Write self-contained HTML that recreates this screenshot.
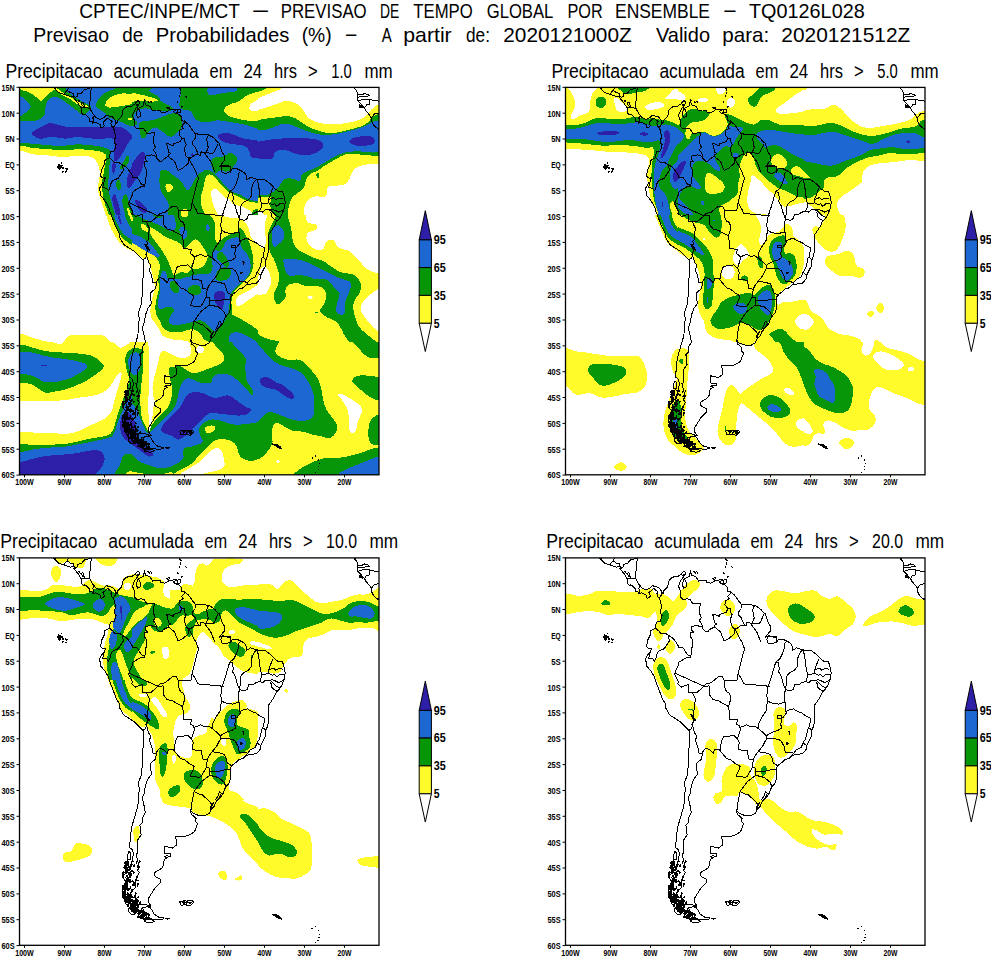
<!DOCTYPE html><html><head><meta charset="utf-8"><title>CPTEC ensemble</title>
<style>html,body{margin:0;padding:0;background:#fff}svg{display:block}text{font-family:"Liberation Sans",sans-serif;fill:#000}</style></head><body>
<svg width="991" height="957" viewBox="0 0 991 957">
<rect width="991" height="957" fill="#fff"/>
<g id="title"><text x="79.3" y="18.2" font-size="20.6" textLength="160.7" lengthAdjust="spacingAndGlyphs">CPTEC/INPE/MCT</text><text x="251.7" y="18.2" font-size="20.6" textLength="17.6" lengthAdjust="spacingAndGlyphs">−</text><text x="280.7" y="18.2" font-size="20.6" textLength="86.0" lengthAdjust="spacingAndGlyphs">PREVISAO</text><text x="380.0" y="18.2" font-size="20.6" textLength="19.3" lengthAdjust="spacingAndGlyphs">DE</text><text x="413.3" y="18.2" font-size="20.6" textLength="59.4" lengthAdjust="spacingAndGlyphs">TEMPO</text><text x="486.7" y="18.2" font-size="20.6" textLength="66.6" lengthAdjust="spacingAndGlyphs">GLOBAL</text><text x="567.5" y="18.2" font-size="20.6" textLength="35.2" lengthAdjust="spacingAndGlyphs">POR</text><text x="615.0" y="18.2" font-size="20.6" textLength="95.0" lengthAdjust="spacingAndGlyphs">ENSEMBLE</text><text x="723.3" y="18.2" font-size="20.6" textLength="13.4" lengthAdjust="spacingAndGlyphs">−</text><text x="749.0" y="18.2" font-size="20.6" textLength="115.7" lengthAdjust="spacingAndGlyphs">TQ0126L028</text><text x="33.3" y="41.7" font-size="20.6" textLength="75.7" lengthAdjust="spacingAndGlyphs">Previsao</text><text x="122.3" y="41.7" font-size="20.6" textLength="21.0" lengthAdjust="spacingAndGlyphs">de</text><text x="155.7" y="41.7" font-size="20.6" textLength="133.6" lengthAdjust="spacingAndGlyphs">Probabilidades</text><text x="301.7" y="41.7" font-size="20.6" textLength="30.0" lengthAdjust="spacingAndGlyphs">(%)</text><text x="345.0" y="41.7" font-size="20.6" textLength="12.3" lengthAdjust="spacingAndGlyphs">−</text><text x="381.7" y="41.7" font-size="20.6" textLength="10.0" lengthAdjust="spacingAndGlyphs">A</text><text x="403.3" y="41.7" font-size="20.6" textLength="48.4" lengthAdjust="spacingAndGlyphs">partir</text><text x="466.0" y="41.7" font-size="20.6" textLength="24.0" lengthAdjust="spacingAndGlyphs">de:</text><text x="503.3" y="41.7" font-size="20.6" textLength="128.4" lengthAdjust="spacingAndGlyphs">2020121000Z</text><text x="656.0" y="41.7" font-size="20.6" textLength="54.0" lengthAdjust="spacingAndGlyphs">Valido</text><text x="722.3" y="41.7" font-size="20.6" textLength="47.0" lengthAdjust="spacingAndGlyphs">para:</text><text x="781.3" y="41.7" font-size="20.6" textLength="129.0" lengthAdjust="spacingAndGlyphs">2020121512Z</text></g>
<defs><clipPath id="clip"><rect x="0.5" y="0.4" width="359.5" height="387.4"/></clipPath><g id="coast" fill="none" shape-rendering="crispEdges" stroke="#000" stroke-width="1" stroke-linejoin="round" stroke-linecap="round"><path d="M96.1 33.0 L97.9 36.7 L98.5 33.4 L100.3 31.6 L102.9 29.0 L103.3 24.1 L106.1 20.7 L108.7 19.4 L112.3 19.4 L116.3 16.6 L118.7 13.5 L120.9 15.0 L120.1 16.8 L117.7 17.9 L119.1 21.0 L118.5 23.0 L117.1 26.7 L118.7 30.8 L121.3 29.5 L121.1 25.1 L119.5 21.2 L121.9 19.9 L124.7 18.9 L124.5 15.8 L125.7 14.8 L126.5 17.9 L128.3 18.4 L130.7 19.2 L132.5 21.8 L133.5 23.6 L137.5 23.0 L141.1 23.0 L141.9 24.9 L145.5 25.6 L148.3 24.3 L150.3 22.8 L154.3 22.5 L157.9 22.4 L155.1 23.8 L154.3 24.3 L156.3 26.2 L159.1 26.9 L162.1 29.5 L162.3 33.4 L165.9 34.9 L169.1 37.0 L171.5 40.1 L173.1 42.7 L176.3 46.8 L179.5 47.1 L181.9 47.3 L185.1 47.1 L189.5 47.9 L193.9 50.2 L196.3 52.5 L198.5 55.1 L200.3 56.4 L201.5 60.3 L203.5 66.0 L205.9 69.1 L205.5 73.2 L203.1 76.3 L200.3 79.9 L203.1 78.4 L207.5 78.6 L211.9 79.4 L211.5 85.1 L213.5 81.5 L217.5 81.5 L221.5 83.5 L225.5 85.6 L227.5 89.2 L227.9 92.8 L231.5 90.3 L237.5 92.3 L241.5 92.8 L245.5 92.6 L251.5 97.0 L256.3 102.1 L259.5 104.2 L263.5 104.5 L264.7 107.8 L266.1 114.6 L265.9 119.7 L262.7 128.0 L259.9 132.1 L257.3 134.7 L255.5 138.9 L251.5 145.1 L249.5 147.6 L249.5 154.4 L249.9 160.6 L248.7 168.3 L246.7 173.5 L246.3 179.2 L244.3 182.8 L241.9 188.0 L241.5 191.6 L237.5 196.2 L232.7 196.8 L227.5 197.8 L223.9 200.9 L220.3 201.9 L217.5 204.5 L213.9 207.1 L211.5 210.2 L211.1 214.9 L211.5 220.5 L210.5 225.2 L207.5 228.8 L205.5 231.9 L204.3 235.5 L201.5 239.7 L197.1 244.3 L195.1 249.0 L191.9 252.3 L190.3 255.7 L185.7 258.5 L180.7 258.3 L174.3 256.0 L171.9 253.6 L172.1 256.7 L173.9 258.0 L177.1 260.9 L176.1 264.0 L178.7 265.8 L175.5 274.3 L170.7 277.4 L165.5 279.0 L156.7 278.7 L157.1 282.1 L157.1 287.8 L153.5 290.6 L145.5 288.8 L145.1 292.4 L145.9 296.0 L151.1 296.0 L151.1 299.1 L147.9 298.1 L145.5 299.1 L148.3 300.2 L145.3 301.7 L144.3 307.9 L142.7 310.8 L135.5 315.2 L135.5 318.3 L139.1 320.8 L141.9 321.9 L141.9 324.7 L135.5 331.2 L134.7 332.7 L131.9 336.9 L129.5 341.0 L129.5 344.6 L132.1 348.5 L127.5 349.3 L122.3 350.8 L121.9 352.6 L120.3 356.5 L115.5 354.4 L112.3 351.9 L108.3 348.2 L105.5 344.1 L104.3 336.4 L103.5 328.6 L107.5 325.0 L103.1 319.3 L107.9 314.6 L111.5 310.0 L113.5 302.7 L114.3 296.5 L113.7 292.4 L110.3 289.8 L110.7 284.7 L111.9 283.6 L111.5 276.9 L113.1 268.1 L115.1 261.4 L118.9 248.5 L119.5 238.1 L120.3 232.4 L119.5 225.2 L122.3 217.4 L123.1 209.2 L123.9 200.1 L123.3 197.3 L124.9 182.3 L124.3 173.5 L120.1 169.1 L114.7 163.9 L108.3 159.8 L104.7 157.5 L100.3 149.7 L100.7 147.1 L96.9 140.1 L94.7 134.2 L91.1 124.9 L89.5 119.7 L85.9 113.5 L81.1 107.8 L81.1 104.2 L80.2 102.0 L83.7 95.9 L85.5 94.9 L86.3 90.8 L84.3 91.3 L81.5 89.2 L82.5 83.0 L85.1 77.8 L85.3 73.7 L86.9 72.8 L90.3 70.6 L90.3 68.5 L91.9 64.4 L95.5 63.9 L97.1 57.7 L95.5 56.1 L96.3 48.9 L95.5 43.2 L93.9 40.6 L92.7 39.1 L91.9 36.2 L93.1 34.4 L91.5 33.4 L89.5 31.3 L87.5 31.6 L86.5 33.4 L83.9 34.9 L85.3 38.6 L83.9 40.4 L81.9 40.6 L81.3 37.5 L78.7 36.5 L76.7 35.2 L73.9 36.2 L72.9 34.4 L70.7 34.2 L70.9 31.6 L67.1 28.2 L65.9 27.2 L65.1 28.2 L62.7 26.4 L62.3 21.5 L59.5 16.8 L55.9 12.2 L54.7 10.6 L55.9 9.1 L51.5 9.6 L46.3 7.8 L39.9 5.7 L36.5 2.6 L33.5 -0.2 M72.9 -0.2 L71.9 3.9 L71.5 10.6 L70.7 15.8 L70.7 21.0 L73.5 26.2 L76.7 30.3 L78.7 31.3 L81.1 32.4 L85.5 30.3 L85.9 29.5 L87.5 28.2 L89.9 29.0 L93.5 30.0 L96.1 33.0 M131.1 350.1 L132.5 351.9 L135.1 356.5 L139.5 359.6 L144.7 360.4 L143.9 361.9 L138.3 362.2 L132.3 361.4 L125.5 361.7 L119.5 359.6 L121.9 357.5 L124.7 354.4 L123.9 350.6 L127.9 349.3Z M109.9 294.0 L111.9 296.0 L111.1 302.2 L108.3 301.7 L108.7 297.1Z M203.1 79.4 L207.5 79.4 L211.5 79.9 L211.1 84.6 L207.1 86.6 L203.1 85.6 L201.9 82.0Z M157.9 25.9 L161.5 25.4 L161.7 22.0 L158.9 22.5Z M160.7 344.1 L165.5 343.1 L168.3 343.8 L167.1 347.2 L161.9 347.7Z M168.7 343.3 L173.5 343.1 L174.5 345.1 L171.5 348.2 L167.5 347.7Z M39.5 77.3 L41.1 77.8 L41.9 81.0 L40.3 83.0 L39.5 81.0Z M38.7 79.4 L39.7 79.7 L39.1 80.4Z M43.3 80.7 L44.7 81.0 L44.1 81.9Z M47.1 81.6 L48.3 82.0 L47.5 82.8Z M42.1 78.9 L43.1 79.1 L42.5 79.8Z M340.3 17.9 L341.5 18.4 L341.9 19.9 L340.7 20.5Z M342.3 18.9 L343.5 19.4 L343.1 21.0Z M125.3 12.7 L126.1 13.5 L125.5 13.6Z M128.9 14.0 L130.5 15.6 L129.7 15.3Z M131.9 14.3 L132.7 15.6 L132.3 15.0Z M147.9 20.7 L150.3 20.2 L150.1 21.5 L148.3 21.5Z M159.7 -2.8 L160.5 -1.0 L159.9 -0.7Z M160.7 1.1 L162.1 2.9 L161.3 3.1Z M161.3 5.2 L161.9 6.8 L161.3 6.8Z M160.5 8.8 L160.9 9.9 L160.5 9.9Z M158.5 14.8 L159.1 15.8 L158.5 15.8Z M166.9 9.1 L167.7 10.1 L167.1 10.4Z M162.1 19.4 L163.3 19.4 L162.7 20.2Z M125.9 157.2 L127.5 158.0 L129.5 161.1 L130.7 163.2 L129.1 162.9 L127.1 160.1Z M200.7 234.0 L202.3 236.1 L200.7 239.7 L197.5 243.3 L196.7 242.3 L199.1 238.1 L199.9 235.5Z M194.7 244.8 L192.7 248.5 L191.5 250.5 L192.3 247.4Z M253.5 357.0 L257.5 357.5 L261.5 359.6 L262.3 361.7 L259.9 360.9 L256.3 358.8Z M104.7 330.1 L107.1 331.2 L106.7 336.4 L104.3 337.4 L103.5 333.8Z M105.9 337.9 L108.3 338.9 L107.1 343.1 L105.1 341.5Z M107.1 304.3 L109.9 305.3 L109.5 309.5 L107.1 311.5 L105.9 307.9Z M109.9 351.3 L113.5 352.4 L116.3 356.5 L112.7 357.0 L109.5 353.9Z M123.1 356.5 L125.5 358.1 L123.9 360.1 L120.7 358.6Z M125.9 362.2 L132.3 362.2 L135.5 363.8 L131.5 365.3 L125.9 364.3Z M146.7 360.9 L150.3 360.6 L148.7 361.7Z M61.9 16.1 L63.9 15.3 L65.5 19.4 L66.3 20.7 L63.5 18.4Z M59.1 13.7 L60.9 13.5 L60.7 14.8Z M337.1 -0.2 L335.5 1.6 L336.7 2.4 L337.9 4.4 L338.3 6.5 L339.1 8.1 L338.3 9.1 L338.5 13.2 L339.9 14.8 L341.5 16.3 L343.5 18.9 L345.5 21.2 L347.1 24.1 L350.3 27.7 L352.3 30.8 L352.7 34.4 L353.9 37.0 L355.9 39.6 L359.5 42.2 L361.5 43.7 M338.7 7.5 L343.5 7.5 L345.5 6.5 L349.5 7.8 L350.3 8.8 L345.5 9.6 L338.7 10.1 M338.7 14.0 L343.5 12.4 L350.7 12.4 L355.5 13.7 L361.5 14.3 M345.5 21.2 L347.5 17.9 L350.7 17.4 L350.7 12.4 M352.3 31.1 L355.5 26.7 L361.5 26.2 M359.5 42.0 L360.7 39.6 L362.3 37.5 M120.1 16.8 L117.5 20.5 L115.5 23.6 L113.5 28.7 L114.3 30.8 L115.9 34.4 L115.7 39.6 L117.5 41.7 L122.7 41.4 L125.1 41.9 L127.7 46.3 L135.5 45.8 L134.1 54.6 L136.3 60.3 L134.1 63.1 L136.7 66.0 L138.0 71.6 M138.0 71.6 L137.1 69.1 L133.9 68.8 L132.7 67.8 L126.1 69.1 L126.1 72.3 L128.9 74.5 L125.3 75.0 L125.3 78.6 L127.9 83.5 L125.7 99.6 M125.7 99.6 L124.3 97.5 L122.7 97.5 L117.9 90.0 L113.9 90.5 L112.7 87.2 L108.3 81.0 L104.5 78.4 M104.5 78.4 L100.3 75.8 L95.9 75.8 L93.5 73.2 L90.3 70.6 M104.5 78.4 L103.1 78.6 L104.7 83.0 L99.1 91.3 L94.3 93.4 L92.3 95.4 L90.7 101.6 L89.5 103.7 L87.5 101.1 L83.9 100.9 L84.3 95.4 M96.1 33.0 L96.7 36.7 L95.5 38.8 L93.9 40.6 M75.3 28.5 L73.9 30.8 L74.3 33.4 L73.9 36.2 M70.9 21.3 L66.7 20.7 L62.7 20.6 M72.9 0.3 L67.5 2.1 L65.5 2.4 L62.3 6.2 L58.7 6.8 L58.5 9.1 L56.3 10.6 M54.3 8.6 L54.7 6.2 L51.5 5.7 L48.1 3.4 M48.1 3.4 L47.3 4.2 L45.1 6.8 M48.1 3.4 L48.9 1.9 L49.9 -0.2 M36.5 2.6 L36.9 -0.2 M165.5 33.7 L166.3 34.9 L162.7 39.1 L164.3 41.1 L160.9 43.2 L159.9 47.1 L162.6 51.0 M162.6 51.0 L161.5 54.6 L154.7 56.9 L154.5 59.0 L149.5 56.7 L147.1 56.7 L148.7 59.2 L149.3 64.9 L151.9 66.5 L149.5 67.8 L149.1 69.6 L144.3 72.2 L143.3 74.0 L140.3 74.0 L138.0 71.6 M162.6 51.0 L165.1 51.0 L165.6 54.6 L167.3 57.4 L166.1 59.2 L165.6 63.6 L166.7 68.3 L168.5 70.6 L171.5 71.1 L173.5 69.8 L176.3 67.6 L179.5 67.8 M176.9 47.1 L176.5 51.0 L173.9 54.1 L173.3 57.2 L176.3 60.5 L179.5 67.8 M179.5 67.8 L181.7 68.3 L181.9 64.9 L187.1 65.8 M189.5 47.9 L187.7 52.0 L188.7 59.2 L189.5 59.8 L187.1 65.8 M187.1 65.8 L190.3 66.0 L193.9 66.5 L195.3 64.7 L198.9 56.9 M125.7 99.6 L122.3 99.6 L114.1 104.5 L112.9 108.9 L110.7 113.5 L109.5 116.6 L113.5 124.4 L112.7 126.4 L116.7 129.6 L123.1 127.0 L123.1 134.7 L127.2 134.5 M127.2 134.5 L130.9 142.5 L129.5 145.1 L129.9 151.3 L127.9 154.4 L128.9 157.0 L127.9 158.5 L129.7 161.6 L126.9 167.3 L127.6 168.3 M127.6 168.3 L126.3 171.4 L124.1 172.7 M127.6 168.3 L129.7 175.6 L131.7 178.1 L130.5 183.3 L132.7 189.0 L134.1 196.0 L136.8 195.7 M127.2 134.5 L130.5 134.7 L132.3 134.7 L138.9 129.0 L144.1 128.3 L144.3 137.3 L148.3 142.2 L153.5 143.3 L157.5 145.8 L161.5 147.6 L163.5 149.2 L164.5 155.9 L164.7 161.9 L172.1 162.1 L171.9 166.8 L174.5 168.6 L175.5 171.9 L172.9 180.0 L172.9 182.0 M172.9 182.0 L169.1 177.9 L158.5 179.4 L156.4 184.1 L154.9 192.9 M154.9 192.9 L154.3 191.6 L149.7 191.6 L148.3 195.7 L144.7 192.1 L140.5 190.6 L136.8 195.7 M136.8 195.7 L137.5 196.8 L136.1 201.9 L131.3 206.1 L132.3 216.9 L129.1 221.1 L126.3 228.3 L125.5 235.0 L123.3 240.7 L125.5 250.0 L126.3 255.2 L123.3 260.4 L123.9 264.5 L120.9 267.6 L122.1 277.4 L118.7 282.6 L118.1 292.9 L118.5 295.5 L116.9 296.5 L118.5 302.7 L120.3 309.5 L118.3 312.6 L120.3 315.2 L117.9 319.8 L116.1 323.4 L116.3 330.1 L111.3 335.8 L113.3 340.5 L116.3 340.0 L115.9 344.6 L117.9 346.7 L125.7 346.7 L131.7 348.5 M154.9 192.9 L161.5 200.9 L165.5 202.2 L170.3 206.1 L175.1 208.9 L174.3 211.5 L171.1 218.7 L175.1 219.2 L180.3 219.8 L182.1 219.2 L187.1 210.2 M172.9 182.0 L174.1 185.1 L173.7 192.1 L178.3 192.9 L182.1 193.1 L183.9 201.7 L188.3 202.2 L187.1 210.2 M187.1 210.2 L190.1 210.5 L190.3 218.2 L182.5 223.9 L175.1 234.0 M175.1 234.0 L172.7 245.9 L171.9 253.1 M175.1 234.0 L181.5 237.1 L183.1 237.3 L189.9 243.3 L192.9 246.9 L191.9 252.3 M113.6 348.0 L114.9 348.2 L115.2 346.3 L114.1 345.8 L113.6 346.6 L113.6 348.0 M106.4 314.8 L107.0 314.9 L106.7 314.0 L106.4 314.8 M125.5 358.8 L126.6 358.3 L125.8 356.4 L125.5 358.8 M111.1 301.0 L110.9 302.1 L111.7 301.9 L111.1 301.0 M110.7 317.9 L110.3 319.4 L111.1 320.0 L111.5 318.8 L110.7 317.9 M108.7 328.9 L107.9 328.4 L107.3 329.7 L108.3 329.9 L108.7 328.9 M105.6 339.6 L105.3 341.1 L106.2 341.8 L106.9 340.9 L106.8 339.1 L105.6 339.6 M110.2 340.1 L111.3 337.2 L109.5 337.6 L110.2 340.1 M107.7 331.6 L107.9 331.3 L107.8 330.8 L107.3 330.8 L107.4 331.4 L107.7 331.6 M108.0 343.5 L108.3 343.9 L108.7 343.5 L108.5 343.0 L108.2 343.0 L108.0 343.5 M117.9 350.8 L118.1 351.0 L118.5 350.9 L118.4 350.3 L118.0 350.4 L117.9 350.8 M104.4 335.1 L104.2 335.7 L104.7 335.7 L104.7 335.2 L104.4 335.1 M123.6 360.2 L123.5 359.0 L122.6 359.8 L123.6 360.2 M123.9 353.9 L123.5 354.6 L124.0 355.7 L124.5 354.8 L124.7 353.8 L123.9 353.9 M108.1 341.5 L106.5 341.3 L107.5 343.7 L108.1 341.5 M110.3 331.6 L109.8 330.7 L108.9 331.3 L109.1 332.8 L110.1 332.5 L110.3 331.6 M128.9 357.5 L129.6 357.7 L129.2 356.7 L128.9 357.5 M113.4 348.3 L113.2 349.9 L114.4 350.3 L114.4 348.7 L113.4 348.3 M122.2 354.2 L123.3 355.0 L124.4 353.9 L123.0 352.2 L122.2 354.2 M109.5 340.5 L111.1 339.8 L110.1 337.9 L109.5 340.5 M107.9 326.0 L107.2 326.8 L107.9 327.0 L107.9 326.0 M116.2 352.6 L114.9 354.2 L116.2 355.9 L116.2 352.6 M108.9 341.2 L109.4 341.2 L109.9 340.6 L109.3 340.3 L108.9 340.3 L108.9 341.2 M107.3 327.3 L106.6 326.0 L105.8 326.7 L106.3 328.2 L107.3 327.3 M125.9 361.9 L126.1 361.3 L125.7 361.1 L125.4 361.6 L125.9 361.9 M114.8 344.6 L115.1 343.2 L114.2 342.8 L113.6 344.2 L114.8 344.6 M108.4 342.3 L108.6 343.3 L109.7 343.2 L109.1 341.9 L108.4 342.3 M128.6 356.6 L129.0 357.1 L129.7 356.6 L129.0 355.9 L128.6 356.6 M107.1 327.0 L106.5 327.6 L107.0 328.5 L107.7 327.7 L107.1 327.0 M108.7 344.8 L108.4 345.1 L108.8 345.4 L109.1 345.0 L108.7 344.8 M110.5 339.6 L109.6 338.9 L109.5 340.8 L110.5 339.6 M113.8 349.6 L114.1 349.0 L114.1 348.3 L113.6 348.2 L113.2 349.1 L113.8 349.6 M122.7 359.9 L124.2 360.5 L124.3 358.4 L122.9 357.9 L122.7 359.9 M120.1 355.7 L120.9 356.9 L121.4 356.2 L121.2 354.7 L120.1 355.7 M112.0 345.9 L112.7 346.7 L112.7 345.6 L112.0 345.9 M108.4 314.2 L108.3 314.6 L108.8 314.7 L108.4 314.2 M107.5 331.3 L106.7 331.1 L106.2 331.9 L107.0 332.7 L107.5 331.3 M113.6 352.6 L112.1 353.7 L113.6 354.1 L113.6 352.6 M108.6 319.4 L107.5 318.6 L106.8 320.4 L108.0 320.6 L108.6 319.4 M106.5 336.6 L106.1 337.4 L106.8 337.6 L107.4 337.1 L107.0 336.2 L106.5 336.6 M124.8 357.0 L124.4 357.6 L124.3 358.5 L125.1 358.5 L125.3 357.6 L124.8 357.0 M107.9 339.6 L107.5 339.6 L107.5 339.9 L107.8 340.1 L107.9 339.6 M110.8 322.4 L110.2 322.1 L109.9 322.3 L109.7 323.3 L110.5 323.3 L110.8 322.4 M104.7 318.8 L103.6 319.6 L104.4 320.5 L104.7 318.8 M108.2 331.4 L108.7 330.6 L107.8 330.2 L108.2 331.4 M126.6 363.5 L127.2 361.8 L126.1 361.7 L126.6 363.5 M104.3 318.3 L103.7 317.1 L103.1 318.3 L103.7 319.1 L104.3 318.3 M105.8 341.0 L105.7 340.1 L105.2 340.0 L105.3 340.7 L105.8 341.0 M121.3 353.6 L121.4 354.3 L121.7 354.0 L121.3 353.6 M108.4 303.0 L108.3 303.5 L108.5 304.2 L108.7 303.6 L108.9 303.0 L108.4 303.0 M111.9 344.4 L111.5 345.7 L112.4 346.3 L113.4 345.6 L112.9 343.9 L111.9 344.4 M104.7 316.8 L105.9 316.7 L106.5 315.7 L105.8 314.5 L104.7 314.9 L104.7 316.8 M103.5 315.1 L103.4 316.0 L103.9 317.4 L104.7 316.1 L104.6 314.4 L103.5 315.1 M107.2 308.3 L106.1 308.1 L106.4 309.5 L107.2 308.3 M124.3 355.4 L124.5 356.5 L125.1 356.9 L125.4 356.0 L125.1 355.0 L124.3 355.4 M125.2 356.9 L125.6 357.6 L125.9 356.6 L125.2 356.9 M105.8 343.8 L106.5 345.0 L107.1 344.9 L107.4 344.1 L106.8 343.6 L105.8 343.8 M119.6 353.4 L120.1 354.1 L120.3 353.0 L119.6 353.4 M112.5 349.9 L112.1 350.1 L112.2 350.6 L112.5 350.9 L112.7 350.4 L112.5 349.9 M116.9 352.5 L118.3 352.8 L117.6 350.9 L116.9 352.5 M127.5 357.6 L128.0 357.9 L128.2 357.2 L127.7 356.8 L127.5 357.6 M104.1 329.2 L103.3 328.8 L103.4 330.2 L104.1 329.2 M124.5 354.0 L124.0 354.0 L124.1 354.7 L124.6 354.8 L124.5 354.0 M111.3 317.9 L112.3 317.7 L112.2 316.2 L111.3 316.3 L110.9 317.0 L111.3 317.9 M125.1 359.4 L125.1 358.2 L124.2 358.3 L124.2 359.2 L124.5 360.1 L125.1 359.4 M104.5 334.5 L104.3 334.9 L104.3 335.3 L104.6 335.3 L104.9 334.9 L104.5 334.5 M107.0 326.3 L106.5 328.0 L108.0 328.2 L108.3 326.1 L107.0 326.3 M111.1 348.6 L111.0 349.9 L112.3 350.1 L112.0 348.3 L111.1 348.6 M126.9 356.8 L127.0 355.4 L126.1 355.5 L126.2 356.4 L126.9 356.8 M109.9 343.9 L110.6 343.5 L110.4 342.5 L109.6 342.8 L109.9 343.9 M114.1 350.4 L114.5 350.8 L115.1 350.4 L115.1 349.0 L114.3 349.7 L114.1 350.4 M115.9 356.2 L116.5 356.3 L116.4 355.6 L115.9 355.4 L115.9 356.2 M112.2 305.3 L112.8 304.8 L112.2 304.3 L112.2 305.3 M122.5 354.7 L122.2 354.3 L121.8 354.8 L122.1 355.4 L122.7 355.4 L122.5 354.7 M113.9 350.1 L113.3 348.8 L112.9 349.8 L113.9 350.1 M115.3 349.4 L114.7 350.2 L115.6 350.6 L115.3 349.4 M121.7 360.8 L123.1 359.8 L121.8 358.6 L121.7 360.8 M110.1 345.4 L110.1 344.6 L109.5 344.1 L108.8 345.0 L109.5 345.6 L110.1 345.4 M105.2 304.7 L105.8 305.7 L106.4 304.3 L105.2 304.7 M104.3 328.8 L104.2 328.1 L103.7 328.2 L103.5 328.9 L104.0 329.1 L104.3 328.8 M117.3 350.7 L117.7 350.4 L117.2 350.1 L117.3 350.7 M117.9 354.6 L118.7 353.4 L117.6 353.2 L117.9 354.6 M125.6 363.7 L125.5 364.5 L126.1 364.0 L125.6 363.7 M116.7 352.9 L115.7 353.3 L116.4 354.4 L116.7 352.9 M112.7 340.1 L113.1 340.2 L113.1 339.5 L112.6 339.3 L112.5 339.9 L112.7 340.1 M104.0 330.3 L105.1 330.4 L104.6 328.5 L104.0 330.3 M106.0 343.3 L106.6 343.3 L106.4 342.5 L105.9 342.3 L105.7 342.9 L106.0 343.3 M123.3 356.0 L123.6 354.8 L122.6 355.4 L123.3 356.0 M107.6 303.7 L106.9 303.7 L106.3 304.1 L106.8 304.6 L107.3 304.8 L107.6 303.7 M127.9 357.7 L126.8 357.2 L127.3 358.7 L127.9 357.7 M114.8 344.9 L113.9 346.2 L115.3 346.7 L114.8 344.9 M120.1 355.1 L120.0 354.5 L119.7 355.1 L120.1 355.1 M130.2 356.8 L129.7 357.1 L129.5 358.1 L130.4 358.0 L130.2 356.8 M115.0 354.8 L114.9 354.4 L114.6 354.3 L114.6 355.1 L115.0 354.8 M109.7 347.8 L109.1 346.8 L108.3 347.6 L108.2 349.2 L109.4 349.0 L109.7 347.8 M115.4 355.9 L116.1 356.5 L116.9 355.9 L116.5 354.6 L115.3 354.1 L115.4 355.9 M109.9 341.7 L109.1 344.1 L110.6 343.5 L109.9 341.7 M110.6 340.5 L109.9 341.8 L110.4 342.8 L111.5 342.0 L110.6 340.5 M108.5 320.2 L107.8 321.3 L108.3 322.8 L109.3 321.9 L109.4 320.6 L108.5 320.2 M119.2 350.5 L119.5 348.3 L118.0 348.0 L118.1 349.7 L119.2 350.5 M107.9 320.9 L107.7 321.9 L108.3 322.1 L108.7 321.6 L108.6 320.7 L107.9 320.9 M107.1 344.4 L107.3 345.2 L107.7 344.5 L107.1 344.4 M104.5 315.2 L104.6 315.7 L104.9 315.6 L105.0 315.0 L104.5 315.2 M111.7 339.0 L111.5 338.4 L111.2 338.9 L111.7 339.0 M115.3 350.6 L116.5 350.8 L115.7 349.1 L115.3 350.6 M109.9 346.9 L110.2 346.3 L109.7 346.1 L109.9 346.9 M107.2 328.6 L108.0 328.5 L108.1 327.3 L107.3 326.6 L106.8 327.6 L107.2 328.6 M122.2 357.7 L121.5 357.9 L121.4 359.3 L122.3 358.6 L122.2 357.7 M106.6 311.4 L107.0 311.9 L107.7 311.9 L107.4 311.0 L106.9 310.6 L106.6 311.4 M124.5 361.6 L124.9 362.7 L125.6 362.2 L125.7 361.2 L125.0 361.0 L124.5 361.6 M120.2 353.6 L120.5 354.3 L120.9 354.1 L120.8 353.4 L120.2 353.6 M111.1 308.9 L110.4 309.1 L110.8 309.8 L111.1 308.9 M112.5 307.9 L113.3 307.5 L112.9 306.1 L112.0 306.6 L111.9 307.6 L112.5 307.9 M111.5 330.4 L111.0 331.0 L111.6 331.4 L111.5 330.4 M106.5 342.4 L106.1 341.5 L105.7 342.6 L106.5 342.4 M106.3 331.3 L106.7 330.4 L105.9 330.6 L106.3 331.3 M128.2 360.1 L128.6 360.6 L129.1 361.0 L129.4 360.0 L128.8 359.9 L128.2 360.1 M110.7 351.2 L111.3 351.8 L112.4 351.8 L111.9 350.2 L110.9 349.9 L110.7 351.2 M124.9 358.7 L125.4 358.7 L125.8 358.1 L125.3 357.8 L124.8 357.9 L124.9 358.7 M112.4 337.6 L111.8 337.9 L112.3 338.8 L112.4 337.6 M114.6 347.1 L114.3 349.4 L115.8 348.8 L114.6 347.1 M110.5 345.1 L110.8 345.3 L111.1 344.9 L110.9 344.4 L110.6 344.7 L110.5 345.1 M109.9 330.8 L110.1 332.0 L110.7 331.9 L110.9 330.7 L109.9 330.8 M108.2 307.6 L109.7 307.4 L109.3 305.2 L108.0 305.9 L108.2 307.6 M116.8 351.1 L116.1 352.0 L116.9 353.1 L116.8 351.1 M120.9 354.4 L120.2 353.6 L119.6 354.1 L120.0 355.2 L120.9 354.4 M112.8 352.2 L113.7 351.4 L113.1 350.8 L112.8 352.2 M111.9 309.5 L112.6 308.2 L111.2 308.0 L111.9 309.5 M110.1 339.1 L109.6 339.4 L110.1 340.2 L110.1 339.1 M107.6 311.0 L106.7 312.1 L108.0 313.1 L108.6 311.4 L107.6 311.0 M109.9 337.6 L108.9 338.4 L108.9 339.8 L110.0 340.8 L110.7 339.0 L109.9 337.6 M108.1 318.2 L107.7 317.7 L107.2 318.2 L107.7 318.7 L108.1 318.2 M111.9 314.2 L110.8 315.1 L111.6 316.7 L111.9 314.2 M107.3 325.6 L106.8 326.2 L107.0 327.2 L108.0 327.4 L108.3 325.8 L107.3 325.6 M124.5 356.0 L123.7 356.3 L123.5 357.5 L124.5 358.2 L124.8 356.9 L124.5 356.0 M112.4 343.6 L112.5 344.3 L112.9 344.2 L113.1 343.8 L112.8 343.3 L112.4 343.6 M127.5 358.3 L128.2 357.3 L127.7 356.4 L126.8 357.0 L127.5 358.3 M114.7 351.2 L114.9 352.1 L115.5 352.0 L115.5 351.3 L115.2 350.9 L114.7 351.2 M111.3 338.4 L110.9 338.2 L110.4 338.5 L110.7 339.3 L111.1 339.0 L111.3 338.4 M115.4 352.1 L115.4 354.1 L116.6 353.6 L115.4 352.1 M108.5 308.2 L109.7 308.9 L109.8 307.6 L108.5 308.2 M109.1 335.5 L108.5 336.3 L108.6 337.5 L109.8 338.2 L109.8 336.3 L109.1 335.5 M107.1 309.6 L107.1 309.1 L106.7 309.0 L106.7 309.7 L107.1 309.6 M104.5 340.7 L105.9 340.3 L105.3 338.8 L104.5 340.7 M123.2 358.0 L123.5 358.3 L123.9 357.9 L123.7 357.4 L123.3 357.4 L123.2 358.0 M106.8 312.0 L107.2 312.9 L107.6 312.7 L107.5 312.1 L106.8 312.0 M108.3 327.5 L107.1 327.0 L107.7 328.6 L108.3 327.5 M109.8 350.6 L110.4 351.0 L110.6 350.4 L110.2 349.9 L109.8 350.6 M105.7 338.9 L104.7 338.5 L103.6 339.5 L104.6 340.7 L105.7 340.6 L105.7 338.9 M107.2 313.2 L107.6 312.2 L106.9 312.2 L107.2 313.2 M107.0 315.3 L106.2 315.4 L106.7 316.5 L107.2 315.9 L107.0 315.3 M104.5 334.9 L104.9 335.7 L105.7 335.5 L105.7 334.3 L104.9 334.3 L104.5 334.9 M108.5 331.1 L107.4 332.1 L108.7 332.6 L108.5 331.1 M127.1 356.0 L127.3 356.6 L127.7 356.3 L127.6 355.2 L127.1 356.0 M104.9 330.2 L105.3 330.3 L105.6 329.9 L105.4 329.5 L105.0 329.5 L104.9 330.2 M106.5 330.2 L107.0 328.3 L105.9 328.5 L106.5 330.2 M118.3 351.2 L118.6 351.4 L118.9 351.1 L118.8 350.5 L118.4 350.7 L118.3 351.2 M107.4 309.8 L106.3 309.1 L105.0 309.9 L106.3 311.2 L107.4 309.8 M105.4 332.1 L105.1 332.8 L105.3 334.1 L106.1 333.4 L106.0 332.5 L105.4 332.1 M105.3 327.3 L104.7 328.3 L104.4 329.5 L105.3 329.3 L105.9 328.5 L105.3 327.3 M114.3 347.5 L114.9 347.3 L114.9 346.7 L114.4 346.6 L114.3 347.5 M107.9 343.7 L107.3 343.0 L106.9 343.2 L107.1 343.8 L107.9 343.7 M109.4 317.0 L110.2 317.2 L110.9 316.3 L110.2 315.0 L109.1 315.5 L109.4 317.0 M114.9 345.7 L114.6 345.4 L114.3 345.6 L114.2 346.4 L114.7 346.1 L114.9 345.7 M109.3 331.6 L108.9 331.1 L108.7 331.7 L109.3 331.6 M108.4 306.9 L107.7 306.4 L107.0 306.1 L107.2 307.2 L107.7 307.7 L108.4 306.9 M109.1 319.4 L109.4 321.1 L110.3 319.9 L109.1 319.4 M125.4 357.4 L127.0 357.7 L126.3 356.0 L125.4 357.4 M128.0 362.1 L128.9 360.0 L127.2 360.5 L128.0 362.1 M115.6 344.9 L114.1 345.0 L114.8 346.8 L115.6 344.9 M120.8 354.9 L121.3 354.8 L121.3 354.1 L120.8 353.3 L120.2 354.2 L120.8 354.9 M105.5 339.1 L105.9 339.5 L106.2 338.9 L105.7 338.6 L105.5 339.1 M127.3 358.9 L126.9 360.2 L127.6 360.7 L128.6 360.8 L128.1 359.6 L127.3 358.9 M108.5 342.1 L108.1 342.6 L108.1 343.5 L108.7 343.4 L108.9 342.7 L108.5 342.1 M106.1 325.3 L105.8 325.9 L106.4 326.1 L106.1 325.3 M121.3 352.7 L120.4 352.7 L120.4 353.8 L121.3 354.2 L121.3 352.7 M107.2 309.5 L107.4 311.1 L108.5 310.8 L107.2 309.5 M103.7 337.0 L103.6 338.1 L104.3 338.7 L105.2 337.6 L104.4 336.7 L103.7 337.0 M116.7 350.9 L115.5 352.5 L116.9 352.9 L117.7 352.0 L116.7 350.9 M119.8 351.8 L119.4 352.8 L120.2 352.9 L119.8 351.8 M128.9 359.5 L129.4 360.4 L130.3 360.6 L130.0 359.4 L129.5 358.5 L128.9 359.5 M112.1 336.7 L111.9 335.6 L111.1 335.7 L111.4 336.9 L112.1 336.7 M107.4 322.9 L107.7 324.0 L108.3 323.8 L108.5 323.2 L108.1 322.6 L107.4 322.9 M113.1 343.3 L112.5 343.1 L112.1 343.4 L112.2 344.5 L113.0 344.4 L113.1 343.3 M110.0 341.9 L111.2 343.2 L112.6 342.3 L111.3 341.0 L110.0 341.9 M125.9 355.5 L127.2 356.2 L127.1 354.5 L125.9 355.5 M111.1 342.3 L111.4 344.3 L112.3 342.7 L111.1 342.3 M119.1 358.1 L118.9 359.9 L120.4 358.6 L119.1 358.1 M107.9 335.5 L108.4 336.6 L108.8 335.4 L107.9 335.5 M112.0 303.6 L112.0 304.7 L112.6 304.9 L112.7 304.1 L112.0 303.6 M125.3 355.4 L126.0 355.1 L125.5 354.4 L125.3 355.4 M112.2 346.4 L111.0 346.8 L111.8 348.1 L112.8 347.7 L112.2 346.4 M121.3 359.9 L121.7 360.8 L122.4 359.7 L121.3 359.9 M105.0 331.6 L105.4 331.9 L105.7 331.5 L105.5 331.2 L105.2 331.1 L105.0 331.6 M115.4 347.0 L114.7 349.1 L116.0 350.4 L116.3 348.6 L115.4 347.0 M119.4 357.8 L120.0 357.0 L119.7 355.9 L118.9 356.6 L119.4 357.8 M114.5 347.5 L113.4 347.4 L114.1 349.2 L114.5 347.5 M106.2 312.5 L107.3 314.2 L107.6 311.7 L106.2 312.5 M111.9 311.3 L110.8 311.9 L110.9 313.4 L111.9 314.3 L112.1 312.8 L111.9 311.3 M108.0 325.4 L108.1 326.5 L108.5 325.5 L108.0 325.4 M115.2 350.3 L115.3 350.7 L115.7 350.5 L115.6 350.0 L115.3 349.8 L115.2 350.3 M108.8 343.4 L109.4 343.4 L109.5 342.7 L108.9 342.5 L108.8 343.4 M111.9 350.2 L112.9 349.1 L111.8 348.0 L111.1 349.2 L111.9 350.2 M108.2 342.5 L109.0 341.1 L108.2 339.5 L107.7 341.1 L108.2 342.5 M112.5 342.6 L113.0 342.9 L113.4 342.7 L113.3 342.0 L112.7 341.7 L112.5 342.6 M106.1 332.9 L107.0 332.0 L106.0 330.7 L106.1 332.9 M124.2 357.3 L124.4 358.4 L124.8 359.1 L125.5 358.3 L125.1 357.3 L124.2 357.3 M109.4 324.0 L109.1 322.9 L108.3 323.7 L109.4 324.0 M108.1 304.0 L107.7 305.2 L108.6 305.4 L109.4 304.9 L109.0 303.4 L108.1 304.0 M108.4 328.6 L107.9 327.9 L106.8 328.5 L107.4 330.2 L108.5 329.8 L108.4 328.6 M121.7 345.1 L121.7 344.4 L121.4 344.5 L121.2 345.0 L121.7 345.1 M115.8 338.4 L115.8 339.1 L116.4 339.1 L116.3 338.4 L116.1 338.2 L115.8 338.4 M116.0 338.9 L115.7 338.3 L115.3 338.5 L115.3 339.5 L116.0 338.9 M116.4 346.0 L116.4 347.1 L117.5 346.4 L116.4 346.0 M118.0 320.7 L118.4 319.4 L117.4 319.4 L118.0 320.7 M120.7 305.0 L121.1 303.9 L120.3 303.3 L120.3 304.3 L120.7 305.0 M118.5 309.8 L118.3 309.4 L118.0 309.5 L118.2 309.9 L118.5 309.8 M117.9 343.7 L117.9 344.4 L118.3 344.6 L118.4 344.3 L118.3 343.9 L117.9 343.7 M114.1 324.2 L114.3 323.9 L114.1 323.6 L113.8 323.8 L114.1 324.2 M115.6 308.5 L115.3 307.4 L114.7 308.0 L114.9 309.0 L115.6 308.5 M119.3 326.7 L118.9 325.4 L118.3 326.6 L119.3 326.7 M118.5 346.2 L117.8 346.6 L117.9 347.4 L118.5 347.5 L118.5 346.2 M118.3 309.5 L119.1 309.9 L119.4 309.1 L119.2 308.3 L118.4 308.1 L118.3 309.5 M113.3 323.1 L112.4 324.3 L113.5 324.5 L113.3 323.1 M114.5 316.0 L114.9 316.0 L115.0 315.3 L114.5 315.4 L114.5 316.0 M111.4 322.7 L111.9 323.4 L112.1 322.3 L111.7 321.9 L111.1 321.8 L111.4 322.7 M111.4 328.7 L111.2 329.1 L111.5 329.2 L111.6 328.8 L111.4 328.7 M114.8 326.9 L115.0 325.6 L114.1 326.1 L114.1 327.3 L114.8 326.9 M119.0 311.4 L119.3 311.7 L119.5 311.5 L119.3 310.9 L119.0 311.4 M114.3 304.0 L113.7 303.4 L113.8 304.6 L114.3 304.0 M121.5 345.7 L121.0 345.3 L120.4 345.3 L120.5 346.4 L121.2 346.5 L121.5 345.7 M114.0 327.9 L114.2 326.7 L113.4 326.9 L114.0 327.9 M119.1 347.7 L119.4 347.2 L119.3 346.9 L118.9 347.1 L119.1 347.7 M114.8 326.3 L115.3 325.9 L115.2 325.0 L114.6 324.9 L114.4 325.6 L114.8 326.3 M119.1 326.1 L119.3 325.7 L118.9 325.4 L118.7 325.8 L118.8 326.1 L119.1 326.1 M112.8 332.9 L113.3 332.7 L113.7 332.2 L113.2 331.7 L112.9 332.1 L112.8 332.9 M117.3 342.3 L117.9 343.4 L118.3 342.1 L117.6 341.5 L117.3 342.3 M114.8 342.6 L114.3 343.5 L114.9 344.1 L115.4 343.4 L114.8 342.6 M117.7 322.7 L117.8 321.9 L117.2 322.0 L116.9 323.2 L117.7 322.7 M117.6 320.0 L117.3 320.7 L117.8 320.7 L117.6 320.0 M114.8 314.7 L115.0 315.2 L115.2 314.8 L115.2 314.6 L114.9 314.3 L114.8 314.7 M112.6 332.4 L112.9 331.9 L112.5 331.7 L112.6 332.4 M119.1 323.3 L119.0 322.9 L118.7 322.8 L118.8 323.3 L119.1 323.3 M117.3 305.1 L117.7 305.7 L117.9 305.1 L117.6 304.2 L117.3 305.1 M113.1 339.2 L112.9 339.8 L113.3 340.4 L113.6 339.8 L113.5 339.1 L113.1 339.2 M119.3 340.2 L119.4 339.2 L118.7 339.5 L118.5 340.2 L118.9 340.6 L119.3 340.2 M117.7 343.3 L116.9 343.6 L116.7 344.6 L117.4 344.9 L117.8 344.4 L117.7 343.3 M116.9 348.2 L117.5 347.7 L116.9 346.7 L116.1 347.2 L116.4 348.2 L116.9 348.2 M118.9 328.3 L118.1 327.8 L118.3 329.0 L118.9 328.3 M114.7 326.8 L114.7 327.7 L115.0 327.9 L115.2 327.5 L114.7 326.8 M113.7 313.8 L113.1 312.5 L112.7 314.3 L113.7 313.8 M110.9 325.1 L111.5 325.1 L111.7 324.4 L111.3 323.9 L110.8 324.1 L110.9 325.1 M118.9 343.5 L119.1 344.1 L119.7 343.4 L118.9 343.5 M117.1 336.4 L116.9 335.5 L116.2 335.4 L116.1 336.5 L116.7 336.8 L117.1 336.4 M116.0 327.9 L116.4 327.6 L116.1 327.2 L115.8 326.9 L115.6 327.6 L116.0 327.9 M169.9 71.4 L172.3 76.3 L177.5 85.6 L178.3 89.2 L179.9 90.8 L177.9 96.5 L173.1 115.8 M149.5 69.6 L155.5 74.2 L159.1 83.5 L163.9 81.0 L169.5 76.3 L169.9 71.4 M110.3 115.8 L138.3 128.5 M138.3 128.5 L141.5 126.4 L145.9 125.4 L153.5 119.2 L157.5 119.2 L159.5 123.3 M159.5 123.3 L171.9 123.1 L173.1 115.8 M159.5 123.3 L159.5 129.6 L161.5 134.2 L163.9 135.2 L165.9 139.4 L165.5 142.5 L163.9 147.6 L163.7 149.2 M173.1 115.8 L177.5 123.3 L178.7 126.4 L204.7 128.8 M185.9 66.5 L192.3 75.3 L195.5 84.1 M202.3 142.9 L201.5 152.8 L196.3 160.6 L193.1 167.3 L193.1 170.9 M221.9 154.9 L217.9 160.1 L216.3 160.6 L215.9 166.8 L216.3 170.9 L212.7 173.0 L208.7 174.0 L203.5 176.6 L201.5 178.7 M193.1 170.9 L189.5 168.8 L185.5 169.4 L181.5 167.3 L175.5 169.9 L174.5 168.6 M193.1 170.9 L197.5 174.5 L201.5 178.7 L201.5 181.2 L197.5 189.0 L193.1 194.2 L189.5 199.3 L188.3 202.2 M201.5 181.2 L207.5 181.2 L213.5 181.8 L216.3 183.8 L219.1 189.0 L220.3 194.7 L225.5 194.7 L228.7 195.7 M228.7 195.7 L226.7 198.6 M193.1 194.2 L199.5 195.2 L205.5 196.8 L207.1 200.9 L208.3 205.5 L213.1 208.4 M211.1 212.3 L205.5 212.3 L200.3 213.8 L193.5 213.8 L190.7 213.8 M206.7 229.3 L205.5 225.2 L199.5 220.0 L193.5 218.5 L190.3 218.2 M228.7 195.7 L231.5 192.1 L236.3 190.0 L237.9 185.4 L241.5 188.0 M237.9 185.4 L240.7 181.2 L241.9 176.1 L243.1 170.9 L243.9 170.4 L247.1 172.5 M212.7 158.0 L216.3 158.0 L216.3 160.8 L212.7 160.8 L212.7 158.0 M220.1 85.0 L219.5 89.7 L217.5 95.9 L214.9 101.2 L210.7 104.8 L208.6 111.6 L206.5 119.0 L204.4 125.2 L202.8 130.4 L201.8 137.7 L202.3 142.9 M210.7 104.8 L213.3 105.4 L214.3 110.6 L213.8 114.8 L216.4 119.0 L217.5 124.2 L219.5 129.4 L220.6 132.0 M202.3 142.9 L205.5 145.1 L209.6 146.1 L213.8 146.6 L218.0 145.1 L220.1 145.1 M220.6 132.0 L219.5 135.7 L219.0 140.9 L220.1 145.1 L220.1 150.3 L220.6 154.5 M237.9 92.3 L235.2 94.9 L233.1 99.0 L232.6 104.3 L232.1 109.5 L229.5 112.6 L225.3 114.8 L222.2 117.9 L221.1 122.1 L221.1 127.3 L220.6 132.0 M238.4 92.8 L239.4 98.0 L240.5 104.3 L241.0 109.5 L242.0 114.8 L242.5 116.8 M242.5 116.8 L242.0 121.0 L240.5 124.2 L236.8 125.2 L233.7 127.3 L229.5 127.3 L228.4 131.5 L225.3 133.5 L222.2 132.5 L220.6 132.0 M253.5 101.7 L251.9 106.4 L249.9 111.6 L249.9 115.8 L246.2 116.8 L242.5 116.8 M264.0 111.6 L259.8 111.1 L256.7 112.6 L254.6 110.6 L251.9 111.6 L250.1 112.6 M265.0 116.8 L260.8 116.8 L257.7 119.5 L255.6 116.8 L253.5 117.9 L249.9 115.8 M264.0 123.1 L259.8 125.2 L255.6 123.1 L252.5 122.1 L250.4 123.1 M250.4 123.1 L246.2 122.6 L244.1 125.2 L241.0 124.2 M260.8 130.4 L256.7 128.3 L253.5 125.2 L251.9 123.6 M258.2 134.1 L254.6 131.5 L252.5 129.4 L251.9 125.2 M220.6 154.5 L224.3 152.3 L228.4 151.3 L231.6 153.4 L236.8 155.5 L241.0 158.7 L245.1 160.7 L245.5 163.2 L243.9 170.4"/><path d="M125.9 157.2 L127.5 158.0 L129.5 161.1 L130.7 163.2 L129.1 162.9 L127.1 160.1Z M253.5 357.0 L257.5 357.5 L261.5 359.6 L262.3 361.7 L259.9 360.9 L256.3 358.8Z M163.1 344.1 L166.3 344.6 L164.7 346.2Z M169.5 344.6 L172.7 344.6 L171.1 346.7Z M223.9 174.0 L225.1 175.6 L224.3 177.1Z M221.1 184.9 L223.5 185.9 L221.9 186.9Z M39.5 77.3 L41.1 77.8 L41.9 81.0 L40.3 83.0 L39.5 81.0Z M38.5 79.1 L39.7 79.4 L39.1 80.7Z M43.1 80.4 L44.9 80.7 L44.1 82.2Z M46.7 81.4 L48.5 82.0 L47.5 83.0Z M41.9 78.6 L43.3 78.9 L42.5 80.0Z M43.3 84.1 L44.3 84.3 L43.7 85.1Z M46.3 84.6 L47.1 84.8 L46.7 85.3Z M42.1 75.5 L42.7 76.3 L42.3 76.4Z" fill="#000"/><circle cx="300.3" cy="376.7" r="0.7" fill="#000" stroke="none"/><circle cx="299.5" cy="373.1" r="0.7" fill="#000" stroke="none"/><circle cx="296.7" cy="368.9" r="0.7" fill="#000" stroke="none"/><circle cx="299.9" cy="379.8" r="0.7" fill="#000" stroke="none"/><circle cx="299.1" cy="382.9" r="0.7" fill="#000" stroke="none"/><circle cx="296.3" cy="385.2" r="0.7" fill="#000" stroke="none"/><circle cx="293.1" cy="371.0" r="0.7" fill="#000" stroke="none"/></g><g id="cbar" stroke="#000" stroke-width="1" stroke-linejoin="miter"><path d="M400.2 152.9 L406.3 123.7 L412.4 152.9 Z" fill="#2e1fa8"/><rect x="400.2" y="152.9" width="12.2" height="27.7" fill="#1c67d2"/><rect x="400.2" y="180.6" width="12.2" height="27.8" fill="#079607"/><rect x="400.2" y="208.4" width="12.2" height="27.9" fill="#fffa2a"/><path d="M400.2 236.3 L406.3 264.5 L412.4 236.3 Z" fill="#fff"/></g><g id="cbl" font-weight="bold" font-size="12"><text x="414.7" y="157.2" textLength="12.0" lengthAdjust="spacingAndGlyphs">95</text><text x="414.7" y="184.9" textLength="12.0" lengthAdjust="spacingAndGlyphs">65</text><text x="414.7" y="212.7" textLength="12.0" lengthAdjust="spacingAndGlyphs">35</text><text x="414.7" y="240.6" textLength="5.8" lengthAdjust="spacingAndGlyphs">5</text></g><g id="axes"><g font-weight="bold" font-size="9.4"><text x="-17.5" y="3.7" textLength="13.2" lengthAdjust="spacingAndGlyphs">15N</text><path d="M-2.5 0.3 H0.5" stroke="#000" stroke-width="1" fill="none"/><text x="-17.5" y="29.6" textLength="13.2" lengthAdjust="spacingAndGlyphs">10N</text><path d="M-2.5 26.2 H0.5" stroke="#000" stroke-width="1" fill="none"/><text x="-13.8" y="55.4" textLength="9.5" lengthAdjust="spacingAndGlyphs">5N</text><path d="M-2.5 52.0 H0.5" stroke="#000" stroke-width="1" fill="none"/><text x="-13.8" y="81.3" textLength="9.5" lengthAdjust="spacingAndGlyphs">EQ</text><path d="M-2.5 77.9 H0.5" stroke="#000" stroke-width="1" fill="none"/><text x="-13.8" y="107.1" textLength="9.5" lengthAdjust="spacingAndGlyphs">5S</text><path d="M-2.5 103.7 H0.5" stroke="#000" stroke-width="1" fill="none"/><text x="-17.5" y="133.0" textLength="13.2" lengthAdjust="spacingAndGlyphs">10S</text><path d="M-2.5 129.6 H0.5" stroke="#000" stroke-width="1" fill="none"/><text x="-17.5" y="158.8" textLength="13.2" lengthAdjust="spacingAndGlyphs">15S</text><path d="M-2.5 155.4 H0.5" stroke="#000" stroke-width="1" fill="none"/><text x="-17.5" y="184.7" textLength="13.2" lengthAdjust="spacingAndGlyphs">20S</text><path d="M-2.5 181.3 H0.5" stroke="#000" stroke-width="1" fill="none"/><text x="-17.5" y="210.5" textLength="13.2" lengthAdjust="spacingAndGlyphs">25S</text><path d="M-2.5 207.1 H0.5" stroke="#000" stroke-width="1" fill="none"/><text x="-17.5" y="236.4" textLength="13.2" lengthAdjust="spacingAndGlyphs">30S</text><path d="M-2.5 233.0 H0.5" stroke="#000" stroke-width="1" fill="none"/><text x="-17.5" y="262.2" textLength="13.2" lengthAdjust="spacingAndGlyphs">35S</text><path d="M-2.5 258.8 H0.5" stroke="#000" stroke-width="1" fill="none"/><text x="-17.5" y="288.1" textLength="13.2" lengthAdjust="spacingAndGlyphs">40S</text><path d="M-2.5 284.7 H0.5" stroke="#000" stroke-width="1" fill="none"/><text x="-17.5" y="313.9" textLength="13.2" lengthAdjust="spacingAndGlyphs">45S</text><path d="M-2.5 310.5 H0.5" stroke="#000" stroke-width="1" fill="none"/><text x="-17.5" y="339.8" textLength="13.2" lengthAdjust="spacingAndGlyphs">50S</text><path d="M-2.5 336.4 H0.5" stroke="#000" stroke-width="1" fill="none"/><text x="-17.5" y="365.6" textLength="13.2" lengthAdjust="spacingAndGlyphs">55S</text><path d="M-2.5 362.2 H0.5" stroke="#000" stroke-width="1" fill="none"/><text x="-17.5" y="391.4" textLength="13.2" lengthAdjust="spacingAndGlyphs">60S</text><path d="M-2.5 388.1 H0.5" stroke="#000" stroke-width="1" fill="none"/><text x="-3.8" y="398.3" textLength="18.6" lengthAdjust="spacingAndGlyphs">100W</text><path d="M5.5 387.8 V390.3" stroke="#000" stroke-width="1" fill="none"/><text x="38.5" y="398.3" textLength="14.0" lengthAdjust="spacingAndGlyphs">90W</text><path d="M45.5 387.8 V390.3" stroke="#000" stroke-width="1" fill="none"/><text x="78.5" y="398.3" textLength="14.0" lengthAdjust="spacingAndGlyphs">80W</text><path d="M85.5 387.8 V390.3" stroke="#000" stroke-width="1" fill="none"/><text x="118.5" y="398.3" textLength="14.0" lengthAdjust="spacingAndGlyphs">70W</text><path d="M125.5 387.8 V390.3" stroke="#000" stroke-width="1" fill="none"/><text x="158.5" y="398.3" textLength="14.0" lengthAdjust="spacingAndGlyphs">60W</text><path d="M165.5 387.8 V390.3" stroke="#000" stroke-width="1" fill="none"/><text x="198.5" y="398.3" textLength="14.0" lengthAdjust="spacingAndGlyphs">50W</text><path d="M205.5 387.8 V390.3" stroke="#000" stroke-width="1" fill="none"/><text x="238.5" y="398.3" textLength="14.0" lengthAdjust="spacingAndGlyphs">40W</text><path d="M245.5 387.8 V390.3" stroke="#000" stroke-width="1" fill="none"/><text x="278.5" y="398.3" textLength="14.0" lengthAdjust="spacingAndGlyphs">30W</text><path d="M285.5 387.8 V390.3" stroke="#000" stroke-width="1" fill="none"/><text x="318.5" y="398.3" textLength="14.0" lengthAdjust="spacingAndGlyphs">20W</text><path d="M325.5 387.8 V390.3" stroke="#000" stroke-width="1" fill="none"/></g></g></defs>
<g transform="translate(19,87)">
<text x="-13.6" y="-9.1" font-size="19.4" textLength="97.1" lengthAdjust="spacingAndGlyphs">Precipitacao</text><text x="94.4" y="-9.1" font-size="19.4" textLength="85.4" lengthAdjust="spacingAndGlyphs">acumulada</text><text x="190.5" y="-9.1" font-size="19.4" textLength="22.8" lengthAdjust="spacingAndGlyphs">em</text><text x="224.4" y="-9.1" font-size="19.4" textLength="18.8" lengthAdjust="spacingAndGlyphs">24</text><text x="255.0" y="-9.1" font-size="19.4" textLength="22.9" lengthAdjust="spacingAndGlyphs">hrs</text><text x="289.0" y="-9.1" font-size="19.4" textLength="9.7" lengthAdjust="spacingAndGlyphs">&gt;</text><text x="312.2" y="-9.1" font-size="19.4" textLength="20.6" lengthAdjust="spacingAndGlyphs">1.0</text><text x="345.5" y="-9.1" font-size="19.4" textLength="28.2" lengthAdjust="spacingAndGlyphs">mm</text>
<g clip-path="url(#clip)" shape-rendering="crispEdges">
<clipPath id="c1_0"><rect x="-4.0" y="0.0" width="117.0" height="128.0"/></clipPath><g clip-path="url(#c1_0)"><path d="M-5.4 -3.4 L137.2 -3.4 L137.2 139.2 L-5.4 139.2Z" fill="#1c67d2"/><path d="M-5.4 0.1 C-5.4 0.1 33.9 -0.5 42.6 0.1 C51.3 0.7 45.2 2.4 46.8 3.6 C48.5 4.9 50.6 6.6 52.5 7.9 C54.4 9.2 56.3 10.2 58.1 11.4 C60.0 12.6 61.9 13.9 63.8 14.9 C65.7 16.0 68.0 16.8 69.4 17.8 C70.9 18.7 72.3 19.5 72.3 20.6 C72.3 21.7 70.6 22.8 69.4 24.1 C68.3 25.4 66.6 28.0 65.2 28.4 C63.8 28.7 62.4 27.2 61.0 26.2 C59.6 25.3 58.4 24.0 56.7 22.7 C55.1 21.4 53.0 19.9 51.1 18.5 C49.2 17.1 47.3 15.5 45.4 14.2 C43.6 12.9 41.7 11.4 39.8 10.7 C37.9 10.0 36.0 9.4 34.1 10.0 C32.3 10.6 29.8 12.5 28.5 14.2 C27.2 16.0 26.8 18.4 26.4 20.6 C25.9 22.8 26.5 25.8 25.7 27.7 C24.8 29.5 23.3 30.8 21.4 31.9 C19.5 33.0 17.2 33.7 14.4 34.0 C11.5 34.4 7.8 34.0 4.5 34.0 C1.2 34.0 -5.4 34.0 -5.4 34.0 L-5.4 0.1Z" fill="#079607"/><path d="M-5.4 55.9 C-5.4 55.9 1.2 55.4 4.5 55.6 C7.8 55.8 11.1 56.7 14.4 57.0 C17.7 57.4 20.7 57.3 24.2 57.6 C27.8 57.9 31.8 58.6 35.5 58.7 C39.3 58.9 43.1 58.7 46.8 58.5 C50.6 58.2 54.4 57.4 58.1 57.3 C61.9 57.3 65.7 57.7 69.4 58.0 C73.2 58.4 77.7 58.9 80.7 59.4 C83.8 60.0 86.0 60.7 87.8 61.6 C89.6 62.4 90.8 62.7 91.3 64.4 C91.9 66.0 91.1 68.9 90.9 71.4 C90.8 74.0 90.5 77.1 90.4 79.9 C90.2 82.7 90.1 85.6 89.9 88.4 C89.7 91.2 89.2 94.0 89.2 96.9 C89.2 99.7 89.5 102.5 89.9 105.3 C90.4 108.2 91.3 111.0 92.0 113.8 C92.8 116.6 93.3 119.5 94.2 122.3 C95.0 125.1 96.3 127.9 97.0 130.8 C97.7 133.6 98.4 139.2 98.4 139.2 L-5.4 139.2 L-5.4 55.9Z" fill="#079607"/><path d="M77.2 19.2 C76.7 17.3 77.8 14.4 79.3 12.1 C80.9 9.9 83.8 7.5 86.4 5.8 C89.0 4.1 92.0 2.9 94.9 2.0 C97.7 1.0 96.3 0.4 103.3 0.1 C110.4 -0.2 137.2 0.1 137.2 0.1 L137.2 22.7 C137.2 22.7 132.5 21.7 130.2 21.3 C127.8 21.0 125.0 20.2 123.1 20.6 C121.2 21.0 120.1 22.2 118.9 23.4 C117.7 24.6 116.4 26.0 116.1 27.7 C115.7 29.3 116.1 31.9 116.8 33.3 C117.5 34.7 118.8 35.9 120.3 36.1 C121.8 36.4 124.1 35.2 125.9 34.7 C127.8 34.3 129.7 33.7 131.6 33.3 C133.5 33.0 137.2 32.6 137.2 32.6 L137.2 39.0 C137.2 39.0 133.2 39.7 131.6 40.4 C129.9 41.1 128.8 42.0 127.4 43.2 C125.9 44.4 124.1 46.0 123.1 47.4 C122.2 48.8 122.4 51.7 121.7 51.7 C121.0 51.7 119.6 48.8 118.9 47.4 C118.2 46.0 118.2 44.4 117.5 43.2 C116.8 42.0 116.1 41.2 114.6 40.4 C113.2 39.5 110.9 39.1 109.0 38.3 C107.1 37.4 105.2 36.3 103.3 35.4 C101.5 34.6 99.3 33.9 97.7 33.3 C96.0 32.7 94.9 32.5 93.5 31.9 C92.0 31.3 90.4 30.7 89.2 29.8 C88.0 28.8 87.6 27.3 86.4 26.2 C85.2 25.2 83.7 24.6 82.2 23.4 C80.6 22.2 77.7 21.1 77.2 19.2Z" fill="#079607"/><path d="M104.8 74.3 C105.6 73.0 106.1 71.0 106.9 70.0 C107.7 69.1 109.2 68.2 109.7 68.6 C110.2 69.1 110.5 71.2 110.1 72.9 C109.8 74.5 108.6 77.1 107.6 78.5 C106.6 79.9 105.1 80.7 104.1 81.3 C103.0 81.9 101.6 82.6 101.2 82.0 C100.9 81.5 101.3 79.1 101.9 77.8 C102.5 76.5 103.9 75.6 104.8 74.3Z" fill="#079607"/><path d="M97.0 96.9 C97.0 95.5 97.7 93.8 98.4 93.3 C99.1 92.9 100.6 93.0 101.2 94.0 C101.8 95.1 101.9 98.2 101.9 99.7 C101.9 101.2 101.8 102.9 101.2 103.2 C100.6 103.6 99.1 102.9 98.4 101.8 C97.7 100.8 97.0 98.3 97.0 96.9Z" fill="#079607"/><path d="M104.1 109.6 C104.6 108.3 106.1 107.2 106.9 107.5 C107.7 107.7 108.4 109.2 109.0 111.0 C109.6 112.8 109.7 115.7 110.4 118.1 C111.1 120.4 112.3 123.0 113.2 125.1 C114.2 127.2 114.9 129.4 116.1 130.8 C117.2 132.1 119.6 131.8 120.3 133.2 C121.0 134.6 120.3 139.2 120.3 139.2 L109.0 139.2 C109.0 139.2 107.6 133.6 106.9 130.8 C106.2 127.9 105.3 124.9 104.8 122.3 C104.2 119.7 103.5 117.4 103.3 115.2 C103.2 113.1 103.5 110.9 104.1 109.6Z" fill="#079607"/><path d="M-5.4 59.4 C-5.4 59.4 1.4 58.8 4.5 59.0 C7.5 59.3 10.1 60.4 12.9 60.9 C15.8 61.3 18.4 61.3 21.4 61.6 C24.5 61.8 27.8 62.0 31.3 62.3 C34.8 62.5 39.1 63.2 42.6 63.3 C46.1 63.3 49.2 62.9 52.5 62.7 C55.8 62.5 59.1 62.2 62.4 62.3 C65.7 62.4 69.2 62.9 72.3 63.3 C75.3 63.6 78.4 63.7 80.7 64.4 C83.1 65.0 85.3 65.8 86.4 67.2 C87.5 68.6 87.2 70.7 87.1 72.9 C87.0 75.0 86.2 77.3 85.7 79.9 C85.2 82.5 84.7 85.6 84.3 88.4 C83.8 91.2 83.0 94.0 82.9 96.9 C82.7 99.7 83.2 102.5 83.6 105.3 C83.9 108.2 84.3 111.0 85.0 113.8 C85.7 116.6 86.9 119.5 87.8 122.3 C88.7 125.1 89.9 127.9 90.6 130.8 C91.3 133.6 92.0 139.2 92.0 139.2 L-5.4 139.2 L-5.4 59.4Z" fill="#fffa2a"/><path d="M0.2 1.5 C0.2 0.9 -1.6 0.4 4.5 0.1 C10.6 -0.1 32.0 -0.5 37.0 0.1 C41.9 0.7 35.3 2.6 34.1 3.6 C33.0 4.7 31.3 5.3 29.9 6.5 C28.5 7.7 27.0 9.4 25.7 10.7 C24.4 12.0 23.3 14.1 22.1 14.2 C21.0 14.4 19.9 12.5 18.6 11.4 C17.3 10.4 15.9 8.9 14.4 7.9 C12.8 6.8 11.1 5.8 9.4 5.1 C7.8 4.4 6.0 4.2 4.5 3.6 C2.9 3.1 0.2 2.1 0.2 1.5Z" fill="#fffa2a"/><path d="M37.0 0.8 C37.8 1.1 39.5 2.5 41.2 3.6 C42.8 4.8 45.0 6.7 46.8 7.9 C48.7 9.1 50.4 9.5 52.5 10.7 C54.6 11.9 57.4 13.8 59.6 14.9 C61.7 16.1 63.6 17.1 65.2 17.8 C66.9 18.5 69.2 18.6 69.4 19.2 C69.7 19.8 67.8 21.3 66.6 21.3 C65.4 21.3 64.0 20.0 62.4 19.2 C60.7 18.4 58.6 17.5 56.7 16.4 C54.9 15.2 53.0 13.3 51.1 12.1 C49.2 10.9 47.3 10.4 45.4 9.3 C43.6 8.2 41.3 6.9 39.8 5.8 C38.3 4.6 36.7 3.1 36.3 2.2 C35.8 1.4 36.1 0.6 37.0 0.8Z" fill="#fffa2a"/><path d="M86.4 17.1 C86.7 15.9 87.8 13.5 89.2 12.1 C90.6 10.7 92.5 9.5 94.9 8.6 C97.2 7.7 100.3 6.7 103.3 6.5 C106.4 6.2 110.2 6.7 113.2 7.2 C116.3 7.7 118.9 8.5 121.7 9.3 C124.5 10.1 127.6 11.4 130.2 12.1 C132.8 12.8 137.2 13.5 137.2 13.5 L137.2 17.1 C137.2 17.1 131.6 15.9 128.8 15.7 C125.9 15.4 122.9 15.4 120.3 15.7 C117.7 15.9 115.6 16.6 113.2 17.1 C110.9 17.5 108.8 18.0 106.2 18.5 C103.6 19.0 100.3 19.5 97.7 19.9 C95.1 20.2 92.4 20.7 90.6 20.6 C88.9 20.5 87.8 19.8 87.1 19.2 C86.4 18.6 86.0 18.2 86.4 17.1Z" fill="#fffa2a"/><path d="M109.0 31.2 L113.2 30.8 L113.5 33.0 L109.3 33.3Z" fill="#fffa2a"/><path d="M108.3 122.3 C108.3 120.8 109.1 120.9 109.7 121.6 C110.3 122.3 111.0 124.8 111.8 126.5 C112.6 128.3 113.9 130.1 114.6 132.2 C115.4 134.3 116.1 139.2 116.1 139.2 L111.1 139.2 C111.1 139.2 110.2 133.6 109.7 130.8 C109.2 127.9 108.3 123.8 108.3 122.3Z" fill="#fffa2a"/><path d="M-5.4 64.4 C-5.4 64.4 1.4 63.9 4.5 64.4 C7.5 64.9 10.1 66.6 12.9 67.2 C15.8 67.8 18.4 67.7 21.4 67.9 C24.5 68.2 27.8 68.3 31.3 68.6 C34.8 69.0 39.1 69.9 42.6 70.0 C46.1 70.2 49.2 69.6 52.5 69.3 C55.8 69.1 59.1 68.5 62.4 68.6 C65.7 68.7 69.8 69.1 72.3 70.0 C74.7 71.0 75.9 72.6 77.2 74.3 C78.5 75.9 79.5 77.6 80.0 79.9 C80.6 82.3 80.9 85.6 80.7 88.4 C80.6 91.2 79.6 94.0 79.3 96.9 C79.1 99.7 78.9 102.5 79.3 105.3 C79.8 108.2 81.2 111.0 82.2 113.8 C83.1 116.6 84.0 119.5 85.0 122.3 C85.9 125.1 87.2 127.9 87.8 130.8 C88.4 133.6 88.5 139.2 88.5 139.2 L-5.4 139.2 L-5.4 64.4Z" fill="#ffffff"/><path d="M-5.4 9.3 C-5.4 9.3 -0.5 8.6 1.6 9.3 C3.8 10.0 5.7 11.9 7.3 13.5 C8.9 15.2 11.2 17.5 11.5 19.2 C11.9 20.8 10.6 22.1 9.4 23.4 C8.2 24.7 5.9 25.9 4.5 27.0 C3.1 28.0 2.6 29.2 0.9 29.8 C-0.7 30.4 -5.4 30.5 -5.4 30.5 L-5.4 9.3Z" fill="#1c67d2"/><path d="M12.9 46.0 C13.4 44.7 16.2 43.2 18.6 41.8 C21.0 40.4 25.0 38.5 27.1 37.5 C29.2 36.6 29.4 36.1 31.3 36.1 C33.2 36.1 35.8 37.0 38.4 37.5 C41.0 38.1 43.8 39.3 46.8 39.7 C49.9 40.0 53.4 39.6 56.7 39.7 C60.0 39.7 63.3 40.0 66.6 40.1 C69.9 40.2 73.2 40.3 76.5 40.4 C79.8 40.4 83.3 40.5 86.4 40.4 C89.5 40.3 92.0 39.7 94.9 39.7 C97.7 39.7 101.0 39.5 103.3 40.4 C105.7 41.2 107.3 43.1 109.0 44.6 C110.6 46.1 113.0 47.9 113.2 49.6 C113.5 51.2 111.3 53.0 110.4 54.5 C109.5 56.0 108.5 57.1 107.6 58.7 C106.6 60.4 105.8 62.5 104.8 64.4 C103.7 66.3 102.4 68.4 101.2 70.0 C100.0 71.7 98.8 73.8 97.7 74.3 C96.6 74.7 95.3 74.3 94.9 72.9 C94.4 71.4 94.8 68.2 94.9 65.8 C95.0 63.4 95.6 61.0 95.6 58.7 C95.6 56.5 95.9 53.7 94.9 52.4 C93.8 51.1 91.6 51.0 89.2 51.0 C86.9 51.0 83.6 52.3 80.7 52.4 C77.9 52.4 75.1 51.7 72.3 51.4 C69.4 51.1 66.6 50.7 63.8 50.5 C61.0 50.4 58.1 50.1 55.3 50.3 C52.5 50.4 49.7 51.6 46.8 51.7 C44.0 51.7 41.2 50.8 38.4 50.5 C35.5 50.3 32.7 49.7 29.9 50.0 C27.1 50.2 23.8 52.0 21.4 52.0 C19.1 51.9 17.2 50.5 15.8 49.6 C14.4 48.6 12.5 47.3 12.9 46.0Z" fill="#2e1fa8"/><path d="M109.0 88.4 C109.7 86.0 110.6 83.7 111.8 81.3 C113.0 79.0 114.6 76.4 116.1 74.3 C117.5 72.2 118.9 70.2 120.3 68.6 C121.7 67.1 123.6 65.1 124.5 65.1 C125.5 65.1 125.8 66.9 125.9 68.6 C126.1 70.4 125.7 73.3 125.2 75.7 C124.8 78.0 123.9 80.4 123.1 82.7 C122.3 85.1 121.5 87.7 120.3 89.8 C119.1 91.9 117.5 93.8 116.1 95.5 C114.6 97.1 113.0 98.8 111.8 99.7 C110.6 100.6 109.7 101.8 109.0 101.1 C108.3 100.4 107.6 97.6 107.6 95.5 C107.6 93.3 108.3 90.7 109.0 88.4Z" fill="#2e1fa8"/><path d="M93.5 77.1 C93.7 75.8 94.4 75.0 94.9 75.0 C95.4 75.0 96.4 75.6 96.6 77.1 C96.8 78.6 96.4 82.5 96.0 84.2 C95.6 85.8 94.6 87.2 94.2 87.0 C93.7 86.7 93.3 84.4 93.2 82.7 C93.1 81.1 93.2 78.4 93.5 77.1Z" fill="#2e1fa8"/><path d="M93.5 109.6 C93.8 108.3 94.9 107.2 95.6 107.5 C96.3 107.7 97.0 109.2 97.7 111.0 C98.4 112.8 99.2 115.7 99.8 118.1 C100.4 120.4 100.8 122.8 101.2 125.1 C101.7 127.5 102.3 129.8 102.6 132.2 C103.0 134.5 103.3 139.2 103.3 139.2 L99.8 139.2 C99.8 139.2 98.4 133.6 97.7 130.8 C97.0 127.9 96.2 124.9 95.6 122.3 C94.9 119.7 94.1 117.4 93.7 115.2 C93.4 113.1 93.2 110.9 93.5 109.6Z" fill="#2e1fa8"/><path d="M116.8 113.8 C117.1 112.9 119.0 112.6 120.3 113.1 C121.6 113.6 123.2 115.3 124.5 116.6 C125.8 117.9 127.6 119.6 128.1 120.9 C128.5 122.2 128.2 123.7 127.4 124.4 C126.5 125.1 124.3 125.4 123.1 125.1 C121.9 124.9 121.1 124.1 120.3 123.0 C119.5 121.9 118.8 120.3 118.2 118.8 C117.6 117.2 116.4 114.8 116.8 113.8Z" fill="#2e1fa8"/></g><clipPath id="c1_1"><rect x="113.0" y="0.0" width="126.0" height="128.0"/></clipPath><g clip-path="url(#c1_1)"><path d="M104.6 -3.4 L247.2 -3.4 L247.2 139.2 L104.6 139.2Z" fill="#1c67d2"/><path d="M104.6 0.1 C104.6 0.1 127.9 -0.5 132.1 0.1 C136.4 0.7 129.7 2.6 130.0 3.6 C130.4 4.7 132.6 5.4 134.2 6.5 C135.9 7.5 138.7 8.8 139.9 10.0 C141.1 11.2 140.4 12.5 141.3 13.5 C142.3 14.6 143.9 15.4 145.5 16.4 C147.2 17.3 149.8 18.1 151.2 19.2 C152.6 20.2 154.5 21.9 154.0 22.7 C153.6 23.5 150.5 24.0 148.4 24.1 C146.3 24.2 143.7 23.7 141.3 23.4 C139.0 23.2 136.6 23.1 134.2 22.7 C131.9 22.4 129.5 21.3 127.2 21.3 C124.8 21.3 122.0 21.9 120.1 22.7 C118.2 23.5 116.7 24.7 115.9 26.2 C115.1 27.8 114.7 30.3 115.2 31.9 C115.7 33.5 118.8 35.0 118.7 36.1 C118.6 37.3 116.1 38.7 114.5 39.0 C112.8 39.2 110.5 38.0 108.8 37.5 C107.2 37.1 104.6 36.1 104.6 36.1 L104.6 0.1Z" fill="#079607"/><path d="M160.4 -3.4 L189.3 -3.4 C189.3 -3.4 187.9 3.9 188.6 5.8 C189.3 7.7 191.3 7.8 193.6 7.9 C195.8 8.0 199.2 6.9 202.0 6.5 C204.9 6.0 207.9 5.5 210.5 5.1 C213.1 4.6 216.2 5.1 217.6 3.6 C219.0 2.2 219.0 -3.4 219.0 -3.4 L247.2 -3.4 L247.2 43.2 C247.2 43.2 241.6 42.5 238.8 41.8 C235.9 41.1 233.1 39.8 230.3 39.0 C227.5 38.1 224.6 37.4 221.8 36.8 C219.0 36.3 216.2 35.9 213.3 35.4 C210.5 35.0 207.5 34.4 204.9 34.0 C202.3 33.7 200.2 33.2 197.8 33.3 C195.5 33.4 192.9 34.4 190.7 34.7 C188.6 35.1 187.0 35.5 185.1 35.4 C183.2 35.3 181.1 34.8 179.4 34.0 C177.8 33.2 176.3 31.9 175.2 30.5 C174.1 29.1 174.0 26.7 173.1 25.5 C172.1 24.4 171.1 23.9 169.6 23.4 C168.0 23.0 165.4 23.4 163.9 22.7 C162.4 22.0 160.8 21.0 160.4 19.2 C159.9 17.4 160.8 14.5 161.1 12.1 C161.3 9.8 161.9 7.7 161.8 5.1 C161.7 2.5 160.4 -3.4 160.4 -3.4Z" fill="#079607"/><path d="M120.1 36.1 C120.9 34.4 123.7 34.5 125.8 34.0 C127.9 33.5 130.5 33.8 132.8 33.3 C135.2 32.8 137.5 32.0 139.9 31.2 C142.3 30.4 144.6 29.2 147.0 28.4 C149.3 27.5 151.8 26.2 154.0 26.2 C156.3 26.2 159.0 27.2 160.4 28.4 C161.8 29.5 162.0 31.5 162.5 33.3 C163.0 35.1 163.6 37.3 163.2 39.0 C162.9 40.6 161.4 41.9 160.4 43.2 C159.3 44.5 158.1 45.7 156.8 46.7 C155.6 47.8 154.0 49.2 152.6 49.6 C151.2 49.9 149.5 49.4 148.4 48.8 C147.2 48.3 146.7 47.0 145.5 46.0 C144.4 45.1 142.7 44.1 141.3 43.2 C139.9 42.3 138.5 40.6 137.1 40.4 C135.7 40.1 134.2 40.8 132.8 41.8 C131.4 42.7 129.8 44.5 128.6 46.0 C127.4 47.6 126.8 50.3 125.8 51.0 C124.7 51.7 123.1 51.3 122.2 50.3 C121.4 49.2 121.2 47.0 120.8 44.6 C120.5 42.3 119.3 37.9 120.1 36.1Z" fill="#079607"/><path d="M104.6 70.0 C104.6 70.0 107.2 69.1 108.1 69.3 C109.0 69.6 110.0 70.4 110.0 71.4 C110.0 72.5 109.0 74.4 108.1 75.7 C107.2 77.0 104.6 79.2 104.6 79.2 L104.6 70.0Z" fill="#079607"/><path d="M192.2 74.3 C192.6 72.2 194.7 70.7 196.4 70.0 C198.0 69.3 200.4 70.3 202.0 70.0 C203.7 69.8 205.1 69.2 206.3 68.6 C207.5 68.0 207.9 66.9 209.1 66.5 C210.3 66.1 211.9 65.9 213.3 66.5 C214.8 67.1 216.9 68.6 217.6 70.0 C218.3 71.4 218.2 73.3 217.6 75.0 C217.0 76.6 215.2 78.5 214.1 79.9 C212.9 81.3 211.8 82.6 210.5 83.5 C209.2 84.3 207.5 85.0 206.3 84.9 C205.1 84.7 204.6 82.9 203.5 82.7 C202.3 82.6 200.4 83.5 199.2 84.2 C198.0 84.9 197.3 87.2 196.4 87.0 C195.5 86.7 194.3 84.9 193.6 82.7 C192.9 80.6 191.7 76.4 192.2 74.3Z" fill="#079607"/><path d="M141.3 84.2 C142.4 83.0 145.1 82.3 147.0 82.7 C148.8 83.2 150.7 85.6 152.6 87.0 C154.5 88.4 156.4 89.6 158.3 91.2 C160.1 92.9 162.3 94.9 163.9 96.9 C165.6 98.9 166.7 102.9 168.1 103.2 C169.6 103.6 171.1 100.8 172.4 99.0 C173.7 97.2 174.9 94.5 175.9 92.6 C177.0 90.7 177.6 89.0 178.7 87.7 C179.9 86.4 181.4 85.7 183.0 84.9 C184.5 84.0 186.3 82.7 187.9 82.7 C189.6 82.7 191.2 83.8 192.9 84.9 C194.5 85.9 196.2 87.5 197.8 89.1 C199.5 90.7 201.1 92.9 202.8 94.8 C204.4 96.6 205.9 98.8 207.7 100.4 C209.5 102.0 211.5 103.6 213.3 104.6 C215.2 105.7 217.1 105.9 219.0 106.8 C220.9 107.6 222.8 108.6 224.6 109.6 C226.5 110.5 228.4 111.7 230.3 112.4 C232.2 113.1 234.1 113.7 235.9 113.8 C237.8 113.9 239.7 113.3 241.6 113.1 C243.5 112.9 247.2 112.4 247.2 112.4 L247.2 139.2 L154.0 139.2 C154.0 139.2 152.1 133.1 151.2 130.8 C150.3 128.4 148.6 127.0 148.4 125.1 C148.1 123.2 149.8 121.4 149.8 119.5 C149.8 117.6 149.5 116.2 148.4 113.8 C147.2 111.5 144.0 108.2 142.7 105.3 C141.4 102.5 141.0 99.5 140.6 96.9 C140.3 94.3 140.5 91.9 140.6 89.8 C140.7 87.7 140.3 85.3 141.3 84.2Z" fill="#079607"/><path d="M104.6 6.5 C104.6 6.5 109.1 5.7 111.6 5.8 C114.2 5.9 117.3 6.6 120.1 7.2 C122.9 7.8 126.0 8.6 128.6 9.3 C131.2 10.0 134.0 10.7 135.7 11.4 C137.3 12.1 138.7 13.0 138.5 13.5 C138.3 14.1 136.1 14.5 134.2 14.7 C132.4 14.8 129.5 14.4 127.2 14.2 C124.8 14.1 122.2 13.7 120.1 13.8 C118.0 13.9 116.4 14.4 114.5 14.7 C112.6 15.0 110.5 15.4 108.8 15.7 C107.2 15.9 104.6 16.1 104.6 16.1 L104.6 6.5Z" fill="#fffa2a"/><path d="M109.1 30.8 L113.1 30.8 L113.1 33.0 L109.1 33.0Z" fill="#fffa2a"/><path d="M204.9 23.4 C205.0 22.1 206.3 20.4 207.7 19.2 C209.1 18.0 211.2 17.2 213.3 16.4 C215.5 15.5 218.3 15.4 220.4 14.2 C222.5 13.1 223.9 10.6 226.1 9.3 C228.2 8.0 230.8 7.3 233.1 6.5 C235.5 5.7 237.8 4.8 240.2 4.4 C242.5 3.9 247.2 3.6 247.2 3.6 L247.2 34.0 C247.2 34.0 242.5 34.4 240.2 34.4 C237.8 34.4 235.5 34.2 233.1 34.0 C230.8 33.8 228.4 33.7 226.1 33.3 C223.7 33.0 221.3 32.5 219.0 31.9 C216.6 31.3 213.9 30.6 211.9 29.8 C209.9 29.0 208.2 28.0 207.0 27.0 C205.8 25.9 204.8 24.7 204.9 23.4Z" fill="#fffa2a"/><path d="M230.3 21.3 C230.3 20.2 230.5 18.4 231.7 17.1 C232.9 15.8 235.5 14.5 237.4 13.5 C239.2 12.6 241.4 11.9 243.0 11.4 C244.7 10.9 247.2 10.7 247.2 10.7 L247.2 23.4 C247.2 23.4 243.5 24.0 241.6 24.1 C239.7 24.2 237.6 24.2 235.9 24.1 C234.3 24.0 232.6 23.9 231.7 23.4 C230.8 23.0 230.3 22.4 230.3 21.3Z" fill="#ffffff"/><path d="M146.3 99.0 C146.3 97.7 147.4 97.1 148.4 96.9 C149.3 96.6 151.0 97.0 151.9 97.6 C152.8 98.2 154.0 99.3 154.0 100.4 C154.0 101.5 152.8 103.2 151.9 103.9 C151.0 104.6 149.3 105.5 148.4 104.6 C147.4 103.8 146.3 100.3 146.3 99.0Z" fill="#fffa2a"/><path d="M181.6 111.0 C181.7 108.2 183.1 106.3 183.7 103.9 C184.3 101.6 184.6 99.0 185.1 96.9 C185.6 94.8 185.8 92.8 186.5 91.2 C187.2 89.7 188.2 88.2 189.3 87.7 C190.5 87.2 192.2 87.6 193.6 88.4 C195.0 89.2 196.4 91.1 197.8 92.6 C199.2 94.2 200.6 96.0 202.0 97.6 C203.5 99.1 204.9 100.5 206.3 101.8 C207.7 103.1 208.9 104.3 210.5 105.3 C212.2 106.4 214.3 107.2 216.2 108.2 C218.1 109.1 219.9 110.1 221.8 111.0 C223.7 111.9 225.6 113.1 227.5 113.8 C229.4 114.5 231.2 114.9 233.1 115.2 C235.0 115.6 237.4 115.5 238.8 115.9 C240.2 116.4 241.4 117.1 241.6 118.1 C241.8 119.0 241.1 120.9 240.2 121.6 C239.2 122.3 237.1 121.7 235.9 122.3 C234.8 122.9 234.1 123.9 233.1 125.1 C232.2 126.3 231.2 128.2 230.3 129.4 C229.4 130.5 228.4 130.5 227.5 132.2 C226.5 133.8 224.6 139.2 224.6 139.2 L185.1 139.2 C185.1 139.2 186.9 132.4 186.5 129.4 C186.2 126.3 183.8 123.9 183.0 120.9 C182.2 117.8 181.4 113.8 181.6 111.0Z" fill="#fffa2a"/><path d="M192.2 105.3 C192.4 103.6 193.3 102.3 194.3 101.8 C195.2 101.3 196.5 101.7 197.8 102.5 C199.1 103.3 200.6 105.3 202.0 106.8 C203.5 108.2 204.9 110.1 206.3 111.0 C207.7 111.9 209.3 111.5 210.5 112.4 C211.7 113.3 212.2 115.7 213.3 116.6 C214.5 117.6 215.9 117.6 217.6 118.1 C219.2 118.5 221.3 118.8 223.2 119.5 C225.1 120.2 227.2 121.4 228.9 122.3 C230.5 123.2 232.9 123.9 233.1 125.1 C233.4 126.3 231.2 127.9 230.3 129.4 C229.4 130.8 227.5 133.6 227.5 133.6 L226.1 139.2 L203.5 139.2 C203.5 139.2 200.6 131.2 199.2 127.9 C197.8 124.6 196.0 122.1 195.0 119.5 C193.9 116.9 193.3 114.8 192.9 112.4 C192.4 110.1 191.9 107.1 192.2 105.3Z" fill="#ffffff"/><path d="M161.8 125.8 C161.8 124.5 163.0 122.9 163.9 122.3 C164.9 121.7 166.6 121.7 167.4 122.3 C168.3 122.9 169.1 124.5 169.1 125.8 C169.1 127.1 168.4 129.4 167.4 130.1 C166.5 130.8 164.6 130.8 163.6 130.1 C162.7 129.4 161.7 127.1 161.8 125.8Z" fill="#fffa2a"/><path d="M104.6 44.6 C104.6 44.6 107.5 45.1 108.8 46.0 C110.1 47.0 112.1 48.6 112.4 50.3 C112.6 51.9 111.3 54.4 110.2 55.9 C109.2 57.4 106.9 58.7 106.0 59.4 C105.1 60.1 104.6 60.1 104.6 60.1 L104.6 44.6Z" fill="#2e1fa8"/><path d="M110.9 82.7 C111.9 80.6 112.1 79.0 113.1 77.1 C114.0 75.2 115.2 73.3 116.6 71.4 C118.0 69.6 120.1 66.9 121.5 65.8 C122.9 64.7 124.4 64.4 125.1 65.1 C125.8 65.8 125.9 68.0 125.8 70.0 C125.7 72.0 124.8 75.0 124.4 77.1 C123.9 79.2 123.7 80.9 122.9 82.7 C122.2 84.6 121.2 86.7 120.1 88.4 C119.1 90.0 117.7 91.2 116.6 92.6 C115.5 94.0 114.8 95.7 113.8 96.9 C112.7 98.0 111.2 99.7 110.2 99.7 C109.3 99.7 108.6 98.5 108.1 96.9 C107.6 95.2 106.9 92.2 107.4 89.8 C107.9 87.5 110.0 84.9 110.9 82.7Z" fill="#2e1fa8"/><path d="M115.9 113.8 C116.0 112.8 117.5 112.6 118.7 113.1 C119.9 113.6 121.5 115.3 122.9 116.6 C124.4 117.9 126.2 119.6 127.2 120.9 C128.1 122.2 129.0 123.6 128.6 124.4 C128.2 125.2 126.4 125.9 125.1 125.8 C123.8 125.7 122.0 124.8 120.8 123.7 C119.7 122.6 118.8 121.1 118.0 119.5 C117.2 117.8 115.8 114.9 115.9 113.8Z" fill="#2e1fa8"/><path d="M198.5 49.6 C198.5 48.4 200.3 47.3 202.0 46.7 C203.8 46.1 206.8 45.8 209.1 46.0 C211.5 46.3 213.8 47.3 216.2 48.1 C218.5 49.0 220.9 50.3 223.2 51.0 C225.6 51.7 227.9 52.0 230.3 52.4 C232.6 52.8 234.5 53.0 237.4 53.4 C240.2 53.7 247.2 54.5 247.2 54.5 L247.2 71.4 C247.2 71.4 243.5 70.7 241.6 70.7 C239.7 70.7 237.6 71.6 235.9 71.4 C234.3 71.3 232.6 71.2 231.7 70.0 C230.8 68.9 231.0 66.0 230.3 64.4 C229.6 62.7 228.9 61.2 227.5 60.1 C226.1 59.1 223.9 58.5 221.8 58.0 C219.7 57.6 217.1 57.7 214.8 57.3 C212.4 57.0 209.8 56.5 207.7 55.9 C205.6 55.3 203.6 54.9 202.0 53.8 C200.5 52.7 198.5 50.7 198.5 49.6Z" fill="#2e1fa8"/><path d="M171.7 67.2 C171.9 66.7 173.2 66.3 173.5 66.5 C173.9 66.7 174.0 68.2 173.8 68.6 C173.6 69.1 172.5 69.6 172.1 69.3 C171.7 69.1 171.4 67.7 171.7 67.2Z" fill="#2e1fa8"/></g><clipPath id="c1_2"><rect x="239.0" y="0.0" width="122.0" height="128.0"/></clipPath><g clip-path="url(#c1_2)"><path d="M224.6 -3.4 L268.4 -3.4 C268.4 -3.4 263.7 0.8 261.3 2.2 C259.0 3.6 256.6 4.1 254.2 5.1 C251.9 6.0 249.5 6.9 247.2 7.9 C244.8 8.8 242.5 9.7 240.1 10.7 C237.8 11.8 234.8 13.1 233.1 14.2 C231.3 15.4 230.0 16.5 229.5 17.8 C229.1 19.1 229.2 21.1 230.2 22.0 C231.3 23.0 233.5 23.5 235.9 23.4 C238.2 23.3 241.5 22.1 244.4 21.3 C247.2 20.5 250.0 19.4 252.8 18.5 C255.7 17.5 259.0 16.4 261.3 15.7 C263.7 14.9 264.8 13.9 267.0 13.8 C269.1 13.7 271.7 14.1 274.0 14.9 C276.4 15.8 279.2 17.5 281.1 19.2 C283.0 20.8 283.9 22.8 285.3 24.8 C286.7 26.8 287.7 29.5 289.6 31.2 C291.4 32.8 294.0 33.8 296.6 34.7 C299.2 35.7 302.3 36.4 305.1 36.8 C307.9 37.3 310.7 37.3 313.6 37.3 C316.4 37.3 319.2 37.1 322.0 36.8 C324.9 36.5 327.7 36.0 330.5 35.4 C333.3 34.8 336.4 34.3 339.0 33.3 C341.6 32.4 344.2 31.2 346.1 29.8 C347.9 28.4 348.9 26.4 350.3 24.8 C351.7 23.3 353.1 21.8 354.5 20.6 C355.9 19.4 356.6 18.4 358.8 17.8 C360.9 17.2 367.2 17.1 367.2 17.1 L367.2 77.1 C367.2 77.1 356.6 77.0 353.1 77.1 C349.6 77.2 348.4 77.3 346.1 77.8 C343.7 78.3 340.9 79.1 339.0 79.9 C337.1 80.7 335.9 81.3 334.8 82.7 C333.6 84.2 332.9 86.5 331.9 88.4 C331.0 90.3 330.3 92.5 329.1 94.0 C327.9 95.6 326.8 96.8 324.9 97.6 C323.0 98.3 320.2 98.3 317.8 98.6 C315.5 98.8 312.4 98.3 310.7 99.0 C309.1 99.6 308.5 100.9 307.9 102.5 C307.3 104.2 308.2 107.7 307.2 108.9 C306.3 110.1 304.3 109.5 302.3 109.6 C300.3 109.7 297.3 109.1 295.2 109.6 C293.1 110.1 291.1 111.0 289.6 112.4 C288.0 113.8 286.9 115.9 286.0 118.1 C285.2 120.2 284.5 122.6 284.6 125.1 C284.7 127.6 286.4 130.8 286.7 133.2 C287.1 135.5 286.7 139.2 286.7 139.2 L224.6 139.2 L224.6 -3.4Z" fill="#fffa2a"/><path d="M224.6 125.8 C224.6 125.8 228.4 124.4 230.2 124.4 C232.1 124.4 234.0 125.9 235.9 125.8 C237.8 125.7 239.9 123.8 241.5 123.7 C243.2 123.6 244.5 124.1 245.8 125.1 C247.1 126.2 248.5 127.7 249.3 130.1 C250.1 132.4 250.7 139.2 250.7 139.2 L224.6 139.2 L224.6 125.8Z" fill="#ffffff"/><path d="M224.6 -3.4 L250.7 -3.4 C250.7 -3.4 249.0 0.2 247.2 1.5 C245.4 2.8 242.5 3.5 240.1 4.4 C237.8 5.2 235.7 5.9 233.1 6.5 C230.5 7.1 224.6 7.9 224.6 7.9 L224.6 -3.4Z" fill="#079607"/><path d="M224.6 33.3 C224.6 33.3 231.2 34.3 234.5 34.0 C237.8 33.8 241.1 32.4 244.4 31.9 C247.7 31.4 251.0 31.2 254.2 30.8 C257.5 30.3 261.1 29.5 264.1 29.4 C267.2 29.2 270.0 29.1 272.6 29.8 C275.2 30.4 277.3 31.9 279.7 33.3 C282.0 34.7 284.4 36.8 286.7 38.3 C289.1 39.7 291.2 40.7 293.8 41.8 C296.4 42.8 299.4 43.9 302.3 44.6 C305.1 45.3 307.9 45.9 310.7 46.0 C313.6 46.1 316.4 45.8 319.2 45.3 C322.0 44.8 324.9 43.9 327.7 43.2 C330.5 42.5 333.6 41.8 336.2 41.1 C338.8 40.4 341.1 39.9 343.2 39.0 C345.4 38.0 347.2 36.8 348.9 35.4 C350.5 34.0 351.7 31.8 353.1 30.5 C354.5 29.2 355.0 28.4 357.4 27.7 C359.7 27.0 367.2 26.2 367.2 26.2 L367.2 68.6 C367.2 68.6 356.6 68.7 353.1 68.6 C349.6 68.5 348.6 68.2 346.1 67.9 C343.5 67.7 340.2 67.4 337.6 67.2 C335.0 67.0 332.6 66.4 330.5 66.5 C328.4 66.6 327.0 67.1 324.9 67.9 C322.8 68.7 320.2 70.2 317.8 71.4 C315.5 72.7 313.1 74.3 310.7 75.7 C308.4 77.1 305.8 78.5 303.7 79.9 C301.6 81.3 299.7 83.2 298.0 84.2 C296.4 85.1 295.2 84.9 293.8 85.6 C292.4 86.3 290.7 87.0 289.6 88.4 C288.4 89.8 287.4 92.2 286.7 94.0 C286.0 95.9 286.5 97.8 285.3 99.7 C284.1 101.6 281.6 103.7 279.7 105.3 C277.8 107.0 275.4 107.9 274.0 109.6 C272.6 111.2 272.0 113.1 271.2 115.2 C270.4 117.4 269.5 119.7 269.1 122.3 C268.6 124.9 268.6 127.9 268.4 130.8 C268.1 133.6 267.7 139.2 267.7 139.2 L248.6 139.2 C248.6 139.2 250.6 133.4 250.7 130.8 C250.8 128.2 249.3 126.1 249.3 123.7 C249.3 121.4 250.1 118.8 250.7 116.6 C251.3 114.5 253.4 112.2 252.8 111.0 C252.2 109.8 249.3 109.6 247.2 109.6 C245.1 109.6 242.5 110.8 240.1 111.0 C237.8 111.2 235.4 111.2 233.1 111.0 C230.7 110.8 227.4 109.9 226.0 109.6 C224.6 109.2 224.6 108.9 224.6 108.9 L224.6 33.3Z" fill="#079607"/><path d="M297.3 87.7 C297.5 86.9 298.2 85.6 298.7 85.6 C299.3 85.6 300.4 86.9 300.6 87.7 C300.7 88.5 300.2 90.1 299.7 90.5 C299.3 90.9 298.2 90.6 297.8 90.1 C297.4 89.6 297.2 88.4 297.3 87.7Z" fill="#079607"/><path d="M242.9 118.1 C244.4 117.4 247.1 116.2 248.6 116.6 C250.1 117.1 251.2 119.5 252.1 120.9 C253.1 122.3 253.5 123.5 254.2 125.1 C255.0 126.8 255.9 128.4 256.4 130.8 C256.8 133.1 257.1 139.2 257.1 139.2 L248.6 139.2 C248.6 139.2 248.1 133.1 247.2 130.8 C246.2 128.4 244.1 126.8 242.9 125.1 C241.8 123.5 240.1 122.1 240.1 120.9 C240.1 119.7 241.5 118.8 242.9 118.1Z" fill="#fffa2a"/><path d="M224.6 42.5 C224.6 42.5 231.2 43.1 234.5 43.2 C237.8 43.3 241.3 43.6 244.4 43.2 C247.4 42.8 250.0 42.0 252.8 41.1 C255.7 40.1 258.5 38.2 261.3 37.5 C264.1 36.9 267.2 36.9 269.8 37.3 C272.4 37.6 274.3 38.7 276.8 39.7 C279.4 40.7 282.5 42.1 285.3 43.2 C288.1 44.3 291.0 45.3 293.8 46.0 C296.6 46.8 299.4 47.4 302.3 47.7 C305.1 48.0 307.9 47.9 310.7 47.7 C313.6 47.6 316.4 47.2 319.2 46.7 C322.0 46.2 324.9 45.3 327.7 44.6 C330.5 43.9 333.3 43.3 336.2 42.5 C339.0 41.7 342.3 40.6 344.6 39.7 C347.0 38.7 348.4 37.8 350.3 36.8 C352.2 35.9 353.1 34.6 355.9 34.0 C358.8 33.4 367.2 33.3 367.2 33.3 L367.2 65.1 C367.2 65.1 356.9 65.6 353.1 65.5 C349.4 65.4 347.5 64.9 344.6 64.7 C341.8 64.5 339.0 64.3 336.2 64.4 C333.3 64.5 330.3 64.6 327.7 65.1 C325.1 65.6 323.0 66.3 320.6 67.2 C318.3 68.2 315.9 69.4 313.6 70.7 C311.2 72.0 308.9 73.6 306.5 75.0 C304.2 76.4 301.8 77.9 299.4 79.2 C297.1 80.5 294.5 81.8 292.4 82.7 C290.3 83.7 288.4 83.9 286.7 84.9 C285.1 85.8 283.4 86.9 282.5 88.4 C281.6 89.9 282.5 93.5 281.1 94.0 C279.7 94.6 276.1 92.4 274.0 91.9 C271.9 91.5 270.1 90.9 268.4 91.2 C266.6 91.6 264.7 92.8 263.4 94.0 C262.1 95.3 261.8 97.5 260.6 99.0 C259.4 100.5 257.9 101.9 256.4 103.2 C254.8 104.5 253.4 105.9 251.4 106.8 C249.4 107.6 246.7 108.1 244.4 108.2 C242.0 108.3 239.7 107.9 237.3 107.5 C234.9 107.0 232.4 106.1 230.2 105.3 C228.1 104.6 224.6 103.2 224.6 103.2 L224.6 42.5Z" fill="#1c67d2"/><path d="M224.6 51.7 C224.6 51.7 229.1 53.3 231.6 53.8 C234.2 54.3 237.3 54.6 240.1 54.5 C242.9 54.4 245.5 53.6 248.6 53.1 C251.7 52.6 255.2 52.0 258.5 51.7 C261.8 51.4 265.1 51.5 268.4 51.4 C271.7 51.3 275.0 51.0 278.3 51.0 C281.6 51.0 285.1 51.2 288.1 51.4 C291.2 51.6 294.1 51.7 296.6 52.4 C299.1 53.0 301.7 54.0 303.0 55.2 C304.3 56.4 304.7 58.0 304.4 59.4 C304.0 60.9 302.4 62.5 300.9 63.7 C299.3 64.9 297.3 65.7 295.2 66.5 C293.1 67.3 290.5 68.0 288.1 68.2 C285.8 68.4 283.4 68.3 281.1 67.9 C278.7 67.5 276.4 66.6 274.0 65.8 C271.7 65.0 269.3 63.7 267.0 63.3 C264.6 62.8 261.8 62.5 259.9 63.0 C258.0 63.4 256.6 64.5 255.7 65.8 C254.7 67.1 255.2 69.7 254.2 70.7 C253.3 71.8 251.9 72.0 250.0 72.2 C248.1 72.3 245.3 72.0 242.9 71.7 C240.6 71.5 237.8 71.5 235.9 70.7 C234.0 70.0 232.8 68.6 231.6 67.2 C230.5 65.8 230.0 63.4 228.8 62.3 C227.6 61.1 224.6 60.1 224.6 60.1 L224.6 51.7Z" fill="#2e1fa8"/><path d="M330.2 54.5 C330.0 53.4 331.6 52.2 333.3 51.4 C335.0 50.6 338.1 50.0 340.4 49.6 C342.8 49.1 345.4 48.8 347.5 48.8 C349.6 48.9 351.8 49.2 353.1 50.0 C354.5 50.8 355.5 52.6 355.7 53.8 C355.8 55.0 355.2 56.5 353.8 57.3 C352.5 58.1 349.7 58.2 347.5 58.5 C345.2 58.7 342.5 58.8 340.4 58.7 C338.3 58.7 336.5 58.7 334.8 58.0 C333.1 57.3 330.5 55.6 330.2 54.5Z" fill="#2e1fa8"/></g><clipPath id="c1_3"><rect x="-4.0" y="128.0" width="117.0" height="127.0"/></clipPath><g clip-path="url(#c1_3)"><path d="M85.0 121.6 C85.0 121.6 86.9 127.2 87.8 130.1 C88.7 132.9 89.5 135.7 90.6 138.5 C91.8 141.4 93.2 144.2 94.9 147.0 C96.5 149.8 98.4 153.1 100.5 155.5 C102.6 157.8 105.2 159.5 107.6 161.1 C109.9 162.8 112.5 163.8 114.6 165.4 C116.8 166.9 118.6 169.1 120.3 170.3 C121.9 171.5 123.2 172.4 124.5 172.4 C125.8 172.4 126.9 169.6 128.1 170.3 C129.2 171.0 130.1 174.7 131.6 176.7 C133.1 178.7 137.2 182.3 137.2 182.3 L137.2 121.6 L85.0 121.6Z" fill="#fffa2a"/><path d="M-5.4 247.3 C-5.4 247.3 0.5 246.7 3.1 247.0 C5.7 247.4 7.5 248.5 10.1 249.4 C12.7 250.3 15.8 251.4 18.6 252.2 C21.4 253.1 24.2 253.6 27.1 254.4 C29.9 255.1 33.4 255.8 35.5 256.5 C37.7 257.1 38.6 258.1 39.8 258.2 C41.0 258.3 41.6 258.1 42.6 257.2 C43.7 256.3 45.1 254.2 46.1 252.9 C47.2 251.6 47.7 250.2 49.0 249.4 C50.3 248.6 51.4 248.2 53.9 248.0 C56.4 247.8 60.3 247.9 63.8 248.0 C67.3 248.1 71.8 248.4 75.1 248.4 C78.4 248.4 81.5 247.5 83.6 248.0 C85.7 248.5 86.4 250.2 87.8 251.5 C89.2 252.8 90.9 254.7 92.0 255.8 C93.2 256.9 94.4 256.8 94.9 258.2 C95.3 259.6 94.9 264.2 94.9 264.2 L-5.4 264.2 L-5.4 247.3Z" fill="#fffa2a"/><path d="M107.6 258.2 C108.3 256.9 109.0 257.0 110.4 256.5 C111.8 256.0 113.9 255.3 116.1 255.1 C118.2 254.8 121.2 254.8 123.1 255.1 C125.0 255.3 126.4 254.9 127.4 256.5 C128.3 258.0 128.8 264.2 128.8 264.2 L106.2 264.2 C106.2 264.2 106.9 259.5 107.6 258.2Z" fill="#fffa2a"/><path d="M89.9 121.6 C89.9 121.6 91.7 127.2 92.8 130.1 C93.8 132.9 95.0 135.7 96.3 138.5 C97.6 141.4 98.9 144.5 100.5 147.0 C102.2 149.5 104.1 151.5 106.2 153.4 C108.3 155.3 110.9 156.7 113.2 158.3 C115.6 160.0 118.2 161.6 120.3 163.3 C122.4 164.9 124.1 166.9 125.9 168.2 C127.8 169.5 129.7 170.1 131.6 171.0 C133.5 172.0 137.2 173.8 137.2 173.8 L137.2 121.6 L89.9 121.6Z" fill="#079607"/><path d="M110.1 126.5 C110.2 125.6 111.2 124.6 111.8 125.1 C112.5 125.6 113.3 127.8 113.9 129.4 C114.5 130.9 115.5 133.4 115.4 134.3 C115.2 135.2 113.9 135.6 113.2 135.0 C112.5 134.4 111.6 132.2 111.1 130.8 C110.6 129.4 110.0 127.5 110.1 126.5Z" fill="#fffa2a"/><path d="M92.8 121.6 C92.8 121.6 94.5 127.2 95.6 130.1 C96.6 132.9 97.8 135.9 99.1 138.5 C100.4 141.1 101.7 143.6 103.3 145.6 C105.0 147.6 106.9 149.0 109.0 150.5 C111.1 152.1 113.7 153.2 116.1 154.8 C118.4 156.3 121.0 158.0 123.1 159.7 C125.2 161.5 126.4 163.7 128.8 165.4 C131.1 167.0 137.2 169.6 137.2 169.6 L137.2 153.4 C137.2 153.4 133.5 150.9 131.6 149.8 C129.7 148.8 127.8 148.1 125.9 147.0 C124.1 146.0 122.2 144.3 120.3 143.5 C118.4 142.7 116.3 142.9 114.6 142.1 C113.0 141.2 111.6 140.1 110.4 138.5 C109.2 137.0 108.4 134.8 107.6 132.9 C106.8 131.0 106.1 129.1 105.5 127.2 C104.9 125.4 104.1 121.6 104.1 121.6 L92.8 121.6Z" fill="#1c67d2"/><path d="M98.0 125.8 C98.0 124.8 98.8 124.2 99.4 125.1 C99.9 126.1 100.7 129.6 101.2 131.5 C101.8 133.4 102.6 135.5 102.6 136.4 C102.6 137.4 101.8 137.9 101.2 137.1 C100.7 136.3 99.9 133.4 99.4 131.5 C98.8 129.6 98.0 126.9 98.0 125.8Z" fill="#2e1fa8"/></g><clipPath id="c1_4"><rect x="113.0" y="128.0" width="126.0" height="127.0"/></clipPath><g clip-path="url(#c1_4)"><path d="M104.6 121.6 L247.2 121.6 L247.2 264.2 L104.6 264.2Z" fill="#fffa2a"/><path d="M104.6 158.3 C104.6 158.3 109.1 160.9 111.6 162.5 C114.2 164.2 118.0 166.7 120.1 168.2 C122.2 169.7 123.2 171.4 124.4 171.7 C125.5 172.1 126.2 169.5 127.2 170.3 C128.1 171.1 129.1 174.2 130.0 176.7 C131.0 179.1 132.0 182.3 132.8 185.1 C133.7 188.0 134.5 191.0 135.0 193.6 C135.4 196.2 135.8 198.3 135.7 200.7 C135.5 203.0 134.8 205.2 134.2 207.7 C133.7 210.3 132.6 213.4 132.1 216.2 C131.7 219.0 131.3 222.1 131.4 224.7 C131.5 227.3 131.9 229.6 132.8 231.8 C133.8 233.9 135.8 235.5 137.1 237.4 C138.4 239.3 139.5 241.2 140.6 243.1 C141.7 244.9 141.9 247.3 143.4 248.7 C145.0 250.1 147.5 250.8 149.8 251.5 C152.0 252.2 154.3 252.6 156.8 252.9 C159.4 253.3 163.0 253.2 165.3 253.6 C167.7 254.1 169.9 254.0 171.0 255.8 C172.0 257.5 171.7 264.2 171.7 264.2 L128.6 264.2 C128.6 264.2 128.6 258.1 127.2 256.5 C125.8 254.9 122.7 254.8 120.1 254.6 C117.5 254.5 114.2 255.1 111.6 255.5 C109.1 255.9 104.6 257.2 104.6 257.2 L104.6 158.3Z" fill="#ffffff"/><path d="M197.8 121.6 C197.8 121.6 198.3 124.6 199.2 125.8 C200.2 127.0 202.0 127.9 203.5 128.6 C204.9 129.4 206.0 129.7 207.7 130.1 C209.3 130.4 211.5 130.7 213.3 130.8 C215.2 130.9 217.3 130.4 219.0 130.8 C220.6 131.1 221.8 131.8 223.2 132.9 C224.6 133.9 226.3 135.5 227.5 137.1 C228.6 138.8 229.7 140.9 230.3 142.8 C230.9 144.7 230.3 146.8 231.0 148.4 C231.7 150.1 233.2 151.2 234.5 152.7 C235.8 154.1 237.2 155.7 238.8 156.9 C240.3 158.1 242.3 159.0 243.7 159.7 C245.1 160.4 247.2 161.1 247.2 161.1 L247.2 121.6 L197.8 121.6Z" fill="#ffffff"/><path d="M216.9 214.8 C217.0 213.4 217.2 211.2 218.3 209.9 C219.3 208.6 221.2 208.1 223.2 207.0 C225.2 206.0 227.7 205.0 230.3 203.5 C232.9 202.0 236.2 199.5 239.1 197.9 C241.9 196.2 247.2 193.6 247.2 193.6 L247.2 202.1 C247.2 202.1 242.5 204.9 240.2 206.3 C237.8 207.7 235.5 209.0 233.1 210.6 C230.8 212.1 228.2 214.1 226.1 215.5 C223.9 216.9 221.8 218.6 220.4 219.0 C219.0 219.5 218.2 219.0 217.6 218.3 C217.0 217.6 216.8 216.2 216.9 214.8Z" fill="#ffffff"/><path d="M104.6 121.6 L185.1 121.6 C185.1 121.6 186.7 124.5 187.9 125.8 C189.1 127.1 190.9 127.7 192.2 129.4 C193.5 131.0 195.0 133.5 195.7 135.7 C196.4 137.9 196.4 140.4 196.4 142.8 C196.4 145.1 195.5 147.7 195.7 149.8 C195.9 152.0 196.7 154.9 197.8 155.5 C198.9 156.1 200.6 154.3 202.0 153.4 C203.5 152.4 204.6 150.9 206.3 149.8 C207.9 148.8 210.0 147.7 211.9 147.0 C213.8 146.3 216.2 146.5 217.6 145.6 C219.0 144.7 219.5 141.8 220.4 141.4 C221.3 140.9 222.3 141.8 223.2 142.8 C224.2 143.7 225.1 145.4 226.1 147.0 C227.0 148.7 227.9 150.5 228.9 152.7 C229.8 154.8 230.9 157.1 231.7 159.7 C232.5 162.3 233.4 165.4 233.8 168.2 C234.3 171.0 234.6 174.1 234.5 176.7 C234.4 179.3 233.8 181.6 233.1 183.7 C232.4 185.9 231.5 187.7 230.3 189.4 C229.1 191.0 227.5 192.2 226.1 193.6 C224.6 195.0 223.2 196.4 221.8 197.9 C220.4 199.3 218.9 200.7 217.6 202.1 C216.3 203.5 214.9 204.7 214.1 206.3 C213.2 208.0 212.9 209.6 212.6 212.0 C212.4 214.3 212.5 217.9 212.6 220.5 C212.8 223.0 212.3 225.9 213.3 227.5 C214.4 229.2 216.9 229.2 219.0 230.3 C221.1 231.5 223.7 233.2 226.1 234.6 C228.4 236.0 230.8 237.2 233.1 238.8 C235.5 240.5 237.8 242.6 240.2 244.5 C242.5 246.4 247.2 250.1 247.2 250.1 L247.2 264.2 L196.4 264.2 C196.4 264.2 194.7 259.8 193.6 258.2 C192.4 256.5 190.7 255.2 189.3 254.4 C187.9 253.5 186.3 254.1 185.1 252.9 C183.9 251.8 183.7 248.9 182.3 247.3 C180.9 245.6 178.5 243.9 176.6 243.1 C174.7 242.2 173.1 242.1 171.0 242.4 C168.9 242.6 166.3 244.0 163.9 244.5 C161.6 244.9 159.2 245.2 156.8 245.2 C154.5 245.2 151.9 245.2 149.8 244.5 C147.7 243.8 145.5 242.6 144.1 240.9 C142.7 239.3 142.4 236.6 141.3 234.6 C140.3 232.6 138.6 231.1 137.8 228.9 C137.0 226.8 136.5 224.5 136.4 221.9 C136.2 219.3 136.6 216.0 137.1 213.4 C137.5 210.8 138.7 208.7 139.2 206.3 C139.7 204.0 139.9 201.6 139.9 199.3 C139.9 196.9 139.2 194.6 139.2 192.2 C139.2 189.9 139.5 187.3 139.9 185.1 C140.3 183.0 141.4 181.4 141.3 179.5 C141.2 177.6 140.0 175.5 139.2 173.8 C138.4 172.2 137.4 170.8 136.4 169.6 C135.3 168.4 134.4 167.7 132.8 166.8 C131.3 165.8 129.1 165.0 127.2 164.0 C125.3 162.9 123.7 161.7 121.5 160.4 C119.4 159.1 116.6 157.5 114.5 156.2 C112.4 154.9 110.5 153.6 108.8 152.7 C107.2 151.7 104.6 150.5 104.6 150.5 L104.6 121.6Z" fill="#079607"/><path d="M130.0 141.4 C130.2 140.3 131.4 140.2 132.8 140.7 C134.2 141.1 136.6 142.9 138.5 144.2 C140.4 145.5 142.0 147.1 144.1 148.4 C146.3 149.7 148.8 150.9 151.2 152.0 C153.6 153.0 156.4 153.7 158.3 154.8 C160.1 155.8 161.3 157.3 162.5 158.3 C163.7 159.4 163.9 161.4 165.3 161.1 C166.7 160.9 169.3 158.3 171.0 156.9 C172.6 155.5 173.8 153.2 175.2 152.7 C176.6 152.1 178.2 152.4 179.4 153.4 C180.7 154.3 181.8 156.5 183.0 158.3 C184.2 160.1 185.6 162.1 186.5 164.0 C187.5 165.8 188.5 167.7 188.6 169.6 C188.7 171.5 188.0 173.6 187.2 175.3 C186.4 176.9 185.2 178.3 183.7 179.5 C182.2 180.7 179.7 182.0 178.0 182.3 C176.4 182.7 174.7 182.4 173.8 181.6 C172.9 180.8 172.7 177.3 172.4 177.4 C172.0 177.5 172.4 180.9 171.7 182.3 C171.0 183.7 169.7 185.4 168.1 185.9 C166.6 186.3 164.1 185.0 162.5 185.1 C160.8 185.3 159.6 186.1 158.3 186.6 C157.0 187.0 155.9 189.1 154.7 188.0 C153.6 186.8 152.3 182.1 151.2 179.5 C150.1 176.9 149.5 174.8 148.4 172.4 C147.2 170.1 145.5 167.6 144.1 165.4 C142.7 163.1 141.4 161.1 139.9 159.0 C138.4 156.9 136.4 154.7 135.0 152.7 C133.5 150.7 132.2 148.9 131.4 147.0 C130.6 145.1 129.8 142.4 130.0 141.4Z" fill="#fffa2a"/><path d="M161.8 126.5 C162.1 125.7 163.6 124.4 164.6 124.1 C165.7 123.9 167.4 124.4 168.1 125.1 C168.9 125.9 169.2 127.8 168.9 128.6 C168.5 129.5 167.1 130.2 166.0 130.3 C165.0 130.5 163.2 130.0 162.5 129.4 C161.8 128.7 161.4 127.4 161.8 126.5Z" fill="#fffa2a"/><path d="M104.6 121.6 L110.2 121.6 C110.2 121.6 112.4 126.5 113.1 128.6 C113.8 130.8 114.7 133.6 114.5 134.3 C114.2 135.0 112.7 134.1 111.6 132.9 C110.6 131.7 109.3 128.6 108.1 127.2 C106.9 125.8 104.6 124.4 104.6 124.4 L104.6 121.6Z" fill="#fffa2a"/><path d="M121.5 138.5 C121.8 137.7 123.3 136.9 124.4 137.1 C125.4 137.4 127.1 138.8 127.9 139.9 C128.7 141.1 129.7 143.5 129.3 144.2 C129.0 144.9 126.8 144.5 125.8 144.2 C124.7 143.8 123.7 143.0 122.9 142.1 C122.2 141.1 121.3 139.4 121.5 138.5Z" fill="#fffa2a"/><path d="M113.1 121.6 C113.1 121.6 114.5 125.8 115.9 127.2 C117.3 128.6 119.7 129.1 121.5 130.1 C123.4 131.0 125.1 131.9 127.2 132.9 C129.3 133.8 131.9 134.8 134.2 135.7 C136.6 136.7 139.0 137.4 141.3 138.5 C143.7 139.7 146.3 141.8 148.4 142.8 C150.5 143.7 152.6 144.7 154.0 144.2 C155.4 143.7 156.5 141.8 156.8 139.9 C157.2 138.1 156.6 135.0 156.1 132.9 C155.7 130.8 155.1 128.6 154.0 127.2 C153.0 125.8 151.2 124.8 149.8 124.4 C148.4 124.1 146.7 124.2 145.5 125.1 C144.4 126.1 143.7 129.0 142.7 130.1 C141.8 131.1 141.3 131.7 139.9 131.5 C138.5 131.2 135.9 129.6 134.2 128.6 C132.6 127.7 131.2 127.0 130.0 125.8 C128.8 124.6 127.2 121.6 127.2 121.6 L113.1 121.6Z" fill="#1c67d2"/><path d="M160.4 142.1 C160.6 140.8 161.6 140.2 162.5 139.9 C163.4 139.7 165.1 139.7 166.0 140.7 C167.0 141.6 167.9 144.0 168.1 145.6 C168.4 147.2 168.1 149.5 167.4 150.5 C166.7 151.6 164.9 152.4 163.9 152.0 C162.9 151.5 162.0 149.4 161.4 147.7 C160.8 146.1 160.2 143.4 160.4 142.1Z" fill="#1c67d2"/><path d="M186.8 139.2 C187.0 138.3 188.0 136.9 188.6 137.1 C189.3 137.4 190.6 139.5 190.7 140.7 C190.9 141.8 189.9 143.8 189.3 144.2 C188.7 144.5 187.6 143.6 187.2 142.8 C186.8 142.0 186.6 140.2 186.8 139.2Z" fill="#1c67d2"/><path d="M104.6 137.1 C104.6 137.1 108.4 142.4 110.2 144.2 C112.1 146.0 114.0 146.8 115.9 147.7 C117.8 148.7 119.7 148.9 121.5 149.8 C123.4 150.8 125.3 152.0 127.2 153.4 C129.1 154.8 131.2 156.5 132.8 158.3 C134.5 160.1 135.8 162.3 137.1 164.0 C138.4 165.6 140.3 167.1 140.6 168.2 C141.0 169.3 140.3 170.3 139.2 170.3 C138.1 170.3 136.0 169.0 134.2 168.2 C132.5 167.4 130.5 166.4 128.6 165.4 C126.7 164.3 124.8 163.0 122.9 161.8 C121.1 160.7 119.2 159.5 117.3 158.3 C115.4 157.1 113.5 156.0 111.6 154.8 C109.8 153.6 107.2 152.1 106.0 151.2 C104.8 150.4 104.6 149.8 104.6 149.8 L104.6 137.1Z" fill="#1c67d2"/><path d="M142.0 186.6 C142.5 185.1 143.3 184.0 144.1 183.7 C145.0 183.5 146.3 184.0 147.0 185.1 C147.7 186.3 147.7 189.6 148.4 190.8 C149.1 192.0 150.0 192.1 151.2 192.2 C152.4 192.3 153.9 191.5 155.4 191.5 C157.0 191.5 158.7 192.3 160.4 192.2 C162.0 192.1 163.6 191.3 165.3 190.8 C167.1 190.3 169.1 189.9 171.0 189.4 C172.9 188.9 174.7 188.4 176.6 188.0 C178.5 187.5 180.4 186.7 182.3 186.6 C184.2 186.4 186.3 187.5 187.9 187.3 C189.6 187.0 191.2 186.4 192.2 185.1 C193.1 183.9 193.5 181.6 193.6 179.5 C193.7 177.4 192.9 174.6 192.9 172.4 C192.9 170.3 193.0 168.3 193.6 166.8 C194.2 165.3 195.2 163.7 196.4 163.3 C197.6 162.8 199.3 164.4 200.6 164.0 C201.9 163.5 203.3 161.8 204.2 160.4 C205.1 159.1 204.9 157.2 206.0 155.8 C207.1 154.4 208.8 152.8 210.5 152.0 C212.2 151.1 214.5 150.7 216.2 150.5 C217.8 150.4 219.5 150.2 220.4 151.2 C221.3 152.3 220.9 155.0 221.5 156.9 C222.1 158.8 222.9 160.9 223.9 162.5 C225.0 164.2 226.6 165.1 227.8 166.8 C228.9 168.4 229.9 170.3 230.6 172.4 C231.2 174.6 231.8 177.1 231.7 179.5 C231.7 181.9 231.2 184.4 230.3 186.6 C229.4 188.7 227.5 190.7 226.1 192.2 C224.6 193.7 223.1 194.6 221.8 195.7 C220.5 196.9 219.5 198.1 218.3 199.3 C217.1 200.4 215.9 201.5 214.8 202.8 C213.7 204.1 212.3 205.3 211.6 207.0 C211.0 208.8 211.1 210.9 210.8 213.4 C210.5 215.9 210.4 219.3 210.0 221.9 C209.5 224.5 208.8 226.8 208.0 228.9 C207.1 231.1 206.1 232.7 204.9 234.6 C203.6 236.5 202.0 238.6 200.6 240.2 C199.2 241.9 197.8 244.2 196.4 244.5 C195.0 244.7 193.8 243.1 192.2 241.6 C190.5 240.2 188.4 237.4 186.5 236.0 C184.6 234.6 182.7 233.4 180.9 233.2 C179.0 232.9 177.1 234.1 175.2 234.6 C173.3 235.1 171.7 235.5 169.6 236.0 C167.4 236.5 164.9 237.1 162.5 237.4 C160.1 237.8 157.6 238.5 155.4 238.1 C153.3 237.8 150.5 236.8 149.8 235.3 C149.1 233.8 150.4 230.7 151.2 228.9 C152.0 227.2 154.4 226.1 154.7 224.7 C155.1 223.3 154.4 221.3 153.3 220.5 C152.3 219.6 150.1 219.5 148.4 219.8 C146.6 220.0 144.3 221.8 142.7 221.9 C141.2 222.0 139.8 221.9 139.2 220.5 C138.6 219.0 139.0 215.7 139.2 213.4 C139.4 211.0 140.3 208.7 140.6 206.3 C141.0 204.0 141.2 201.6 141.3 199.3 C141.4 196.9 141.2 194.3 141.3 192.2 C141.4 190.1 141.5 188.0 142.0 186.6Z" fill="#1c67d2"/><path d="M151.2 195.0 C151.8 194.0 153.6 193.2 154.7 193.6 C155.9 194.1 157.3 196.2 158.3 197.9 C159.2 199.5 160.6 202.1 160.4 203.5 C160.1 204.9 158.0 206.2 156.8 206.3 C155.7 206.5 154.3 205.3 153.3 204.2 C152.4 203.2 151.6 201.5 151.2 200.0 C150.8 198.4 150.6 196.1 151.2 195.0Z" fill="#079607"/><path d="M168.9 202.1 C169.2 200.8 170.9 199.3 172.4 198.6 C173.9 197.9 176.5 197.5 178.0 197.9 C179.6 198.2 180.9 199.5 181.6 200.7 C182.3 201.9 182.7 203.7 182.3 204.9 C181.8 206.1 180.2 207.2 178.7 207.7 C177.3 208.3 175.2 208.7 173.8 208.5 C172.4 208.2 171.1 207.4 170.3 206.3 C169.4 205.3 168.5 203.4 168.9 202.1Z" fill="#079607"/><path d="M196.4 190.8 C196.3 189.4 197.0 186.7 197.8 185.1 C198.6 183.6 199.9 182.4 201.3 181.6 C202.8 180.8 204.8 180.2 206.3 180.2 C207.8 180.2 209.6 180.7 210.5 181.6 C211.5 182.6 211.9 184.4 211.9 185.9 C211.9 187.3 211.3 188.9 210.5 190.1 C209.7 191.3 208.4 192.3 207.0 192.9 C205.6 193.5 203.5 193.6 202.0 193.6 C200.6 193.7 199.5 193.8 198.5 193.3 C197.6 192.9 196.5 192.2 196.4 190.8Z" fill="#079607"/><path d="M197.8 169.6 C197.9 168.3 199.0 166.1 199.9 165.4 C200.9 164.7 202.3 164.5 203.5 165.4 C204.6 166.2 205.9 168.6 207.0 170.3 C208.0 172.1 209.5 174.4 209.8 176.0 C210.2 177.5 209.8 179.0 209.1 179.5 C208.4 180.0 206.8 179.5 205.6 178.8 C204.4 178.1 203.1 176.2 202.0 175.3 C201.0 174.3 199.9 174.1 199.2 173.1 C198.5 172.2 197.7 170.9 197.8 169.6Z" fill="#079607"/><path d="M210.5 248.7 C211.0 247.1 211.9 246.5 213.3 245.9 C214.8 245.3 217.1 244.9 219.0 245.2 C220.9 245.4 222.8 246.5 224.6 247.3 C226.5 248.1 228.4 249.1 230.3 250.1 C232.2 251.2 234.1 252.3 235.9 253.6 C237.8 255.0 240.7 256.4 241.6 258.2 C242.5 259.9 241.6 264.2 241.6 264.2 L211.9 264.2 C211.9 264.2 210.8 258.4 210.5 255.8 C210.3 253.2 210.0 250.4 210.5 248.7Z" fill="#1c67d2"/><path d="M195.0 207.7 C195.3 206.7 195.9 205.6 197.1 204.9 C198.3 204.3 200.6 203.7 202.0 203.8 C203.5 203.9 204.9 204.5 205.6 205.6 C206.2 206.8 206.1 209.0 206.0 210.6 C205.9 212.1 205.2 213.2 204.9 214.8 C204.6 216.5 204.6 219.2 204.2 220.5 C203.7 221.8 202.9 222.7 202.0 222.6 C201.2 222.5 200.2 220.9 199.2 219.8 C198.3 218.6 197.1 216.9 196.4 215.5 C195.7 214.1 195.5 212.6 195.3 211.3 C195.0 210.0 194.7 208.8 195.0 207.7Z" fill="#2e1fa8"/><path d="M120.1 121.6 C120.1 121.6 120.6 123.9 121.5 124.4 C122.5 124.9 124.7 125.0 125.8 124.7 C126.8 124.3 127.9 122.3 127.9 122.3 L127.9 121.6 L120.1 121.6Z" fill="#2e1fa8"/></g><clipPath id="c1_5"><rect x="239.0" y="128.0" width="122.0" height="127.0"/></clipPath><g clip-path="url(#c1_5)"><path d="M224.6 121.6 L367.2 121.6 L367.2 264.2 L224.6 264.2Z" fill="#fffa2a"/><path d="M283.9 121.6 C283.9 121.6 285.9 126.3 286.7 128.6 C287.6 131.0 287.2 134.3 288.9 135.7 C290.5 137.1 295.1 136.2 296.6 137.1 C298.2 138.1 298.5 140.2 298.0 141.4 C297.6 142.5 295.3 143.5 293.8 144.2 C292.3 144.9 289.9 144.4 288.9 145.6 C287.8 146.8 287.3 149.4 287.4 151.2 C287.6 153.1 288.5 155.3 289.6 156.9 C290.6 158.5 292.1 160.1 293.8 161.1 C295.4 162.2 297.7 163.1 299.4 163.3 C301.2 163.4 303.2 163.0 304.4 161.8 C305.6 160.7 305.4 157.7 306.5 156.2 C307.6 154.7 309.2 153.0 310.7 152.7 C312.3 152.3 314.4 152.9 315.7 154.1 C317.0 155.3 317.0 158.3 318.5 159.7 C320.0 161.1 322.9 161.8 324.9 162.5 C326.9 163.3 328.6 162.8 330.5 164.0 C332.4 165.1 334.3 167.7 336.2 169.6 C338.1 171.5 340.2 173.4 341.8 175.3 C343.5 177.1 344.4 179.5 346.1 180.9 C347.7 182.3 349.8 182.9 351.7 183.7 C353.6 184.6 354.8 185.4 357.4 185.9 C359.9 186.3 367.2 186.6 367.2 186.6 L367.2 121.6 L283.9 121.6Z" fill="#ffffff"/><path d="M224.6 121.6 L250.7 121.6 C250.7 121.6 248.7 127.5 247.9 130.1 C247.1 132.7 246.1 134.5 245.8 137.1 C245.4 139.7 245.5 143.0 245.8 145.6 C246.0 148.2 247.2 150.3 247.2 152.7 C247.2 155.0 246.6 158.4 245.8 159.7 C245.0 161.0 243.8 161.3 242.2 160.4 C240.7 159.6 238.6 156.2 236.6 154.8 C234.6 153.4 232.0 152.5 230.2 152.0 C228.5 151.4 226.9 151.4 226.0 151.2 C225.1 151.1 224.6 151.2 224.6 151.2 L224.6 121.6Z" fill="#ffffff"/><path d="M241.5 182.3 C242.5 180.9 244.5 179.3 245.8 179.5 C247.1 179.7 248.4 182.1 249.3 183.7 C250.2 185.4 251.0 187.3 251.4 189.4 C251.9 191.5 252.5 194.3 252.1 196.4 C251.8 198.6 250.1 200.4 249.3 202.1 C248.5 203.7 248.5 205.4 247.2 206.3 C245.9 207.3 243.7 207.3 241.5 207.7 C239.4 208.2 237.1 208.2 234.5 209.2 C231.9 210.1 227.6 212.7 226.0 213.4 C224.4 214.1 224.6 213.4 224.6 213.4 L224.6 196.4 C224.6 196.4 228.4 196.9 230.2 196.4 C232.1 196.0 234.2 195.0 235.9 193.6 C237.5 192.2 239.2 189.9 240.1 188.0 C241.1 186.1 240.6 183.7 241.5 182.3Z" fill="#ffffff"/><path d="M341.8 221.9 C341.8 220.2 342.3 218.1 343.2 216.2 C344.2 214.3 345.8 212.2 347.5 210.6 C349.1 208.9 351.2 207.7 353.1 206.3 C355.0 204.9 356.4 203.2 358.8 202.1 C361.1 201.0 367.2 200.0 367.2 200.0 L367.2 247.3 C367.2 247.3 359.9 244.7 357.4 243.1 C354.8 241.4 353.6 239.5 351.7 237.4 C349.8 235.3 347.5 232.2 346.1 230.3 C344.6 228.5 343.9 227.5 343.2 226.1 C342.5 224.7 341.8 223.5 341.8 221.9Z" fill="#ffffff"/><path d="M288.9 209.9 C288.9 209.3 290.8 208.8 291.7 208.9 C292.5 209.0 294.1 210.0 294.1 210.6 C294.1 211.1 292.5 212.4 291.7 212.3 C290.8 212.1 288.9 210.4 288.9 209.9Z" fill="#ffffff"/><path d="M258.5 121.6 L268.4 121.6 C268.4 121.6 268.6 127.5 269.1 130.1 C269.5 132.7 270.6 134.8 271.2 137.1 C271.8 139.5 272.3 141.8 272.6 144.2 C273.0 146.5 272.8 148.9 273.3 151.2 C273.8 153.6 274.4 156.3 275.4 158.3 C276.5 160.3 277.8 161.8 279.7 163.3 C281.6 164.7 284.4 165.6 286.7 166.8 C289.1 168.0 291.2 169.3 293.8 170.3 C296.4 171.4 299.7 172.0 302.3 173.1 C304.9 174.3 307.0 175.8 309.3 177.4 C311.7 178.9 314.0 180.9 316.4 182.3 C318.7 183.7 321.1 185.1 323.5 185.9 C325.8 186.6 328.4 186.1 330.5 186.6 C332.6 187.0 334.5 187.5 336.2 188.7 C337.8 189.9 339.4 191.9 340.4 193.6 C341.4 195.4 342.1 197.2 342.1 199.3 C342.1 201.4 341.4 204.2 340.4 206.3 C339.4 208.5 337.2 209.9 336.2 212.0 C335.1 214.1 334.2 216.5 334.1 219.0 C333.9 221.6 334.9 224.9 335.5 227.5 C336.1 230.1 336.8 232.5 337.6 234.6 C338.4 236.7 339.0 238.3 340.4 240.2 C341.8 242.1 343.9 244.0 346.1 245.9 C348.2 247.8 350.8 249.6 353.1 251.5 C355.5 253.4 357.8 255.5 360.2 257.2 C362.5 258.8 367.2 261.4 367.2 261.4 L367.2 264.2 L336.2 264.2 C336.2 264.2 332.4 258.6 330.5 255.8 C328.6 252.9 326.5 250.1 324.9 247.3 C323.2 244.5 322.3 241.2 320.6 238.8 C319.0 236.5 317.1 234.6 315.0 233.2 C312.9 231.8 309.9 231.4 307.9 230.3 C305.9 229.3 304.2 228.0 303.0 226.8 C301.8 225.6 300.7 224.6 300.9 223.3 C301.0 222.0 302.7 220.7 303.7 219.0 C304.6 217.4 305.9 215.4 306.5 213.4 C307.1 211.4 307.6 209.0 307.2 207.0 C306.9 205.0 305.7 202.7 304.4 201.4 C303.1 200.1 301.4 199.7 299.4 199.3 C297.4 198.8 294.7 198.7 292.4 198.6 C290.0 198.4 287.4 198.9 285.3 198.6 C283.2 198.2 281.6 196.8 279.7 196.4 C277.8 196.1 275.9 196.1 274.0 196.4 C272.1 196.8 269.7 197.4 268.4 198.6 C267.1 199.7 266.5 201.7 266.3 203.5 C266.0 205.3 267.3 207.5 267.0 209.2 C266.6 210.8 265.4 212.0 264.1 213.4 C262.8 214.8 260.6 217.6 259.2 217.6 C257.8 217.6 256.4 215.3 255.7 213.4 C255.0 211.5 254.6 208.5 255.0 206.3 C255.3 204.2 257.0 202.8 257.8 200.7 C258.6 198.6 259.5 196.0 259.9 193.6 C260.3 191.3 260.3 188.9 259.9 186.6 C259.5 184.2 258.6 181.9 257.8 179.5 C257.0 177.1 256.0 174.8 255.0 172.4 C253.9 170.1 252.4 167.7 251.4 165.4 C250.5 163.0 249.7 160.9 249.3 158.3 C248.9 155.7 248.8 152.4 248.9 149.8 C249.0 147.2 249.2 145.1 250.0 142.8 C250.8 140.4 252.4 138.1 253.5 135.7 C254.7 133.4 256.2 131.0 257.1 128.6 C257.9 126.3 258.5 121.6 258.5 121.6Z" fill="#079607"/><path d="M224.6 236.0 C224.6 236.0 228.1 238.6 230.2 240.2 C232.4 241.9 234.9 244.2 237.3 245.9 C239.7 247.5 241.8 248.9 244.4 250.1 C247.0 251.3 250.0 252.1 252.8 252.9 C255.7 253.8 260.1 253.9 261.3 255.1 C262.5 256.2 259.9 260.0 259.9 260.0 L258.5 264.2 L224.6 264.2 L224.6 236.0Z" fill="#079607"/><path d="M224.6 154.1 C224.6 154.1 227.5 156.4 228.8 158.3 C230.1 160.2 231.5 162.8 232.4 165.4 C233.2 168.0 233.7 171.0 233.8 173.8 C233.9 176.7 233.7 179.7 233.1 182.3 C232.5 184.9 231.4 187.5 230.2 189.4 C229.1 191.3 226.9 192.8 226.0 193.6 C225.1 194.4 224.6 194.3 224.6 194.3 L224.6 154.1Z" fill="#079607"/><path d="M295.9 225.0 L299.4 224.7 L299.4 225.8 L295.9 226.1Z" fill="#079607"/><path d="M252.8 147.0 C253.0 144.7 253.3 142.8 254.2 141.4 C255.2 139.9 257.1 138.4 258.5 138.3 C259.9 138.1 261.5 139.2 262.7 140.7 C263.9 142.1 265.3 145.0 265.5 147.0 C265.8 149.0 265.1 151.0 264.1 152.7 C263.2 154.3 261.3 155.7 259.9 156.9 C258.5 158.1 256.8 160.2 255.7 160.0 C254.5 159.8 253.6 157.7 253.1 155.5 C252.6 153.3 252.6 149.4 252.8 147.0Z" fill="#1c67d2"/><path d="M264.8 172.4 C265.8 171.3 268.7 172.1 271.2 172.2 C273.7 172.2 277.1 172.3 279.7 172.7 C282.3 173.1 284.4 173.7 286.7 174.6 C289.1 175.4 291.2 176.8 293.8 178.1 C296.4 179.4 299.7 181.0 302.3 182.3 C304.9 183.6 307.0 184.7 309.3 185.9 C311.7 187.0 314.0 188.3 316.4 189.4 C318.7 190.4 321.1 191.4 323.5 192.2 C325.8 193.0 329.1 193.2 330.5 194.3 C331.9 195.5 332.0 197.3 331.9 199.3 C331.8 201.3 330.6 204.2 329.8 206.3 C329.0 208.5 327.7 209.9 327.0 212.0 C326.3 214.1 325.7 216.9 325.6 219.0 C325.4 221.2 326.5 223.2 326.0 224.7 C325.5 226.2 324.1 228.1 322.8 228.2 C321.4 228.3 318.7 226.7 317.8 225.4 C316.9 224.1 316.9 222.5 317.1 220.5 C317.3 218.5 318.6 215.7 319.2 213.4 C319.8 211.0 321.1 208.2 320.6 206.3 C320.2 204.5 317.8 203.7 316.4 202.1 C315.0 200.4 313.6 198.0 312.2 196.4 C310.7 194.9 309.6 193.7 307.9 192.9 C306.3 192.1 304.2 191.6 302.3 191.5 C300.4 191.4 298.5 192.4 296.6 192.2 C294.7 192.0 292.9 190.7 291.0 190.1 C289.1 189.5 287.4 189.0 285.3 188.7 C283.2 188.3 280.6 187.9 278.3 188.0 C275.9 188.1 273.1 189.9 271.2 189.4 C269.3 188.9 267.9 186.9 267.0 185.1 C266.0 183.4 265.6 180.9 265.3 178.8 C264.9 176.7 263.9 173.5 264.8 172.4Z" fill="#1c67d2"/><path d="M224.6 249.4 C224.6 249.4 228.4 251.8 230.2 252.9 C232.1 254.1 234.2 255.3 235.9 256.5 C237.5 257.7 240.1 260.0 240.1 260.0 L240.1 264.2 L224.6 264.2 L224.6 249.4Z" fill="#1c67d2"/><path d="M224.6 171.0 C224.6 171.0 227.3 172.0 228.1 173.8 C228.9 175.7 229.6 179.7 229.5 182.3 C229.4 184.9 228.2 187.7 227.4 189.4 C226.6 191.0 224.6 192.2 224.6 192.2 L224.6 171.0Z" fill="#1c67d2"/></g><clipPath id="c1_6"><rect x="-4.0" y="255.0" width="117.0" height="135.0"/></clipPath><g clip-path="url(#c1_6)"><path d="M-5.4 251.6 L137.2 251.6 L137.2 394.2 L-5.4 394.2Z" fill="#fffa2a"/><path d="M20.0 251.6 C20.0 251.6 27.8 253.5 31.3 254.4 C34.8 255.4 38.8 257.2 41.2 257.2 C43.6 257.2 44.3 255.4 45.4 254.4 C46.6 253.5 48.3 251.6 48.3 251.6 L20.0 251.6Z" fill="#ffffff"/><path d="M89.2 251.6 C89.2 251.6 92.8 254.3 94.9 255.8 C97.0 257.4 99.8 260.4 101.9 260.8 C104.1 261.1 105.9 258.9 107.6 257.9 C109.2 257.0 110.4 256.2 111.8 255.1 C113.2 254.1 116.1 251.6 116.1 251.6 L89.2 251.6Z" fill="#ffffff"/><path d="M-5.4 314.4 C-5.4 314.4 1.2 314.6 4.5 314.4 C7.8 314.3 11.1 313.9 14.4 313.7 C17.7 313.6 20.7 313.7 24.2 313.7 C27.8 313.7 31.8 313.9 35.5 313.7 C39.3 313.6 43.1 313.5 46.8 313.0 C50.6 312.6 54.4 311.5 58.1 310.9 C61.9 310.3 65.9 310.1 69.4 309.5 C73.0 308.9 76.5 308.3 79.3 307.4 C82.2 306.4 84.3 305.4 86.4 303.8 C88.5 302.3 90.4 300.3 92.0 298.2 C93.7 296.1 94.9 293.3 96.3 291.1 C97.7 289.0 99.5 286.2 100.5 285.5 C101.6 284.8 102.5 285.5 102.6 286.9 C102.8 288.3 101.8 291.6 101.2 294.0 C100.6 296.3 99.8 298.7 99.1 301.0 C98.4 303.4 97.7 305.7 97.0 308.1 C96.3 310.4 95.5 312.8 94.9 315.1 C94.3 317.5 94.3 320.1 93.5 322.2 C92.6 324.3 91.3 326.2 89.9 327.9 C88.5 329.5 87.0 330.8 85.0 332.1 C83.0 333.4 80.5 334.5 77.9 335.6 C75.3 336.8 72.3 337.9 69.4 339.2 C66.6 340.5 63.8 342.2 61.0 343.4 C58.1 344.6 55.3 345.6 52.5 346.2 C49.7 346.8 46.8 346.9 44.0 346.9 C41.2 346.9 38.8 346.3 35.5 346.2 C32.3 346.1 27.8 346.3 24.2 346.2 C20.7 346.1 17.7 345.7 14.4 345.5 C11.1 345.3 7.8 344.9 4.5 344.8 C1.2 344.7 -5.4 344.8 -5.4 344.8 L-5.4 314.4Z" fill="#ffffff"/><path d="M-5.4 257.2 C-5.4 257.2 1.2 257.4 4.5 257.9 C7.8 258.5 11.1 259.8 14.4 260.8 C17.7 261.7 20.7 262.9 24.2 263.6 C27.8 264.3 31.8 264.7 35.5 265.0 C39.3 265.4 43.1 265.5 46.8 265.7 C50.6 265.9 54.4 266.1 58.1 266.4 C61.9 266.8 66.4 267.1 69.4 267.8 C72.5 268.5 74.4 269.4 76.5 270.7 C78.6 272.0 80.7 274.2 82.2 275.6 C83.6 277.0 85.0 277.8 85.0 279.1 C85.0 280.4 83.6 282.0 82.2 283.4 C80.7 284.8 78.6 286.1 76.5 287.6 C74.4 289.1 72.0 291.0 69.4 292.5 C66.9 294.1 63.8 295.5 61.0 296.8 C58.1 298.1 55.3 299.3 52.5 300.3 C49.7 301.4 46.8 302.4 44.0 303.1 C41.2 303.8 38.4 304.1 35.5 304.6 C32.7 305.0 29.4 306.2 27.1 306.0 C24.7 305.7 23.5 304.4 21.4 303.1 C19.3 301.8 16.7 299.4 14.4 298.2 C12.0 297.0 10.6 296.5 7.3 296.1 C4.0 295.6 -5.4 295.4 -5.4 295.4 L-5.4 257.2Z" fill="#079607"/><path d="M106.2 271.4 C106.4 269.2 107.1 267.4 108.3 265.7 C109.5 264.1 111.5 262.3 113.2 261.5 C115.0 260.7 117.2 260.5 118.9 260.8 C120.5 261.0 122.1 261.6 123.1 262.9 C124.2 264.2 124.9 266.2 125.2 268.5 C125.6 270.9 125.4 274.2 125.2 277.0 C125.1 279.8 124.8 282.4 124.5 285.5 C124.3 288.5 124.1 292.1 123.8 295.4 C123.6 298.7 123.2 302.0 123.1 305.3 C123.0 308.6 123.1 311.9 123.1 315.1 C123.1 318.4 123.0 322.0 123.1 325.0 C123.2 328.1 123.4 331.2 123.8 333.5 C124.3 335.9 125.0 337.5 125.9 339.2 C126.9 340.8 128.5 343.2 129.5 343.4 C130.4 343.6 130.3 341.5 131.6 340.6 C132.9 339.6 137.2 337.7 137.2 337.7 L137.2 394.2 L-5.4 394.2 L-5.4 356.1 C-5.4 356.1 1.2 356.5 4.5 356.8 C7.8 357.2 11.1 358.0 14.4 358.2 C17.7 358.5 20.7 358.3 24.2 358.2 C27.8 358.1 31.8 357.8 35.5 357.5 C39.3 357.3 43.1 357.3 46.8 356.8 C50.6 356.3 54.4 355.5 58.1 354.7 C61.9 353.9 66.2 352.6 69.4 351.9 C72.7 351.2 75.1 350.9 77.9 350.5 C80.7 350.0 84.0 349.8 86.4 349.0 C88.7 348.3 90.6 347.6 92.0 346.2 C93.5 344.8 94.0 342.7 94.9 340.6 C95.7 338.5 96.3 335.9 97.0 333.5 C97.7 331.2 98.4 328.8 99.1 326.4 C99.8 324.1 100.4 321.7 101.2 319.4 C102.0 317.0 103.1 314.7 104.1 312.3 C105.0 310.0 106.1 307.6 106.9 305.3 C107.7 302.9 108.4 300.3 109.0 298.2 C109.6 296.1 110.5 294.7 110.4 292.5 C110.3 290.4 108.9 287.8 108.3 285.5 C107.7 283.1 107.2 280.8 106.9 278.4 C106.5 276.1 105.9 273.5 106.2 271.4Z" fill="#079607"/><path d="M106.2 388.2 C106.6 386.6 107.6 385.8 109.0 385.1 C110.4 384.3 112.3 383.9 114.6 383.6 C117.0 383.4 120.3 383.4 123.1 383.6 C125.9 383.9 129.2 384.6 131.6 385.1 C133.9 385.5 137.2 386.5 137.2 386.5 L137.2 394.2 L106.2 394.2 C106.2 394.2 105.7 389.7 106.2 388.2Z" fill="#fffa2a"/><path d="M-5.4 265.0 C-5.4 265.0 1.2 264.9 4.5 265.0 C7.8 265.1 11.1 265.1 14.4 265.7 C17.7 266.3 20.7 267.7 24.2 268.5 C27.8 269.4 31.8 270.1 35.5 270.7 C39.3 271.2 43.1 271.5 46.8 272.1 C50.6 272.7 55.1 273.5 58.1 274.2 C61.2 274.9 63.4 275.5 65.2 276.3 C67.0 277.1 68.7 278.0 68.7 279.1 C68.7 280.3 67.0 282.0 65.2 283.4 C63.4 284.8 60.7 286.2 58.1 287.6 C55.6 289.0 52.5 290.8 49.7 291.8 C46.8 292.9 44.0 293.4 41.2 294.0 C38.4 294.5 35.5 295.3 32.7 295.4 C29.9 295.5 26.6 295.4 24.2 294.7 C21.9 294.0 20.7 292.2 18.6 291.1 C16.5 290.1 13.9 289.0 11.5 288.3 C9.2 287.6 7.3 287.3 4.5 286.9 C1.6 286.5 -5.4 286.2 -5.4 286.2 L-5.4 265.0Z" fill="#1c67d2"/><path d="M109.0 274.2 C109.2 272.2 110.1 270.0 111.1 268.5 C112.2 267.1 113.8 265.9 115.4 265.4 C116.9 265.0 119.1 264.7 120.3 265.7 C121.5 266.7 122.2 269.2 122.4 271.4 C122.6 273.5 122.3 276.1 121.7 278.4 C121.1 280.8 119.9 283.8 118.9 285.5 C117.8 287.1 116.4 288.2 115.4 288.3 C114.3 288.4 113.4 287.5 112.5 286.2 C111.7 284.9 110.7 282.5 110.1 280.5 C109.5 278.5 108.8 276.2 109.0 274.2Z" fill="#1c67d2"/><path d="M-5.4 366.0 C-5.4 366.0 1.2 365.2 4.5 364.6 C7.8 364.0 11.1 363.1 14.4 362.5 C17.7 361.9 20.7 361.4 24.2 361.1 C27.8 360.7 31.8 360.6 35.5 360.3 C39.3 360.1 43.1 360.1 46.8 359.6 C50.6 359.2 54.4 358.2 58.1 357.5 C61.9 356.8 65.9 356.1 69.4 355.4 C73.0 354.7 76.3 354.0 79.3 353.3 C82.4 352.6 85.5 351.9 87.8 351.2 C90.2 350.5 92.0 350.3 93.5 349.0 C94.9 347.8 95.5 345.5 96.3 343.4 C97.1 341.3 97.6 338.7 98.4 336.3 C99.2 334.0 100.3 331.6 101.2 329.3 C102.2 326.9 103.0 324.6 104.1 322.2 C105.1 319.9 106.3 317.3 107.6 315.1 C108.9 313.0 110.4 310.0 111.8 309.5 C113.2 309.0 114.9 310.7 116.1 312.3 C117.2 314.0 118.2 317.0 118.9 319.4 C119.6 321.7 119.9 324.1 120.3 326.4 C120.6 328.8 120.5 331.2 121.0 333.5 C121.5 335.9 122.1 338.7 123.1 340.6 C124.2 342.5 125.9 343.6 127.4 344.8 C128.8 346.0 129.9 346.9 131.6 347.6 C133.2 348.3 137.2 349.0 137.2 349.0 L137.2 371.6 C137.2 371.6 133.5 374.2 131.6 374.5 C129.7 374.7 127.8 373.8 125.9 373.1 C124.1 372.4 121.9 371.1 120.3 370.2 C118.6 369.4 117.9 368.7 116.1 368.1 C114.2 367.5 110.9 366.7 109.0 366.7 C107.1 366.7 105.8 367.1 104.8 368.1 C103.7 369.2 103.3 371.3 102.6 373.1 C101.9 374.8 101.5 376.9 100.5 378.7 C99.6 380.5 97.9 382.1 97.0 383.6 C96.0 385.2 95.5 386.4 94.9 388.2 C94.3 389.9 93.5 394.2 93.5 394.2 L-5.4 394.2 L-5.4 366.0Z" fill="#1c67d2"/><path d="M-5.4 377.3 C-5.4 377.3 1.2 375.4 4.5 374.5 C7.8 373.5 11.1 372.5 14.4 371.6 C17.7 370.8 20.7 370.1 24.2 369.5 C27.8 368.9 31.8 368.5 35.5 368.1 C39.3 367.8 43.1 367.8 46.8 367.4 C50.6 367.1 54.4 366.6 58.1 366.0 C61.9 365.4 66.2 364.3 69.4 363.9 C72.7 363.4 75.6 362.8 77.9 363.2 C80.3 363.5 82.3 364.6 83.6 366.0 C84.9 367.4 85.7 369.5 85.7 371.6 C85.7 373.8 84.6 376.6 83.6 378.7 C82.5 380.8 80.6 382.8 79.3 384.4 C78.0 385.9 76.5 386.5 75.8 388.2 C75.1 389.8 75.1 394.2 75.1 394.2 L-5.4 394.2 L-5.4 377.3Z" fill="#2e1fa8"/><path d="M101.9 332.1 C102.5 329.7 103.6 327.6 104.8 326.4 C105.9 325.3 107.6 324.6 109.0 325.0 C110.4 325.5 112.1 327.2 113.2 329.3 C114.4 331.4 115.1 334.9 116.1 337.7 C117.0 340.6 117.7 343.4 118.9 346.2 C120.1 349.0 121.5 352.1 123.1 354.7 C124.8 357.3 126.9 359.9 128.8 361.8 C130.7 363.6 133.0 365.1 134.4 366.0 C135.8 366.9 137.2 367.4 137.2 367.4 L137.2 370.2 C137.2 370.2 132.5 369.8 130.2 368.8 C127.8 367.9 125.5 366.2 123.1 364.6 C120.8 362.9 118.4 360.6 116.1 358.9 C113.7 357.3 111.1 356.3 109.0 354.7 C106.9 353.0 104.6 351.4 103.3 349.0 C102.0 346.7 101.5 343.4 101.2 340.6 C101.0 337.7 101.3 334.5 101.9 332.1Z" fill="#2e1fa8"/><path d="M22.1 277.7 L27.8 277.7 L27.8 279.1 L22.1 279.1Z" fill="#2e1fa8"/></g><clipPath id="c1_7"><rect x="113.0" y="255.0" width="126.0" height="135.0"/></clipPath><g clip-path="url(#c1_7)"><path d="M104.6 251.6 L247.2 251.6 L247.2 394.2 L104.6 394.2Z" fill="#079607"/><path d="M125.1 251.6 C125.1 251.6 125.2 259.0 125.1 261.5 C125.0 263.9 124.8 261.9 124.5 266.1 C124.2 270.4 124.0 280.1 123.5 287.0 C123.0 294.0 121.6 301.0 121.4 307.9 C121.2 314.9 121.5 323.6 122.4 328.8 C123.3 334.1 125.4 336.8 126.6 339.3 C127.8 341.8 128.7 344.4 129.7 344.1 C130.8 343.8 131.5 339.7 132.8 337.7 C134.2 335.7 136.0 334.0 137.8 332.1 C139.5 330.2 141.7 328.3 143.4 326.4 C145.2 324.6 147.1 322.7 148.4 320.8 C149.7 318.9 150.5 317.0 151.2 315.1 C151.9 313.3 152.3 311.6 152.6 309.5 C153.0 307.4 153.4 304.8 153.3 302.4 C153.2 300.1 152.4 297.7 151.9 295.4 C151.4 293.0 150.8 290.7 150.5 288.3 C150.1 286.0 149.2 282.7 149.8 281.2 C150.4 279.8 152.4 280.2 154.0 279.8 C155.7 279.5 158.0 279.0 159.7 279.1 C161.3 279.2 162.5 279.8 163.9 280.5 C165.3 281.2 166.5 282.4 168.1 283.4 C169.8 284.3 171.9 285.8 173.8 286.2 C175.7 286.5 177.6 286.0 179.4 285.5 C181.3 285.0 183.2 284.1 185.1 283.4 C187.0 282.7 188.9 282.0 190.7 281.2 C192.6 280.5 194.5 280.0 196.4 279.1 C198.3 278.3 200.6 277.4 202.0 276.3 C203.5 275.2 204.5 274.3 204.9 272.8 C205.2 271.2 204.9 268.8 204.2 267.1 C203.5 265.5 201.9 264.3 200.6 262.9 C199.3 261.5 197.6 260.1 196.4 258.6 C195.2 257.2 194.3 255.6 193.6 254.4 C192.9 253.2 192.2 251.6 192.2 251.6 L125.1 251.6Z" fill="#fffa2a"/><path d="M185.8 342.0 C185.9 341.0 186.7 340.0 187.9 339.4 C189.1 338.9 191.5 338.4 192.9 338.5 C194.2 338.5 195.8 339.0 196.1 339.9 C196.5 340.7 195.9 342.4 195.0 343.4 C194.1 344.4 192.0 345.6 190.7 345.9 C189.5 346.3 188.0 346.2 187.2 345.5 C186.4 344.9 185.7 343.0 185.8 342.0Z" fill="#fffa2a"/><path d="M152.6 394.2 C152.6 394.2 153.1 389.8 154.0 388.2 C155.0 386.5 156.6 385.5 158.3 384.4 C159.9 383.2 162.0 382.5 163.9 381.5 C165.8 380.6 167.7 379.9 169.6 378.7 C171.4 377.5 173.6 376.1 175.2 374.5 C176.9 372.8 177.8 370.7 179.4 368.8 C181.1 366.9 183.2 365.1 185.1 363.2 C187.0 361.3 188.9 359.2 190.7 357.5 C192.6 355.9 194.5 354.2 196.4 353.3 C198.3 352.3 200.2 352.0 202.0 351.9 C203.9 351.8 205.8 352.1 207.7 352.6 C209.6 353.0 211.7 353.6 213.3 354.7 C215.0 355.8 216.6 357.3 217.6 358.9 C218.5 360.6 218.3 362.7 219.0 364.6 C219.7 366.5 220.4 368.8 221.8 370.2 C223.2 371.6 225.6 372.5 227.5 373.1 C229.4 373.6 231.0 374.0 233.1 373.8 C235.2 373.5 237.8 372.7 240.2 371.6 C242.5 370.6 247.2 367.4 247.2 367.4 L247.2 394.2 L152.6 394.2Z" fill="#fffa2a"/><path d="M104.6 384.4 C104.6 384.4 111.2 384.7 114.5 385.1 C117.8 385.4 121.1 386.1 124.4 386.5 C127.7 386.8 130.7 387.2 134.2 387.2 C137.8 387.2 142.5 386.8 145.5 386.5 C148.6 386.1 151.2 384.8 152.6 385.1 C154.0 385.3 154.0 386.6 154.0 388.2 C154.0 389.7 152.6 394.2 152.6 394.2 L104.6 394.2 L104.6 384.4Z" fill="#fffa2a"/><path d="M104.6 251.6 L128.6 251.6 C128.6 251.6 128.8 258.9 128.6 261.5 C128.4 264.1 127.7 266.3 127.2 267.1 C126.7 267.9 126.4 267.1 125.6 266.3 C124.9 265.5 124.3 263.2 122.5 262.3 C120.8 261.5 117.5 260.8 115.2 261.1 C112.9 261.3 110.3 262.5 108.8 263.9 C107.3 265.3 107.0 268.3 106.3 269.5 C105.6 270.8 104.6 271.4 104.6 271.4 L104.6 251.6Z" fill="#fffa2a"/><path d="M129.3 251.6 L169.0 251.6 C169.0 251.6 170.8 256.9 171.3 258.6 C171.7 260.4 171.6 260.8 171.7 262.2 C171.7 263.6 172.3 265.8 171.7 267.1 C171.1 268.5 169.7 269.6 168.1 270.2 C166.6 270.9 164.6 271.3 162.5 271.1 C160.4 270.8 157.6 269.7 155.4 268.8 C153.3 268.0 151.6 266.8 149.8 266.0 C148.0 265.2 146.3 263.9 144.8 264.0 C143.4 264.1 142.1 265.0 141.3 266.4 C140.5 267.9 140.5 270.3 139.9 272.8 C139.3 275.2 138.6 278.2 137.8 281.2 C137.0 284.3 135.7 287.8 135.0 291.1 C134.2 294.4 133.7 298.0 133.5 301.0 C133.4 304.1 133.8 307.1 134.2 309.5 C134.7 311.9 136.4 313.3 136.4 315.1 C136.4 317.0 134.7 318.4 134.2 320.8 C133.8 323.2 133.9 326.4 133.5 329.3 C133.2 332.1 132.7 335.3 132.1 337.7 C131.6 340.2 130.7 345.0 130.3 344.1 C129.9 343.2 129.9 336.5 129.7 332.1 C129.6 327.7 129.3 322.7 129.3 318.0 C129.3 313.3 129.6 308.6 129.7 303.8 C129.9 299.1 130.2 294.4 130.3 289.7 C130.4 285.0 130.4 279.6 130.3 275.6 C130.2 271.6 129.9 269.7 129.7 265.7 C129.6 261.7 129.3 251.6 129.3 251.6Z" fill="#ffffff"/><path d="M177.3 262.2 C177.3 261.1 178.5 259.8 179.4 259.4 C180.4 259.0 182.0 259.2 183.0 259.8 C183.9 260.4 185.1 261.9 185.1 262.9 C185.1 263.9 183.9 265.5 183.0 266.0 C182.0 266.5 180.4 266.3 179.4 265.7 C178.5 265.1 177.3 263.2 177.3 262.2Z" fill="#ffffff"/><path d="M159.7 388.2 C160.6 386.5 163.2 385.7 165.3 384.4 C167.4 383.0 170.0 381.5 172.4 380.1 C174.7 378.7 177.3 377.5 179.4 375.9 C181.6 374.2 183.2 372.1 185.1 370.2 C187.0 368.3 188.9 366.1 190.7 364.6 C192.6 363.1 194.7 361.5 196.4 361.1 C198.0 360.6 199.5 360.9 200.6 361.8 C201.8 362.6 202.8 364.3 203.5 366.0 C204.2 367.6 204.5 369.8 204.9 371.6 C205.2 373.5 205.8 375.6 205.6 377.3 C205.3 378.9 204.8 380.5 203.5 381.5 C202.2 382.6 199.9 383.1 197.8 383.6 C195.7 384.2 192.9 384.6 190.7 385.1 C188.6 385.5 187.0 386.0 185.1 386.5 C183.2 387.0 180.9 386.9 179.4 388.2 C178.0 389.5 176.6 394.2 176.6 394.2 L159.7 394.2 C159.7 394.2 158.7 389.8 159.7 388.2Z" fill="#ffffff"/><path d="M109.5 274.2 C109.7 272.2 110.6 270.0 111.6 268.5 C112.7 267.1 114.5 265.8 115.9 265.4 C117.3 265.1 119.1 265.4 120.1 266.4 C121.2 267.4 122.0 269.4 122.2 271.4 C122.5 273.4 122.3 276.1 121.8 278.4 C121.3 280.8 120.4 283.8 119.4 285.5 C118.4 287.1 117.0 288.2 115.9 288.3 C114.8 288.4 113.7 287.5 112.8 286.2 C111.9 284.9 111.1 282.5 110.5 280.5 C110.0 278.5 109.3 276.2 109.5 274.2Z" fill="#1c67d2"/><path d="M160.4 302.4 C161.0 300.4 161.7 298.3 162.5 296.8 C163.3 295.3 164.1 294.2 165.3 293.3 C166.5 292.3 167.9 291.1 169.6 291.1 C171.2 291.1 173.3 292.5 175.2 293.3 C177.1 294.0 179.0 294.9 180.9 295.4 C182.7 295.8 184.6 296.1 186.5 296.1 C188.4 296.1 191.0 296.2 192.2 295.4 C193.3 294.5 192.6 292.4 193.6 291.1 C194.5 289.8 195.9 288.3 197.8 287.6 C199.7 286.9 202.5 286.8 204.9 286.9 C207.2 287.0 209.8 287.4 211.9 288.3 C214.1 289.3 215.7 290.9 217.6 292.5 C219.5 294.2 221.3 296.3 223.2 298.2 C225.1 300.1 227.2 302.2 228.9 303.8 C230.5 305.5 232.3 308.1 233.1 308.1 C233.9 308.1 234.3 305.5 233.8 303.8 C233.4 302.2 231.4 300.1 230.3 298.2 C229.2 296.3 228.1 294.7 227.5 292.5 C226.9 290.4 227.0 287.8 226.8 285.5 C226.5 283.1 225.9 280.5 226.1 278.4 C226.2 276.3 227.7 274.4 227.5 272.8 C227.2 271.1 225.8 269.9 224.6 268.5 C223.5 267.1 221.8 265.7 220.4 264.3 C219.0 262.9 217.3 261.5 216.2 260.1 C215.0 258.6 214.3 257.2 213.3 255.8 C212.4 254.4 210.5 251.6 210.5 251.6 L247.2 251.6 L247.2 329.3 C247.2 329.3 244.4 331.2 243.0 332.1 C241.6 333.0 240.4 334.2 238.8 334.9 C237.1 335.6 235.2 336.0 233.1 336.3 C231.0 336.7 228.4 336.8 226.1 337.0 C223.7 337.3 221.3 337.7 219.0 337.7 C216.6 337.7 214.3 337.5 211.9 337.0 C209.6 336.6 207.2 335.6 204.9 334.9 C202.5 334.2 200.2 333.2 197.8 332.8 C195.5 332.4 192.9 332.3 190.7 332.8 C188.6 333.3 186.7 334.5 185.1 335.6 C183.4 336.8 181.7 338.3 180.9 339.9 C180.0 341.4 179.9 343.0 180.2 344.8 C180.4 346.6 181.7 348.8 182.3 350.5 C182.9 352.1 184.2 353.5 183.7 354.7 C183.2 355.9 181.3 356.7 179.4 357.5 C177.6 358.3 174.7 359.0 172.4 359.6 C170.0 360.2 166.7 360.0 165.3 361.1 C163.9 362.1 164.0 364.5 163.9 366.0 C163.8 367.5 165.1 368.8 164.6 370.2 C164.1 371.6 162.6 373.2 161.1 374.5 C159.6 375.8 157.3 377.1 155.4 378.0 C153.6 378.9 151.9 379.5 149.8 380.1 C147.7 380.7 145.1 381.5 142.7 381.5 C140.4 381.5 137.8 380.7 135.7 380.1 C133.5 379.5 132.1 378.7 130.0 378.0 C127.9 377.3 125.1 376.9 122.9 375.9 C120.8 374.8 118.9 373.1 117.3 371.6 C115.7 370.2 114.9 368.6 113.1 367.4 C111.2 366.2 107.4 365.2 106.0 364.6 C104.6 364.0 104.6 363.9 104.6 363.9 L104.6 309.5 C104.6 309.5 106.2 311.4 107.4 312.3 C108.6 313.3 110.2 314.0 111.6 315.1 C113.1 316.3 114.6 317.5 115.9 319.4 C117.2 321.3 118.4 324.1 119.4 326.4 C120.5 328.8 121.3 331.2 122.2 333.5 C123.2 335.9 124.0 338.5 125.1 340.6 C126.1 342.7 127.3 345.7 128.6 346.2 C129.9 346.7 131.4 344.6 132.8 343.4 C134.2 342.2 135.4 340.8 137.1 339.2 C138.7 337.5 140.8 335.4 142.7 333.5 C144.6 331.6 146.5 329.7 148.4 327.9 C150.3 326.0 152.5 324.3 154.0 322.2 C155.6 320.1 156.7 317.4 157.6 315.1 C158.4 312.9 158.5 310.9 159.0 308.8 C159.4 306.7 159.8 304.4 160.4 302.4Z" fill="#1c67d2"/><path d="M233.1 251.6 C233.1 251.6 235.7 254.1 237.4 255.1 C239.0 256.2 241.4 257.2 243.0 257.9 C244.7 258.6 247.2 259.4 247.2 259.4 L247.2 251.6 L233.1 251.6Z" fill="#079607"/><path d="M142.0 343.4 C141.9 342.0 142.8 339.6 144.1 337.7 C145.4 335.9 147.9 334.0 149.8 332.1 C151.7 330.2 153.7 328.3 155.4 326.4 C157.2 324.6 159.0 322.7 160.4 320.8 C161.8 318.9 162.9 317.0 163.9 315.1 C165.0 313.3 165.6 311.0 166.7 309.5 C167.9 308.0 169.1 306.7 171.0 306.0 C172.9 305.2 175.7 304.9 178.0 305.0 C180.4 305.1 183.0 305.9 185.1 306.7 C187.2 307.4 188.6 308.8 190.7 309.5 C192.9 310.2 195.5 311.0 197.8 310.9 C200.2 310.8 202.8 309.1 204.9 308.8 C207.0 308.4 208.6 308.2 210.5 308.8 C212.4 309.4 214.3 311.0 216.2 312.3 C218.1 313.6 219.9 315.3 221.8 316.6 C223.7 317.9 225.8 319.1 227.5 320.1 C229.1 321.0 231.2 321.3 231.7 322.2 C232.2 323.2 231.2 324.8 230.3 325.7 C229.4 326.7 227.9 327.4 226.1 327.9 C224.2 328.3 221.3 328.6 219.0 328.6 C216.6 328.6 214.3 328.1 211.9 327.9 C209.6 327.6 207.2 327.4 204.9 327.2 C202.5 326.9 200.2 326.6 197.8 326.4 C195.5 326.3 192.6 326.0 190.7 326.4 C188.9 326.9 187.9 328.1 186.5 329.3 C185.1 330.4 183.7 332.1 182.3 333.5 C180.9 334.9 179.4 336.3 178.0 337.7 C176.6 339.2 175.2 340.6 173.8 342.0 C172.4 343.4 171.2 344.8 169.6 346.2 C167.9 347.6 165.6 349.4 163.9 350.5 C162.3 351.5 161.1 352.6 159.7 352.6 C158.3 352.6 157.1 351.3 155.4 350.5 C153.8 349.6 151.6 348.3 149.8 347.6 C148.0 346.9 146.1 346.9 144.8 346.2 C143.5 345.5 142.1 344.8 142.0 343.4Z" fill="#2e1fa8"/><path d="M240.9 294.0 C241.1 292.8 241.9 291.3 243.0 290.4 C244.1 289.6 247.2 289.0 247.2 289.0 L247.2 301.0 C247.2 301.0 244.7 300.9 243.7 300.3 C242.8 299.7 242.1 298.6 241.6 297.5 C241.1 296.4 240.7 295.1 240.9 294.0Z" fill="#2e1fa8"/><path d="M104.6 326.4 C104.6 326.4 107.4 326.0 108.8 326.4 C110.2 326.9 111.9 327.9 113.1 329.3 C114.2 330.7 115.2 332.8 115.9 334.9 C116.6 337.0 116.8 339.6 117.3 342.0 C117.8 344.3 118.0 346.9 118.7 349.0 C119.4 351.2 120.1 352.8 121.5 354.7 C122.9 356.6 125.3 358.7 127.2 360.3 C129.1 362.0 131.7 363.3 132.8 364.6 C134.0 365.9 134.7 367.3 134.2 368.1 C133.8 368.9 131.7 369.9 130.0 369.5 C128.4 369.2 126.2 367.3 124.4 366.0 C122.5 364.7 120.6 363.2 118.7 361.8 C116.8 360.3 114.9 358.9 113.1 357.5 C111.2 356.1 108.8 354.2 107.4 353.3 C106.0 352.3 104.6 351.9 104.6 351.9 L104.6 326.4Z" fill="#2e1fa8"/></g><clipPath id="c1_8"><rect x="239.0" y="255.0" width="122.0" height="135.0"/></clipPath><g clip-path="url(#c1_8)"><path d="M224.6 251.6 L367.2 251.6 L367.2 394.2 L224.6 394.2Z" fill="#fffa2a"/><path d="M319.2 308.1 C319.0 306.9 320.6 306.4 322.0 306.7 C323.5 306.9 325.6 308.3 327.7 309.5 C329.8 310.7 332.5 312.2 334.8 313.7 C337.0 315.3 339.7 317.0 341.1 318.7 C342.5 320.3 343.2 321.9 343.2 323.6 C343.2 325.4 341.9 327.2 341.1 329.3 C340.3 331.4 339.0 334.0 338.3 336.3 C337.6 338.7 337.7 341.7 336.9 343.4 C336.1 345.0 334.4 346.2 333.3 346.2 C332.3 346.2 331.1 345.0 330.5 343.4 C329.9 341.7 329.9 338.7 329.8 336.3 C329.7 334.0 330.2 331.9 329.8 329.3 C329.5 326.7 328.8 323.4 327.7 320.8 C326.6 318.2 324.9 315.9 323.5 313.7 C322.0 311.6 319.5 309.3 319.2 308.1Z" fill="#ffffff"/><path d="M256.8 374.5 C256.9 374.0 258.5 373.0 259.2 373.1 C259.9 373.1 261.1 374.2 261.0 374.8 C261.0 375.3 259.5 376.2 258.8 376.2 C258.1 376.1 256.7 375.0 256.8 374.5Z" fill="#ffffff"/><path d="M224.6 251.6 L261.3 251.6 C261.3 251.6 260.0 255.4 259.2 257.2 C258.4 259.1 256.6 261.2 256.4 262.9 C256.1 264.5 256.7 265.8 257.8 267.1 C258.8 268.4 260.7 269.7 262.7 270.7 C264.7 271.6 267.2 272.5 269.8 272.8 C272.4 273.1 275.9 272.3 278.3 272.5 C280.6 272.7 282.3 273.2 283.9 274.2 C285.6 275.2 286.6 276.8 288.1 278.4 C289.7 280.1 291.4 282.1 293.1 284.1 C294.7 286.1 296.7 288.3 298.0 290.4 C299.3 292.5 300.0 294.3 300.9 296.8 C301.7 299.3 302.4 302.4 303.0 305.3 C303.6 308.1 303.7 310.9 304.4 313.7 C305.1 316.6 305.9 319.6 307.2 322.2 C308.5 324.8 310.6 327.2 312.2 329.3 C313.7 331.4 315.3 333.0 316.4 334.9 C317.5 336.8 318.5 338.7 318.5 340.6 C318.5 342.5 317.5 344.6 316.4 346.2 C315.3 347.9 313.8 349.8 312.2 350.5 C310.5 351.2 308.4 350.7 306.5 350.5 C304.6 350.2 303.0 349.5 300.9 349.0 C298.7 348.6 296.2 348.2 293.8 347.6 C291.4 347.0 289.1 346.1 286.7 345.5 C284.4 344.9 282.0 344.5 279.7 344.1 C277.3 343.7 274.7 344.0 272.6 343.4 C270.5 342.8 268.8 341.6 267.0 340.6 C265.1 339.5 263.1 337.7 261.3 337.0 C259.5 336.3 257.7 335.7 256.4 336.3 C255.1 336.9 254.1 338.7 253.5 340.6 C253.0 342.5 252.8 345.3 252.8 347.6 C252.8 350.0 253.8 352.6 253.5 354.7 C253.3 356.8 252.5 358.5 251.4 360.3 C250.4 362.2 248.6 364.3 247.2 366.0 C245.8 367.6 244.6 369.1 242.9 370.2 C241.3 371.4 239.4 372.7 237.3 373.1 C235.2 373.4 232.4 372.7 230.2 372.4 C228.1 372.0 224.6 370.9 224.6 370.9 L224.6 251.6Z" fill="#079607"/><path d="M330.5 251.6 C330.5 251.6 333.3 255.1 334.8 256.5 C336.2 257.9 337.6 258.5 339.0 260.1 C340.4 261.6 341.6 264.1 343.2 265.7 C344.9 267.4 347.0 269.0 348.9 269.9 C350.8 270.9 351.5 271.2 354.5 271.4 C357.6 271.5 367.2 270.7 367.2 270.7 L367.2 251.6 L330.5 251.6Z" fill="#079607"/><path d="M333.3 293.3 C333.6 292.1 334.5 290.5 336.2 289.7 C337.8 288.9 340.6 288.4 343.2 288.3 C345.8 288.2 349.1 288.8 351.7 289.0 C354.3 289.3 356.2 289.7 358.8 289.7 C361.4 289.8 367.2 289.4 367.2 289.4 L367.2 313.7 C367.2 313.7 360.2 313.7 357.4 313.0 C354.5 312.3 352.4 310.8 350.3 309.5 C348.2 308.2 346.5 306.8 344.6 305.3 C342.8 303.7 340.6 301.7 339.0 300.3 C337.3 298.9 335.7 298.0 334.8 296.8 C333.8 295.6 333.1 294.4 333.3 293.3Z" fill="#079607"/><path d="M349.6 340.6 C349.9 337.7 350.6 335.4 351.7 333.5 C352.8 331.6 354.5 330.2 355.9 329.3 C357.4 328.3 358.3 328.1 360.2 327.9 C362.1 327.6 367.2 327.9 367.2 327.9 L367.2 358.9 C367.2 358.9 359.9 358.7 357.4 358.2 C354.8 357.8 353.0 357.4 351.7 356.1 C350.4 354.8 349.9 353.0 349.6 350.5 C349.2 347.9 349.2 343.4 349.6 340.6Z" fill="#079607"/><path d="M274.0 388.2 C275.0 386.3 277.6 384.5 279.7 382.9 C281.8 381.4 284.4 380.0 286.7 378.7 C289.1 377.4 291.4 376.2 293.8 375.2 C296.2 374.1 298.5 373.1 300.9 372.4 C303.2 371.6 305.3 371.2 307.9 370.9 C310.5 370.7 313.6 371.1 316.4 370.9 C319.2 370.8 322.0 370.7 324.9 370.2 C327.7 369.8 330.5 368.8 333.3 368.1 C336.2 367.4 339.2 366.8 341.8 366.0 C344.4 365.2 346.5 364.0 348.9 363.2 C351.2 362.3 352.9 361.8 355.9 361.1 C359.0 360.3 367.2 358.9 367.2 358.9 L367.2 394.2 L274.0 394.2 C274.0 394.2 273.1 390.1 274.0 388.2Z" fill="#079607"/><path d="M224.6 251.6 L231.6 251.6 C231.6 251.6 234.2 254.4 235.9 255.8 C237.5 257.2 239.8 258.4 241.5 260.1 C243.3 261.7 244.8 263.8 246.5 265.7 C248.1 267.6 249.7 269.7 251.4 271.4 C253.2 273.0 255.0 274.3 257.1 275.6 C259.2 276.9 261.5 278.2 264.1 279.1 C266.7 280.1 270.0 280.4 272.6 281.2 C275.2 282.1 277.6 282.8 279.7 284.1 C281.8 285.4 283.7 287.1 285.3 289.0 C287.0 290.9 288.3 293.1 289.6 295.4 C290.9 297.6 292.1 299.8 293.1 302.4 C294.0 305.0 294.9 308.1 295.2 310.9 C295.6 313.7 295.3 316.6 295.2 319.4 C295.1 322.2 295.2 325.7 294.5 327.9 C293.8 330.0 292.5 331.1 291.0 332.1 C289.4 333.1 287.4 333.6 285.3 333.8 C283.2 334.0 280.6 333.8 278.3 333.5 C275.9 333.2 273.6 332.8 271.2 332.1 C268.8 331.4 266.5 330.2 264.1 329.3 C261.8 328.3 259.4 327.2 257.1 326.4 C254.7 325.7 252.1 324.6 250.0 325.0 C247.9 325.5 246.2 327.7 244.4 329.3 C242.5 330.8 240.6 333.2 238.7 334.2 C236.8 335.3 235.2 335.6 233.1 335.6 C230.9 335.6 227.4 334.6 226.0 334.2 C224.6 333.9 224.6 333.5 224.6 333.5 L224.6 251.6Z" fill="#1c67d2"/><path d="M317.8 388.2 C319.0 386.5 321.3 385.6 323.5 384.4 C325.6 383.1 328.2 381.9 330.5 380.8 C332.9 379.8 335.2 378.9 337.6 378.0 C339.9 377.1 342.3 376.1 344.6 375.2 C347.0 374.2 349.6 373.2 351.7 372.4 C353.8 371.5 354.8 370.8 357.4 370.2 C359.9 369.6 367.2 368.8 367.2 368.8 L367.2 394.2 L316.4 394.2 C316.4 394.2 316.6 389.8 317.8 388.2Z" fill="#1c67d2"/><path d="M224.6 274.2 C224.6 274.2 226.6 278.7 227.4 281.2 C228.2 283.8 228.7 286.9 229.5 289.7 C230.4 292.5 231.6 295.6 232.4 298.2 C233.1 300.8 233.9 303.5 233.8 305.3 C233.7 307.0 232.5 308.3 231.6 308.8 C230.8 309.3 229.8 309.1 228.8 308.1 C227.9 307.0 226.7 303.8 226.0 302.4 C225.3 301.0 224.6 299.6 224.6 299.6 L224.6 274.2Z" fill="#079607"/><path d="M240.8 294.0 C240.8 292.7 241.9 291.5 242.9 290.9 C244.0 290.2 245.7 289.8 247.2 290.0 C248.7 290.2 250.5 290.9 252.1 291.8 C253.8 292.7 255.3 294.4 257.1 295.4 C258.8 296.3 260.8 296.4 262.7 297.5 C264.6 298.6 266.6 300.3 268.4 301.7 C270.1 303.1 272.2 304.6 273.3 306.0 C274.4 307.4 275.3 309.2 275.2 310.2 C275.0 311.2 273.9 312.0 272.6 312.0 C271.4 312.0 269.3 311.1 267.7 310.2 C266.0 309.3 264.4 307.8 262.7 306.7 C261.1 305.5 259.5 304.0 257.8 303.1 C256.0 302.3 253.9 302.1 252.1 301.7 C250.4 301.3 248.7 301.3 247.2 300.7 C245.7 300.2 244.0 299.3 242.9 298.2 C241.9 297.1 240.8 295.2 240.8 294.0Z" fill="#2e1fa8"/><path d="M224.6 322.2 C224.6 322.2 227.6 321.1 228.8 321.1 C230.0 321.1 231.2 321.4 231.6 322.2 C232.1 323.0 232.0 324.9 231.4 325.7 C230.8 326.6 229.2 327.0 228.1 327.2 C227.0 327.3 224.6 326.7 224.6 326.7 L224.6 322.2Z" fill="#2e1fa8"/></g>
</g>
<g clip-path="url(#clip)"><use href="#coast"/></g>
<rect x="0.5" y="0.4" width="359.5" height="387.4" fill="none" stroke="#000" stroke-width="1.3"/>
<use href="#axes"/><use href="#cbar"/><use href="#cbl"/>
</g>
<g transform="translate(565,87)">
<text x="-13.6" y="-9.1" font-size="19.4" textLength="97.1" lengthAdjust="spacingAndGlyphs">Precipitacao</text><text x="94.4" y="-9.1" font-size="19.4" textLength="85.4" lengthAdjust="spacingAndGlyphs">acumulada</text><text x="190.5" y="-9.1" font-size="19.4" textLength="22.8" lengthAdjust="spacingAndGlyphs">em</text><text x="224.4" y="-9.1" font-size="19.4" textLength="18.8" lengthAdjust="spacingAndGlyphs">24</text><text x="255.0" y="-9.1" font-size="19.4" textLength="22.9" lengthAdjust="spacingAndGlyphs">hrs</text><text x="289.0" y="-9.1" font-size="19.4" textLength="9.7" lengthAdjust="spacingAndGlyphs">&gt;</text><text x="312.2" y="-9.1" font-size="19.4" textLength="20.6" lengthAdjust="spacingAndGlyphs">5.0</text><text x="345.5" y="-9.1" font-size="19.4" textLength="28.2" lengthAdjust="spacingAndGlyphs">mm</text>
<g clip-path="url(#clip)" shape-rendering="crispEdges">
<clipPath id="c2_0"><rect x="0.0" y="0.0" width="113.0" height="128.0"/></clipPath><g clip-path="url(#c2_0)"><path d="M-5.4 0.1 L137.2 0.1 L137.2 135.0 L94.9 135.0 C94.9 135.0 94.3 132.9 93.5 130.8 C92.6 128.6 91.1 125.1 89.9 122.3 C88.7 119.5 87.3 116.6 86.4 113.8 C85.5 111.0 84.9 108.2 84.3 105.3 C83.7 102.5 83.2 99.7 82.9 96.9 C82.5 94.0 82.2 91.2 82.2 88.4 C82.2 85.6 82.5 82.3 82.9 79.9 C83.2 77.6 84.4 76.0 84.3 74.3 C84.2 72.5 83.5 70.5 82.2 69.3 C80.9 68.2 79.1 67.8 76.5 67.2 C73.9 66.6 70.6 66.1 66.6 65.8 C62.6 65.4 57.2 65.3 52.5 65.1 C47.8 64.9 43.1 64.7 38.4 64.4 C33.7 64.0 29.0 63.3 24.2 63.0 C19.5 62.6 15.1 62.5 10.1 62.3 C5.2 62.0 -5.4 61.6 -5.4 61.6 L-5.4 0.1Z" fill="#fffa2a"/><path d="M4.5 0.1 C8.5 -0.8 26.8 -0.9 30.6 0.1 C34.4 1.2 28.2 4.2 27.4 6.5 C26.5 8.7 25.8 11.1 25.4 13.5 C25.0 16.0 25.5 19.2 25.0 21.3 C24.4 23.4 23.7 25.1 22.1 26.2 C20.6 27.4 17.7 27.1 15.8 27.9 C13.9 28.8 12.4 30.5 10.8 31.2 C9.3 31.9 7.5 32.4 6.6 31.9 C5.7 31.4 5.3 29.8 5.6 28.4 C5.9 27.0 7.7 25.2 8.4 23.4 C9.2 21.7 10.0 19.8 10.1 17.8 C10.2 15.8 9.6 13.4 9.0 11.4 C8.4 9.4 7.3 7.7 6.6 5.8 C5.8 3.9 0.5 1.1 4.5 0.1Z" fill="#ffffff"/><path d="M49.0 12.1 C49.3 10.8 51.2 10.9 52.5 11.4 C53.8 11.9 55.3 13.7 56.7 14.9 C58.1 16.2 60.0 17.8 61.0 19.2 C61.9 20.6 62.9 22.5 62.4 23.4 C61.9 24.4 59.8 24.7 58.1 24.8 C56.5 25.0 53.8 25.1 52.5 24.1 C51.2 23.2 51.0 21.2 50.4 19.2 C49.8 17.2 48.6 13.4 49.0 12.1Z" fill="#ffffff"/><path d="M80.0 19.2 C80.3 18.2 81.6 17.8 83.6 17.1 C85.6 16.4 89.7 15.1 92.0 14.9 C94.4 14.8 96.5 15.7 97.7 16.4 C98.9 17.1 99.6 18.4 99.1 19.2 C98.6 20.0 96.8 20.7 94.9 21.3 C93.0 21.9 89.9 22.5 87.8 22.7 C85.7 23.0 83.5 23.3 82.2 22.7 C80.9 22.1 79.8 20.1 80.0 19.2Z" fill="#ffffff"/><path d="M104.8 6.5 C106.1 5.2 107.3 2.8 109.0 2.2 C110.6 1.6 113.0 2.0 114.6 2.9 C116.3 3.9 117.9 6.4 118.9 7.9 C119.8 9.4 120.8 11.3 120.3 12.1 C119.8 12.9 117.9 12.8 116.1 12.8 C114.2 12.8 111.6 12.2 109.0 12.1 C106.4 12.0 101.8 12.5 100.5 12.1 C99.2 11.8 100.5 10.9 101.2 10.0 C101.9 9.1 103.5 7.8 104.8 6.5Z" fill="#ffffff"/><path d="M-5.4 38.3 C-5.4 38.3 3.5 38.5 7.3 38.3 C11.1 38.0 14.4 37.5 17.2 36.8 C20.0 36.1 21.9 35.0 24.2 34.0 C26.6 33.1 28.3 31.6 31.3 31.2 C34.4 30.8 38.6 31.5 42.6 31.6 C46.6 31.7 51.8 32.0 55.3 31.9 C58.9 31.8 61.4 31.5 63.8 31.2 C66.2 30.8 67.6 29.9 69.4 29.8 C71.3 29.7 73.2 30.1 75.1 30.5 C77.0 30.8 78.6 31.8 80.7 31.9 C82.9 32.0 85.5 31.1 87.8 31.2 C90.2 31.3 92.5 32.3 94.9 32.6 C97.2 33.0 99.6 32.7 101.9 33.3 C104.3 33.9 106.6 35.1 109.0 36.1 C111.3 37.2 114.2 38.3 116.1 39.7 C117.9 41.1 119.5 42.6 120.3 44.6 C121.1 46.6 120.1 50.7 121.0 51.7 C121.9 52.6 124.4 51.1 125.9 50.3 C127.5 49.4 128.3 47.7 130.2 46.7 C132.1 45.8 137.2 44.6 137.2 44.6 L137.2 135.0 L97.7 135.0 C97.7 135.0 97.2 132.9 96.3 130.8 C95.3 128.6 93.2 125.1 92.0 122.3 C90.9 119.5 89.9 116.6 89.2 113.8 C88.5 111.0 88.2 108.2 87.8 105.3 C87.5 102.5 87.3 99.7 87.1 96.9 C86.9 94.0 86.4 91.5 86.4 88.4 C86.4 85.3 86.9 81.3 87.1 78.5 C87.3 75.7 87.5 73.6 87.8 71.4 C88.2 69.3 89.2 67.7 89.2 65.8 C89.2 63.9 88.7 61.0 87.8 60.1 C86.9 59.3 85.5 60.9 83.6 60.9 C81.7 60.9 79.3 60.5 76.5 60.1 C73.7 59.8 70.6 59.1 66.6 58.7 C62.6 58.4 57.2 58.0 52.5 58.0 C47.8 58.0 43.1 58.9 38.4 58.7 C33.7 58.6 29.0 57.8 24.2 57.3 C19.5 56.9 15.1 56.3 10.1 55.9 C5.2 55.6 -5.4 55.2 -5.4 55.2 L-5.4 38.3Z" fill="#079607"/><path d="M116.1 30.5 C116.3 28.6 116.8 27.4 117.5 26.2 C118.2 25.1 118.9 24.1 120.3 23.4 C121.7 22.7 124.1 22.1 125.9 22.0 C127.8 21.9 129.7 22.4 131.6 22.7 C133.5 23.1 137.2 24.1 137.2 24.1 L137.2 35.4 C137.2 35.4 131.1 34.6 128.8 34.7 C126.4 34.8 124.8 35.4 123.1 36.1 C121.5 36.8 120.1 38.7 118.9 39.0 C117.7 39.2 116.5 39.0 116.1 37.5 C115.6 36.1 115.8 32.4 116.1 30.5Z" fill="#079607"/><path d="M30.6 14.9 C30.7 13.7 31.1 12.3 32.0 11.4 C33.0 10.5 34.9 9.6 36.3 9.6 C37.6 9.6 39.2 10.4 40.1 11.4 C40.9 12.4 41.4 14.2 41.2 15.7 C41.0 17.1 40.1 19.0 39.1 19.9 C38.0 20.8 36.1 21.0 34.8 20.9 C33.5 20.7 32.0 19.9 31.3 18.9 C30.6 17.9 30.5 16.2 30.6 14.9Z" fill="#079607"/><path d="M53.9 -1.3 C49.4 -0.4 55.3 2.9 56.7 4.4 C58.1 5.8 60.3 6.9 62.4 7.2 C64.5 7.4 67.3 6.1 69.4 5.8 C71.6 5.4 73.2 5.4 75.1 5.1 C77.0 4.7 79.3 4.7 80.7 3.6 C82.2 2.6 88.0 -0.5 83.6 -1.3 C79.1 -2.1 58.4 -2.2 53.9 -1.3Z" fill="#079607"/><path d="M104.8 116.6 C105.1 115.3 106.6 114.3 107.6 114.5 C108.5 114.8 109.5 116.3 110.4 118.1 C111.3 119.8 112.1 123.0 113.2 125.1 C114.4 127.2 116.3 129.1 117.5 130.8 C118.6 132.4 120.3 135.0 120.3 135.0 L111.8 135.0 C111.8 135.0 109.3 131.5 108.3 129.4 C107.2 127.2 106.1 124.4 105.5 122.3 C104.9 120.2 104.4 117.9 104.8 116.6Z" fill="#fffa2a"/><path d="M-5.4 42.5 C-5.4 42.5 5.7 42.4 10.1 41.8 C14.6 41.2 17.9 39.9 21.4 39.0 C25.0 38.0 27.8 36.6 31.3 36.1 C34.8 35.7 38.6 36.3 42.6 36.4 C46.6 36.5 51.3 36.9 55.3 36.8 C59.3 36.8 63.3 36.4 66.6 36.1 C69.9 35.8 72.7 34.9 75.1 35.0 C77.5 35.1 78.6 36.2 80.7 36.8 C82.9 37.5 85.5 38.7 87.8 39.0 C90.2 39.2 92.8 38.5 94.9 38.3 C97.0 38.0 98.4 37.4 100.5 37.5 C102.6 37.7 105.5 38.3 107.6 39.0 C109.7 39.7 111.7 40.6 113.2 41.8 C114.8 43.0 116.3 44.4 116.8 46.0 C117.2 47.7 116.6 50.0 116.1 51.7 C115.5 53.3 114.3 54.3 113.2 55.9 C112.2 57.6 110.8 59.7 109.7 61.6 C108.6 63.4 107.8 65.3 106.9 67.2 C105.9 69.1 104.8 71.1 104.1 72.9 C103.3 74.6 102.9 76.5 102.2 77.8 C101.5 79.1 100.7 79.6 99.8 80.6 C98.9 81.7 97.8 82.6 97.0 84.2 C96.2 85.7 95.5 87.9 94.9 89.8 C94.3 91.7 93.5 93.6 93.5 95.5 C93.5 97.3 93.9 99.5 94.9 101.1 C95.8 102.8 97.9 103.7 99.1 105.3 C100.3 107.0 101.1 108.6 101.9 111.0 C102.8 113.3 103.5 116.6 104.1 119.5 C104.6 122.3 105.1 125.4 105.5 127.9 C105.8 130.5 106.2 135.0 106.2 135.0 L94.9 135.0 C94.9 135.0 94.0 130.5 93.5 127.9 C92.9 125.4 91.9 122.3 91.3 119.5 C90.8 116.6 90.3 113.8 89.9 111.0 C89.6 108.2 89.3 105.3 89.2 102.5 C89.1 99.7 89.2 96.9 89.2 94.0 C89.2 91.2 89.1 88.2 89.2 85.6 C89.3 83.0 89.6 80.6 89.9 78.5 C90.3 76.4 90.8 74.7 91.3 72.9 C91.9 71.0 92.9 69.1 93.5 67.2 C94.0 65.3 94.6 63.4 94.9 61.6 C95.1 59.7 95.1 57.3 94.9 55.9 C94.6 54.5 94.4 53.3 93.5 53.1 C92.5 52.8 90.9 54.1 89.2 54.5 C87.6 54.9 85.7 55.2 83.6 55.2 C81.5 55.2 79.3 54.9 76.5 54.5 C73.7 54.1 70.2 53.2 66.6 53.1 C63.1 53.0 59.3 53.4 55.3 53.8 C51.3 54.1 46.6 55.2 42.6 55.2 C38.6 55.2 34.8 54.3 31.3 53.8 C27.8 53.3 25.0 52.7 21.4 52.4 C17.9 52.0 14.6 51.8 10.1 51.7 C5.7 51.6 -5.4 51.7 -5.4 51.7 L-5.4 42.5Z" fill="#1c67d2"/><path d="M104.8 88.4 C104.8 86.3 105.0 84.4 105.5 82.7 C105.9 81.1 106.5 79.9 107.6 78.5 C108.6 77.1 110.4 75.9 111.8 74.3 C113.2 72.6 114.6 70.5 116.1 68.6 C117.5 66.7 118.9 64.9 120.3 63.0 C121.7 61.1 123.1 59.2 124.5 57.3 C125.9 55.4 127.4 53.3 128.8 51.7 C130.2 50.0 131.6 48.5 133.0 47.4 C134.4 46.4 137.2 45.3 137.2 45.3 L137.2 99.7 C137.2 99.7 133.2 102.3 131.6 101.8 C129.9 101.3 128.8 97.9 127.4 96.9 C125.9 95.8 124.5 95.5 123.1 95.5 C121.7 95.5 120.3 96.2 118.9 96.9 C117.5 97.6 116.1 98.8 114.6 99.7 C113.2 100.6 111.6 102.5 110.4 102.5 C109.2 102.5 108.4 100.9 107.6 99.7 C106.8 98.5 105.9 97.3 105.5 95.5 C105.0 93.6 104.8 90.5 104.8 88.4Z" fill="#1c67d2"/><path d="M113.2 108.2 C113.3 106.3 114.9 105.1 116.1 105.3 C117.2 105.6 118.9 107.7 120.3 109.6 C121.7 111.5 123.1 114.5 124.5 116.6 C125.9 118.8 128.1 120.4 128.8 122.3 C129.5 124.2 129.7 127.1 128.8 127.9 C127.8 128.8 124.8 128.2 123.1 127.2 C121.5 126.3 120.2 124.1 118.9 122.3 C117.6 120.5 116.3 119.0 115.4 116.6 C114.4 114.3 113.1 110.1 113.2 108.2Z" fill="#1c67d2"/><path d="M128.8 77.1 C129.1 75.6 130.2 74.3 131.6 73.6 C133.0 72.9 137.2 72.9 137.2 72.9 L137.2 88.4 C137.2 88.4 133.6 87.9 132.3 87.0 C131.0 86.0 130.1 84.4 129.5 82.7 C128.9 81.1 128.4 78.6 128.8 77.1Z" fill="#079607"/><path d="M32.0 46.0 C32.4 45.5 34.7 45.0 37.0 44.6 C39.2 44.3 42.8 43.9 45.4 43.9 C48.0 43.9 51.0 44.2 52.5 44.6 C54.0 45.0 55.1 45.8 54.6 46.3 C54.1 46.8 51.9 47.4 49.7 47.7 C47.4 48.0 43.7 48.1 41.2 48.1 C38.7 48.1 36.4 48.1 34.8 47.7 C33.3 47.4 31.7 46.5 32.0 46.0Z" fill="#2e1fa8"/><path d="M75.1 46.7 C75.3 46.3 76.7 45.4 77.9 45.3 C79.1 45.2 81.3 45.6 82.2 46.0 C83.0 46.4 83.2 47.2 82.9 47.7 C82.5 48.2 81.1 48.8 80.0 48.8 C79.0 48.9 77.3 48.5 76.5 48.1 C75.7 47.8 74.9 47.2 75.1 46.7Z" fill="#2e1fa8"/><path d="M99.1 46.0 C99.3 44.6 100.4 43.4 101.2 43.2 C102.0 43.0 103.4 43.4 104.1 44.6 C104.7 45.8 105.0 48.4 105.0 50.3 C105.1 52.1 104.9 54.0 104.5 55.9 C104.1 57.8 103.4 59.7 102.6 61.6 C101.9 63.4 100.8 65.6 99.8 67.2 C98.9 68.9 97.6 71.2 97.0 71.4 C96.4 71.7 95.9 70.0 96.0 68.6 C96.1 67.2 97.1 64.9 97.7 63.0 C98.3 61.1 99.0 59.2 99.4 57.3 C99.7 55.4 99.9 53.6 99.8 51.7 C99.8 49.8 98.9 47.4 99.1 46.0Z" fill="#2e1fa8"/><path d="M108.3 86.3 C108.8 84.5 109.9 83.0 111.1 81.3 C112.3 79.7 114.1 77.7 115.4 76.4 C116.6 75.1 117.9 73.8 118.9 73.6 C119.8 73.3 121.0 73.9 121.0 75.0 C121.0 76.0 119.7 78.2 118.9 79.9 C118.1 81.7 117.0 83.6 116.1 85.6 C115.1 87.6 114.3 90.3 113.2 91.9 C112.2 93.6 110.5 95.5 109.7 95.5 C108.9 95.5 108.5 93.5 108.3 91.9 C108.1 90.4 107.8 88.0 108.3 86.3Z" fill="#2e1fa8"/><path d="M97.0 115.2 L98.0 115.2 L98.0 120.2 L97.0 120.2Z" fill="#2e1fa8"/></g><clipPath id="c2_1"><rect x="113.0" y="0.0" width="126.0" height="128.0"/></clipPath><g clip-path="url(#c2_1)"><path d="M104.6 -3.4 L247.2 -3.4 L247.2 139.2 L104.6 139.2Z" fill="#fffa2a"/><path d="M104.6 0.8 C104.6 0.8 109.5 2.0 111.6 2.9 C113.8 3.9 115.8 5.3 117.3 6.5 C118.8 7.7 120.6 8.8 120.8 10.0 C121.1 11.2 120.0 13.1 118.7 13.5 C117.4 14.0 115.4 13.1 113.1 12.8 C110.7 12.6 104.6 12.1 104.6 12.1 L104.6 0.8Z" fill="#ffffff"/><path d="M151.2 1.5 C151.8 0.8 153.9 0.8 155.4 0.8 C157.0 0.8 159.7 0.8 160.4 1.5 C161.1 2.2 160.5 4.1 159.7 5.1 C158.8 6.0 156.7 7.2 155.4 7.2 C154.1 7.2 152.6 6.0 151.9 5.1 C151.2 4.1 150.6 2.2 151.2 1.5Z" fill="#ffffff"/><path d="M132.8 12.1 C133.5 11.6 136.1 11.0 137.8 11.0 C139.4 10.9 142.0 11.3 142.7 11.8 C143.4 12.4 143.0 13.7 142.0 14.2 C141.1 14.8 138.5 14.9 137.1 14.9 C135.7 14.9 134.2 14.7 133.5 14.2 C132.8 13.8 132.1 12.7 132.8 12.1Z" fill="#ffffff"/><path d="M162.5 13.5 C163.1 12.2 164.9 10.7 166.0 10.7 C167.2 10.7 169.1 12.1 169.6 13.5 C170.0 14.9 169.6 18.0 168.9 19.2 C168.1 20.4 166.4 20.7 165.3 20.6 C164.3 20.5 163.0 19.7 162.5 18.5 C162.0 17.3 161.9 14.8 162.5 13.5Z" fill="#ffffff"/><path d="M210.5 22.7 C210.8 21.5 213.3 20.2 214.8 19.2 C216.2 18.1 217.3 17.5 219.0 16.4 C220.6 15.2 222.8 13.5 224.6 12.1 C226.5 10.7 228.4 9.2 230.3 7.9 C232.2 6.6 234.1 5.4 235.9 4.4 C237.8 3.3 239.7 2.1 241.6 1.5 C243.5 0.9 247.2 0.8 247.2 0.8 L247.2 24.8 C247.2 24.8 242.5 24.0 240.2 24.1 C237.8 24.2 235.5 25.2 233.1 25.5 C230.8 25.9 228.4 26.0 226.1 26.2 C223.7 26.5 221.1 27.0 219.0 27.0 C216.9 27.0 214.8 27.0 213.3 26.2 C211.9 25.5 210.3 23.9 210.5 22.7Z" fill="#ffffff"/><path d="M187.2 88.4 C188.6 87.7 191.3 90.7 193.6 92.6 C195.8 94.5 198.5 97.6 200.6 99.7 C202.8 101.8 204.5 103.6 206.3 105.3 C208.0 107.1 209.8 108.6 211.2 110.3 C212.6 111.9 213.5 113.7 214.8 115.2 C216.1 116.8 217.1 118.9 219.0 119.5 C220.9 120.1 223.7 119.2 226.1 118.8 C228.4 118.3 230.5 117.1 233.1 116.6 C235.7 116.2 239.2 116.2 241.6 115.9 C243.9 115.7 247.2 115.2 247.2 115.2 L247.2 139.2 L204.9 139.2 C204.9 139.2 205.3 130.7 203.5 128.6 C201.6 126.6 196.2 127.8 193.6 127.2 C191.0 126.6 189.6 126.2 187.9 125.1 C186.3 124.1 184.6 122.8 183.7 120.9 C182.7 119.0 182.4 116.4 182.3 113.8 C182.2 111.2 182.5 108.2 183.0 105.3 C183.4 102.5 184.4 99.7 185.1 96.9 C185.8 94.0 185.8 89.1 187.2 88.4Z" fill="#ffffff"/><path d="M183.0 12.1 C183.5 11.1 185.2 9.8 186.5 8.6 C187.8 7.4 189.6 6.2 190.7 5.1 C191.9 3.9 191.7 2.2 193.6 1.5 C195.5 0.8 199.2 0.8 202.0 0.8 C204.9 0.8 210.0 0.7 210.5 1.5 C211.0 2.4 206.8 4.7 204.9 5.8 C203.0 6.8 200.9 6.8 199.2 7.9 C197.6 8.9 196.2 10.5 195.0 12.1 C193.8 13.8 193.1 16.5 192.2 17.8 C191.2 19.1 190.5 19.9 189.3 19.9 C188.2 19.9 186.1 18.6 185.1 17.8 C184.1 17.0 183.8 15.9 183.4 14.9 C183.0 14.0 182.5 13.2 183.0 12.1Z" fill="#079607"/><path d="M104.6 37.5 C104.6 37.5 109.8 38.5 111.6 38.3 C113.5 38.0 115.1 37.4 115.9 36.1 C116.7 34.8 115.9 32.1 116.6 30.5 C117.3 28.8 118.8 27.5 120.1 26.2 C121.4 25.0 122.5 23.4 124.4 22.7 C126.2 22.0 129.1 21.8 131.4 22.0 C133.8 22.2 136.4 23.5 138.5 24.1 C140.6 24.7 143.3 24.7 144.1 25.5 C145.0 26.4 144.4 27.8 143.4 29.1 C142.5 30.4 140.3 32.4 138.5 33.3 C136.7 34.3 134.7 34.4 132.8 34.7 C131.0 35.1 128.8 34.8 127.2 35.4 C125.5 36.0 124.0 37.2 122.9 38.3 C121.9 39.3 121.2 39.8 120.8 41.8 C120.5 43.8 120.2 48.6 120.8 50.3 C121.4 51.9 123.3 52.3 124.4 51.7 C125.4 51.1 125.5 47.7 127.2 46.7 C128.8 45.8 132.1 46.4 134.2 46.0 C136.4 45.7 138.3 44.4 139.9 44.6 C141.5 44.8 142.5 46.7 144.1 47.4 C145.8 48.1 147.9 49.0 149.8 48.8 C151.7 48.7 153.8 47.7 155.4 46.7 C157.1 45.8 158.5 44.7 159.7 43.2 C160.8 41.7 162.1 39.2 162.5 37.5 C162.9 35.9 162.3 34.6 161.8 33.3 C161.3 32.0 159.8 30.8 159.7 29.8 C159.6 28.7 159.9 27.2 161.1 27.0 C162.3 26.7 164.6 27.5 166.7 28.4 C168.9 29.2 171.2 30.6 173.8 31.9 C176.4 33.2 179.7 35.2 182.3 36.1 C184.9 37.1 187.5 37.8 189.3 37.5 C191.2 37.3 192.2 35.5 193.6 34.7 C195.0 33.9 195.9 32.8 197.8 32.6 C199.7 32.4 202.8 32.7 204.9 33.3 C207.0 33.9 208.4 35.3 210.5 36.1 C212.6 37.0 215.0 37.9 217.6 38.3 C220.2 38.6 223.0 38.4 226.1 38.3 C229.1 38.1 232.4 37.5 235.9 37.5 C239.5 37.5 247.2 38.3 247.2 38.3 L247.2 111.0 C247.2 111.0 243.9 111.2 241.6 111.0 C239.2 110.8 235.7 110.3 233.1 109.6 C230.5 108.9 228.4 107.8 226.1 106.8 C223.7 105.7 221.1 104.2 219.0 103.2 C216.9 102.3 215.2 102.2 213.3 101.1 C211.5 100.0 209.6 98.3 207.7 96.9 C205.8 95.5 203.7 94.0 202.0 92.6 C200.4 91.2 199.2 89.8 197.8 88.4 C196.4 87.0 194.7 85.8 193.6 84.2 C192.4 82.5 191.6 80.6 190.7 78.5 C189.9 76.4 189.5 73.6 188.6 71.4 C187.8 69.3 186.9 66.7 185.8 65.8 C184.7 64.9 183.6 65.1 182.3 65.8 C181.0 66.5 179.2 68.2 178.0 70.0 C176.9 71.9 175.9 74.7 175.2 77.1 C174.5 79.5 173.8 82.3 173.8 84.2 C173.8 86.0 175.3 86.3 175.2 88.4 C175.1 90.5 173.6 93.8 173.1 96.9 C172.6 99.9 173.2 104.4 172.4 106.8 C171.6 109.1 169.8 109.6 168.1 111.0 C166.5 112.4 164.4 114.1 162.5 115.2 C160.6 116.4 158.3 116.9 156.8 118.1 C155.4 119.2 154.3 120.6 154.0 122.3 C153.8 123.9 155.4 126.1 155.4 127.9 C155.4 129.8 154.3 131.3 154.0 133.2 C153.8 135.1 154.0 139.2 154.0 139.2 L104.6 139.2 L104.6 37.5Z" fill="#079607"/><path d="M139.9 96.9 C139.9 94.6 140.1 91.6 140.6 89.8 C141.1 88.0 141.7 86.7 142.7 86.3 C143.8 85.8 145.3 86.2 147.0 87.0 C148.6 87.8 150.8 89.8 152.6 91.2 C154.4 92.6 156.4 94.0 157.6 95.5 C158.7 96.9 159.7 98.2 159.7 99.7 C159.7 101.2 159.0 103.5 157.6 104.6 C156.1 105.8 153.4 106.4 151.2 106.8 C149.0 107.1 145.9 107.3 144.1 106.8 C142.4 106.2 141.3 104.9 140.6 103.2 C139.9 101.6 139.9 99.1 139.9 96.9Z" fill="#fffa2a"/><path d="M206.3 72.9 C206.6 71.4 207.9 69.6 209.1 68.6 C210.3 67.7 211.9 67.2 213.3 67.2 C214.8 67.2 216.3 67.7 217.6 68.6 C218.9 69.6 220.3 71.4 221.1 72.9 C221.9 74.3 222.9 75.7 222.5 77.1 C222.2 78.5 220.3 80.5 219.0 81.3 C217.7 82.2 216.2 82.3 214.8 82.0 C213.3 81.8 211.8 80.7 210.5 79.9 C209.2 79.1 207.7 78.3 207.0 77.1 C206.3 75.9 205.9 74.3 206.3 72.9Z" fill="#fffa2a"/><path d="M226.1 82.7 C226.4 81.7 227.7 80.4 228.9 79.9 C230.1 79.4 231.7 79.2 233.1 79.6 C234.5 80.1 235.9 81.6 237.4 82.7 C238.8 83.9 240.3 85.1 241.6 86.3 C242.9 87.5 245.1 89.0 245.1 89.8 C245.1 90.6 243.1 91.2 241.6 91.2 C240.1 91.2 237.8 90.3 235.9 89.8 C234.1 89.3 231.8 89.0 230.3 88.4 C228.8 87.8 227.5 87.2 226.8 86.3 C226.1 85.3 225.7 83.8 226.1 82.7Z" fill="#fffa2a"/><path d="M104.6 40.4 C104.6 40.4 109.5 41.0 111.6 41.8 C113.8 42.6 116.0 44.0 117.3 45.3 C118.6 46.6 119.7 48.0 119.4 49.6 C119.2 51.1 117.2 53.0 115.9 54.5 C114.6 56.0 113.3 57.2 111.6 58.7 C110.0 60.3 107.2 62.7 106.0 63.7 C104.8 64.6 104.6 64.4 104.6 64.4 L104.6 40.4Z" fill="#1c67d2"/><path d="M135.0 47.4 C133.1 48.7 130.6 51.2 128.6 53.1 C126.6 55.0 124.8 56.9 122.9 58.7 C121.1 60.6 119.2 62.6 117.3 64.4 C115.4 66.1 113.5 67.7 111.6 69.3 C109.8 71.0 107.2 73.2 106.0 74.3 C104.8 75.3 104.6 75.7 104.6 75.7 L104.6 112.4 C104.6 112.4 106.2 114.1 107.4 115.2 C108.6 116.4 110.2 118.1 111.6 119.5 C113.1 120.9 114.2 122.4 115.9 123.7 C117.5 125.0 119.7 126.4 121.5 127.2 C123.4 128.1 126.1 128.8 127.2 128.6 C128.2 128.5 128.4 127.6 127.9 126.5 C127.4 125.5 125.9 123.9 124.4 122.3 C122.8 120.6 120.4 118.5 118.7 116.6 C117.1 114.8 114.9 112.9 114.5 111.0 C114.0 109.1 114.9 107.0 115.9 105.3 C116.8 103.7 118.5 102.2 120.1 101.1 C121.8 100.0 124.1 99.0 125.8 99.0 C127.4 99.0 128.6 100.5 130.0 101.1 C131.4 101.7 133.3 102.8 134.2 102.5 C135.2 102.3 135.9 100.9 135.7 99.7 C135.4 98.5 134.0 97.1 132.8 95.5 C131.7 93.8 129.5 91.9 128.6 89.8 C127.7 87.7 127.2 84.9 127.2 82.7 C127.2 80.6 127.7 78.5 128.6 77.1 C129.5 75.7 131.2 74.7 132.8 74.3 C134.5 73.8 136.6 73.8 138.5 74.3 C140.4 74.7 142.5 75.9 144.1 77.1 C145.8 78.3 146.7 80.2 148.4 81.3 C150.0 82.5 152.8 84.2 154.0 84.2 C155.2 84.2 155.7 82.5 155.4 81.3 C155.2 80.2 153.6 78.7 152.6 77.1 C151.7 75.4 149.8 73.3 149.8 71.4 C149.8 69.6 151.4 67.4 152.6 65.8 C153.8 64.1 155.4 62.7 156.8 61.6 C158.3 60.4 159.7 59.0 161.1 58.7 C162.5 58.5 164.1 60.4 165.3 60.1 C166.5 59.9 167.2 58.7 168.1 57.3 C169.1 55.9 169.8 53.6 171.0 51.7 C172.1 49.8 174.0 47.7 175.2 46.0 C176.4 44.4 178.0 42.8 178.0 41.8 C178.0 40.7 176.6 39.9 175.2 39.7 C173.8 39.4 171.4 40.5 169.6 40.4 C167.7 40.3 165.4 38.4 163.9 39.0 C162.4 39.5 161.8 42.1 160.4 43.5 C159.0 44.9 157.2 46.4 155.4 47.4 C153.7 48.4 151.7 49.5 149.8 49.6 C147.9 49.6 145.8 48.4 144.1 47.7 C142.5 47.0 141.4 45.4 139.9 45.3 C138.4 45.3 136.8 46.1 135.0 47.4Z" fill="#1c67d2"/><path d="M168.1 66.5 C169.0 66.0 172.3 65.3 173.1 65.8 C173.9 66.3 173.7 68.5 173.1 69.3 C172.5 70.2 170.4 70.9 169.6 70.7 C168.7 70.6 168.1 69.3 167.9 68.6 C167.6 67.9 167.3 67.0 168.1 66.5Z" fill="#1c67d2"/><path d="M190.7 47.4 C191.2 45.9 194.0 44.7 196.4 43.9 C198.7 43.1 202.0 42.5 204.9 42.5 C207.7 42.5 210.5 43.4 213.3 43.9 C216.2 44.4 219.0 44.8 221.8 45.3 C224.6 45.8 227.5 46.4 230.3 46.7 C233.1 47.1 235.9 47.2 238.8 47.4 C241.6 47.7 247.2 48.1 247.2 48.1 L247.2 75.0 C247.2 75.0 242.5 73.7 240.2 72.9 C237.8 72.0 235.2 71.0 233.1 70.0 C231.0 69.1 229.4 68.3 227.5 67.2 C225.6 66.1 223.7 64.9 221.8 63.7 C219.9 62.5 218.1 61.1 216.2 60.1 C214.3 59.2 212.4 58.3 210.5 58.0 C208.6 57.8 206.5 58.3 204.9 58.7 C203.2 59.2 201.8 61.1 200.6 60.9 C199.5 60.6 199.0 58.6 197.8 57.3 C196.6 56.0 194.7 54.7 193.6 53.1 C192.4 51.4 190.3 49.0 190.7 47.4Z" fill="#1c67d2"/><path d="M209.1 88.4 C209.2 87.3 210.8 85.9 211.9 85.6 C213.1 85.2 215.0 85.6 216.2 86.3 C217.3 87.0 218.1 88.5 219.0 89.8 C219.9 91.1 221.2 93.0 221.8 94.0 C222.4 95.1 223.0 95.7 222.5 96.2 C222.1 96.6 220.3 97.2 219.0 96.9 C217.7 96.5 216.1 94.9 214.8 94.0 C213.5 93.2 212.2 92.9 211.2 91.9 C210.3 91.0 209.0 89.5 209.1 88.4Z" fill="#1c67d2"/><path d="M136.1 114.1 C136.4 113.4 138.3 113.3 138.8 113.8 C139.3 114.4 139.5 116.6 139.2 117.4 C138.9 118.1 137.6 118.6 137.1 118.1 C136.6 117.5 135.8 114.8 136.1 114.1Z" fill="#1c67d2"/><path d="M108.1 89.8 C108.5 87.9 109.2 84.9 110.2 82.7 C111.3 80.6 112.9 78.6 114.5 77.1 C116.0 75.6 118.4 73.8 119.4 73.6 C120.5 73.3 120.9 74.4 120.8 75.7 C120.7 77.0 119.5 79.5 118.7 81.3 C117.9 83.2 116.8 85.1 115.9 87.0 C114.9 88.9 114.1 91.1 113.1 92.6 C112.0 94.2 110.4 95.9 109.5 96.2 C108.7 96.4 108.4 95.1 108.1 94.0 C107.9 93.0 107.8 91.7 108.1 89.8Z" fill="#2e1fa8"/></g><clipPath id="c2_2"><rect x="239.0" y="0.0" width="122.0" height="128.0"/></clipPath><g clip-path="url(#c2_2)"><path d="M224.6 26.2 C224.6 26.2 231.4 26.1 234.5 25.5 C237.5 25.0 239.7 23.3 242.9 22.7 C246.2 22.1 251.2 22.2 254.2 22.0 C257.3 21.8 259.2 22.0 261.3 21.3 C263.4 20.6 265.1 18.1 267.0 17.8 C268.8 17.4 270.7 18.1 272.6 19.2 C274.5 20.2 276.4 22.2 278.3 24.1 C280.1 26.0 282.0 28.6 283.9 30.5 C285.8 32.4 287.4 33.9 289.6 35.4 C291.7 37.0 294.0 38.7 296.6 39.7 C299.2 40.6 302.3 41.1 305.1 41.1 C307.9 41.1 310.7 40.1 313.6 39.7 C316.4 39.2 319.2 38.7 322.0 38.3 C324.9 37.8 327.7 37.4 330.5 36.8 C333.3 36.3 336.4 35.5 339.0 34.7 C341.6 33.9 343.7 33.3 346.1 31.9 C348.4 30.5 351.0 27.5 353.1 26.2 C355.2 25.0 356.4 24.5 358.8 24.1 C361.1 23.8 367.2 24.1 367.2 24.1 L367.2 73.6 C367.2 73.6 356.6 73.7 353.1 73.6 C349.6 73.4 348.4 72.9 346.1 72.9 C343.7 72.9 341.6 73.2 339.0 73.6 C336.4 73.9 333.3 74.6 330.5 75.0 C327.7 75.3 324.9 75.4 322.0 75.7 C319.2 75.9 316.4 75.9 313.6 76.4 C310.7 76.9 307.5 77.4 305.1 78.5 C302.7 79.6 300.7 81.1 299.4 82.7 C298.2 84.4 297.8 86.3 297.3 88.4 C296.9 90.5 297.7 93.6 296.6 95.5 C295.6 97.3 292.9 98.3 291.0 99.7 C289.1 101.1 287.4 102.5 285.3 103.9 C283.2 105.3 280.1 106.8 278.3 108.2 C276.4 109.6 275.1 110.8 274.0 112.4 C273.0 114.1 271.9 115.9 271.9 118.1 C271.9 120.2 273.0 123.0 274.0 125.1 C275.1 127.2 277.2 128.4 278.3 130.8 C279.3 133.1 280.4 139.2 280.4 139.2 L224.6 139.2 L224.6 26.2Z" fill="#fffa2a"/><path d="M224.6 -3.4 L245.8 -3.4 C245.8 -3.4 244.4 -0.5 242.9 0.8 C241.5 2.1 239.4 3.3 237.3 4.4 C235.2 5.4 232.4 6.4 230.2 7.2 C228.1 8.0 224.6 9.3 224.6 9.3 L224.6 -3.4Z" fill="#fffa2a"/><path d="M224.6 118.1 C224.6 118.1 229.1 117.1 231.6 116.6 C234.2 116.2 237.8 114.9 240.1 115.2 C242.5 115.6 244.1 117.6 245.8 118.8 C247.4 119.9 248.6 121.0 250.0 122.3 C251.4 123.6 252.8 124.7 254.2 126.5 C255.7 128.3 257.8 131.1 258.5 133.2 C259.2 135.3 258.5 139.2 258.5 139.2 L224.6 139.2 L224.6 118.1Z" fill="#ffffff"/><path d="M224.6 38.3 C224.6 38.3 231.4 38.1 234.5 38.3 C237.5 38.4 239.7 39.0 242.9 39.0 C246.2 39.0 251.0 38.7 254.2 38.3 C257.5 37.8 259.9 36.4 262.7 36.1 C265.5 35.9 268.4 36.1 271.2 36.8 C274.0 37.5 276.8 39.1 279.7 40.4 C282.5 41.7 285.3 43.4 288.1 44.6 C291.0 45.8 293.8 46.7 296.6 47.4 C299.4 48.1 302.3 48.7 305.1 48.8 C307.9 49.0 310.7 48.6 313.6 48.1 C316.4 47.7 319.2 46.8 322.0 46.0 C324.9 45.2 327.7 44.0 330.5 43.2 C333.3 42.4 336.4 41.5 339.0 41.1 C341.6 40.6 343.9 40.7 346.1 40.4 C348.2 40.0 350.2 39.9 351.7 39.0 C353.2 38.0 354.1 35.8 355.2 34.7 C356.4 33.7 356.8 33.0 358.8 32.6 C360.8 32.3 367.2 32.6 367.2 32.6 L367.2 65.8 C367.2 65.8 359.2 65.8 355.9 66.1 C352.6 66.3 350.3 67.0 347.5 67.2 C344.6 67.4 341.8 67.3 339.0 67.2 C336.2 67.1 333.3 66.6 330.5 66.5 C327.7 66.4 324.9 66.1 322.0 66.5 C319.2 66.9 316.4 68.0 313.6 68.6 C310.7 69.2 307.9 69.3 305.1 70.0 C302.3 70.7 299.4 71.7 296.6 72.9 C293.8 74.0 290.7 75.7 288.1 77.1 C285.6 78.5 283.2 79.7 281.1 81.3 C279.0 83.0 277.3 85.6 275.4 87.0 C273.6 88.4 271.9 89.2 269.8 89.8 C267.7 90.4 264.5 89.8 262.7 90.5 C261.0 91.2 259.9 92.3 259.2 94.0 C258.5 95.8 259.3 99.5 258.5 101.1 C257.7 102.8 255.7 102.8 254.2 103.9 C252.8 105.1 251.7 107.0 250.0 108.2 C248.4 109.3 246.2 110.4 244.4 111.0 C242.5 111.6 240.6 111.9 238.7 111.7 C236.8 111.5 235.2 110.6 233.1 109.6 C230.9 108.5 227.4 106.3 226.0 105.3 C224.6 104.4 224.6 103.9 224.6 103.9 L224.6 38.3Z" fill="#079607"/><path d="M224.6 79.2 C224.6 79.2 228.4 79.3 230.2 79.9 C232.1 80.5 234.0 81.6 235.9 82.7 C237.8 83.9 240.0 85.7 241.5 87.0 C243.1 88.3 245.3 89.8 245.1 90.5 C244.8 91.2 242.1 91.3 240.1 91.2 C238.1 91.1 235.4 90.3 233.1 89.8 C230.7 89.3 227.4 88.6 226.0 88.4 C224.6 88.2 224.6 88.4 224.6 88.4 L224.6 79.2Z" fill="#fffa2a"/><path d="M224.6 46.0 C224.6 46.0 233.3 47.1 237.3 47.4 C241.3 47.8 245.1 48.4 248.6 48.1 C252.1 47.9 255.4 46.6 258.5 46.0 C261.5 45.4 264.1 44.5 267.0 44.6 C269.8 44.7 272.6 45.9 275.4 46.7 C278.3 47.6 281.1 48.6 283.9 49.6 C286.7 50.5 289.6 51.4 292.4 52.4 C295.2 53.3 298.5 54.4 300.9 55.2 C303.2 56.0 304.4 57.4 306.5 57.3 C308.6 57.2 311.0 55.7 313.6 54.5 C316.2 53.3 319.2 51.4 322.0 50.3 C324.9 49.1 327.7 48.1 330.5 47.4 C333.3 46.7 336.2 46.3 339.0 46.0 C341.8 45.7 345.1 45.5 347.5 45.7 C349.8 46.0 351.2 46.7 353.1 47.4 C355.0 48.2 356.4 49.7 358.8 50.3 C361.1 50.8 367.2 51.0 367.2 51.0 L367.2 60.1 C367.2 60.1 360.2 60.5 357.4 60.9 C354.5 61.2 352.6 62.0 350.3 62.3 C347.9 62.5 345.6 62.4 343.2 62.3 C340.9 62.1 338.8 61.9 336.2 61.6 C333.6 61.2 330.5 60.3 327.7 60.1 C324.9 60.0 322.0 60.5 319.2 60.9 C316.4 61.2 313.1 61.9 310.7 62.3 C308.4 62.6 307.0 62.3 305.1 63.0 C303.2 63.7 301.8 65.3 299.4 66.5 C297.1 67.7 293.8 69.0 291.0 70.0 C288.1 71.1 285.3 71.8 282.5 72.9 C279.7 73.9 276.6 75.4 274.0 76.4 C271.4 77.3 269.3 78.2 267.0 78.5 C264.6 78.8 262.5 78.6 259.9 78.2 C257.3 77.9 254.2 76.9 251.4 76.4 C248.6 75.8 245.8 75.8 242.9 75.0 C240.1 74.2 237.3 72.5 234.5 71.4 C231.6 70.4 227.6 69.2 226.0 68.6 C224.4 68.0 224.6 67.9 224.6 67.9 L224.6 46.0Z" fill="#1c67d2"/><path d="M341.1 54.5 C341.2 54.0 343.2 53.2 343.9 53.4 C344.7 53.5 345.9 54.7 345.8 55.2 C345.7 55.7 344.0 56.3 343.2 56.2 C342.5 56.1 341.0 55.0 341.1 54.5Z" fill="#2e1fa8"/></g><clipPath id="c2_3"><rect x="0.0" y="128.0" width="113.0" height="127.0"/></clipPath><g clip-path="url(#c2_3)"><path d="M87.1 121.6 C87.1 121.6 89.3 127.0 90.6 130.1 C91.9 133.1 93.5 136.7 94.9 139.9 C96.3 143.2 97.7 147.0 99.1 149.8 C100.5 152.7 101.5 154.8 103.3 156.9 C105.2 159.0 108.1 160.9 110.4 162.5 C112.8 164.2 115.4 165.3 117.5 166.8 C119.6 168.3 121.5 171.3 123.1 171.7 C124.8 172.2 125.9 169.0 127.4 169.6 C128.8 170.2 129.9 173.6 131.6 175.3 C133.2 176.9 137.2 179.5 137.2 179.5 L137.2 121.6 L87.1 121.6Z" fill="#fffa2a"/><path d="M90.6 121.6 C90.6 121.6 92.9 128.2 94.2 131.5 C95.5 134.8 97.0 138.3 98.4 141.4 C99.8 144.4 100.9 147.5 102.6 149.8 C104.4 152.2 106.8 153.8 109.0 155.5 C111.2 157.1 113.7 158.2 116.1 159.7 C118.4 161.3 121.0 163.3 123.1 164.7 C125.2 166.1 126.4 166.9 128.8 168.2 C131.1 169.5 137.2 172.4 137.2 172.4 L137.2 154.8 C137.2 154.8 133.5 152.4 131.6 151.2 C129.7 150.1 128.1 148.8 125.9 147.7 C123.8 146.7 121.0 146.0 118.9 144.9 C116.8 143.8 114.9 142.9 113.2 141.4 C111.6 139.8 110.1 137.8 109.0 135.7 C107.9 133.6 107.6 131.0 106.9 128.6 C106.2 126.3 104.8 121.6 104.8 121.6 L90.6 121.6Z" fill="#079607"/><path d="M111.8 121.6 C111.8 121.6 114.4 125.6 116.1 127.2 C117.7 128.9 119.6 130.4 121.7 131.5 C123.8 132.5 126.2 133.6 128.8 133.6 C131.4 133.6 137.2 131.5 137.2 131.5 L137.2 121.6 L111.8 121.6Z" fill="#079607"/><path d="M93.5 121.6 C93.5 121.6 95.7 128.2 97.0 131.5 C98.3 134.8 99.8 138.5 101.2 141.4 C102.6 144.2 103.7 146.5 105.5 148.4 C107.2 150.3 109.6 151.2 111.8 152.7 C114.1 154.1 116.5 155.5 118.9 156.9 C121.2 158.3 123.8 159.7 125.9 161.1 C128.1 162.5 129.7 164.3 131.6 165.4 C133.5 166.4 137.2 167.5 137.2 167.5 L137.2 158.3 C137.2 158.3 133.5 156.1 131.6 154.8 C129.7 153.5 128.1 151.7 125.9 150.5 C123.8 149.4 121.2 148.8 118.9 147.7 C116.5 146.7 113.8 145.7 111.8 144.2 C109.8 142.7 108.2 140.9 106.9 138.5 C105.6 136.2 104.9 132.9 104.1 130.1 C103.2 127.2 101.9 121.6 101.9 121.6 L93.5 121.6Z" fill="#1c67d2"/><path d="M118.9 121.6 C118.9 121.6 121.5 124.6 123.1 125.8 C124.8 127.0 127.4 128.6 128.8 128.6 C130.2 128.6 131.6 127.0 131.6 125.8 C131.6 124.6 128.8 121.6 128.8 121.6 L118.9 121.6Z" fill="#1c67d2"/></g><clipPath id="c2_4"><rect x="113.0" y="128.0" width="126.0" height="127.0"/></clipPath><g clip-path="url(#c2_4)"><path d="M104.6 121.6 L247.2 121.6 L247.2 264.2 L104.6 264.2Z" fill="#fffa2a"/><path d="M104.6 159.7 C104.6 159.7 109.1 162.3 111.6 164.0 C114.2 165.6 118.0 168.3 120.1 169.6 C122.2 170.9 123.2 171.7 124.4 171.7 C125.5 171.7 126.2 169.0 127.2 169.6 C128.1 170.2 129.0 172.9 130.0 175.3 C131.1 177.6 132.7 181.1 133.5 183.7 C134.4 186.3 134.6 188.4 135.0 190.8 C135.3 193.2 135.7 195.5 135.7 197.9 C135.7 200.2 135.3 202.3 135.0 204.9 C134.6 207.5 133.8 210.6 133.5 213.4 C133.3 216.2 133.2 219.3 133.5 221.9 C133.9 224.5 134.7 226.8 135.7 228.9 C136.6 231.1 138.5 232.7 139.2 234.6 C139.9 236.5 139.3 238.3 139.9 240.2 C140.5 242.1 141.3 244.2 142.7 245.9 C144.1 247.5 146.3 249.1 148.4 250.1 C150.5 251.2 153.1 251.8 155.4 252.2 C157.8 252.7 160.4 252.6 162.5 252.9 C164.6 253.3 166.7 253.5 168.1 254.4 C169.6 255.2 170.5 256.5 171.0 258.2 C171.4 259.8 171.0 264.2 171.0 264.2 L104.6 264.2 L104.6 159.7Z" fill="#ffffff"/><path d="M185.1 121.6 C185.1 121.6 185.6 124.6 186.5 125.8 C187.5 127.0 189.6 127.5 190.7 128.6 C191.9 129.8 192.7 131.2 193.6 132.9 C194.4 134.5 195.3 136.4 195.7 138.5 C196.0 140.7 195.9 143.2 195.7 145.6 C195.5 148.0 194.3 150.5 194.3 152.7 C194.2 154.8 194.7 157.6 195.3 158.3 C195.9 159.0 196.9 157.7 197.8 156.9 C198.7 156.1 199.7 154.8 200.6 153.4 C201.6 152.0 202.3 149.6 203.5 148.4 C204.6 147.2 205.8 147.0 207.7 146.3 C209.6 145.6 213.0 145.2 214.8 144.2 C216.5 143.1 217.3 141.1 218.3 139.9 C219.2 138.8 219.3 137.5 220.4 137.1 C221.5 136.8 223.5 136.9 224.6 137.8 C225.8 138.8 226.9 140.9 227.5 142.8 C228.1 144.7 227.5 147.7 228.2 149.1 C228.9 150.5 230.4 150.2 231.7 151.2 C233.0 152.3 234.8 153.8 235.9 155.5 C237.1 157.1 238.2 158.8 238.8 161.1 C239.4 163.5 239.5 167.0 239.5 169.6 C239.5 172.2 239.1 174.3 238.8 176.7 C238.4 179.0 238.1 181.6 237.4 183.7 C236.6 185.9 235.7 187.7 234.5 189.4 C233.4 191.0 231.7 192.4 230.3 193.6 C228.9 194.8 227.5 195.4 226.1 196.4 C224.6 197.5 223.2 198.8 221.8 200.0 C220.4 201.2 219.0 202.2 217.6 203.5 C216.2 204.8 214.4 206.1 213.3 207.7 C212.3 209.4 211.2 211.7 211.2 213.4 C211.2 215.0 212.0 217.4 213.3 217.6 C214.6 217.9 216.9 215.3 219.0 214.8 C221.1 214.3 223.7 215.0 226.1 214.8 C228.4 214.6 231.0 213.6 233.1 213.4 C235.2 213.2 237.1 212.9 238.8 213.4 C240.4 213.9 242.1 214.8 243.0 216.2 C243.9 217.6 243.7 220.5 244.4 221.9 C245.1 223.3 247.2 224.7 247.2 224.7 L247.2 121.6 L185.1 121.6Z" fill="#ffffff"/><path d="M170.3 163.3 C171.1 161.8 172.6 159.3 173.8 158.3 C175.0 157.4 176.2 157.0 177.3 157.6 C178.5 158.2 179.8 160.5 180.9 161.8 C181.9 163.1 183.3 164.1 183.7 165.4 C184.0 166.7 183.7 168.4 183.0 169.6 C182.3 170.8 180.5 171.5 179.4 172.4 C178.4 173.4 177.6 174.3 176.6 175.3 C175.7 176.2 174.9 177.8 173.8 178.1 C172.7 178.3 171.2 177.6 170.3 176.7 C169.3 175.7 168.4 174.1 168.1 172.4 C167.9 170.8 168.5 168.3 168.9 166.8 C169.2 165.3 169.4 164.7 170.3 163.3Z" fill="#ffffff"/><path d="M156.1 185.1 C155.9 183.5 156.5 181.9 157.6 180.9 C158.6 179.9 160.7 179.3 162.5 179.2 C164.3 179.1 167.0 179.2 168.1 180.2 C169.3 181.2 169.6 183.5 169.6 185.1 C169.6 186.8 169.1 188.9 168.1 190.1 C167.2 191.3 165.4 192.1 163.9 192.2 C162.4 192.3 160.3 192.0 159.0 190.8 C157.7 189.6 156.4 186.8 156.1 185.1Z" fill="#ffffff"/><path d="M137.8 151.2 C137.9 150.8 138.8 150.4 139.2 150.5 C139.6 150.7 140.3 151.6 140.2 152.0 C140.1 152.4 139.2 153.1 138.8 152.9 C138.4 152.8 137.7 151.6 137.8 151.2Z" fill="#ffffff"/><path d="M230.3 233.2 C230.6 231.9 231.7 230.0 233.1 228.9 C234.5 227.9 237.1 226.8 238.8 226.8 C240.4 226.8 242.1 227.6 243.0 228.9 C243.9 230.2 244.4 232.7 244.1 234.6 C243.9 236.5 242.7 238.9 241.6 240.2 C240.5 241.5 238.8 242.4 237.4 242.4 C235.9 242.4 234.2 241.2 233.1 240.2 C232.1 239.3 231.5 237.9 231.0 236.7 C230.5 235.5 229.9 234.5 230.3 233.2Z" fill="#ffffff"/><path d="M113.1 121.6 C113.1 121.6 114.5 125.6 115.9 127.2 C117.3 128.9 119.4 130.2 121.5 131.5 C123.7 132.8 126.5 134.2 128.6 135.0 C130.7 135.8 132.4 135.8 134.2 136.4 C136.1 137.0 138.5 137.5 139.9 138.5 C141.3 139.6 141.5 141.2 142.7 142.8 C143.9 144.3 145.5 146.4 147.0 147.7 C148.4 149.0 149.9 150.3 151.2 150.5 C152.5 150.8 153.9 150.2 154.7 149.1 C155.6 148.1 155.8 146.2 156.1 144.2 C156.5 142.2 156.8 139.5 156.8 137.1 C156.8 134.8 156.4 132.2 156.1 130.1 C155.9 127.9 155.8 125.8 155.4 124.4 C155.1 123.0 154.0 121.6 154.0 121.6 L113.1 121.6Z" fill="#079607"/><path d="M104.6 128.6 C104.6 128.6 108.4 135.0 110.2 137.1 C112.1 139.2 113.8 140.2 115.9 141.4 C118.0 142.5 120.8 143.2 122.9 144.2 C125.1 145.1 126.7 145.6 128.6 147.0 C130.5 148.4 132.4 150.8 134.2 152.7 C136.1 154.5 138.1 156.2 139.9 158.3 C141.7 160.4 143.5 163.0 144.8 165.4 C146.1 167.7 147.1 170.1 147.7 172.4 C148.3 174.8 148.3 177.1 148.4 179.5 C148.5 181.9 148.3 184.2 148.4 186.6 C148.5 188.9 149.1 191.0 149.1 193.6 C149.1 196.2 148.6 199.3 148.4 202.1 C148.1 204.9 147.9 208.0 147.7 210.6 C147.4 213.2 147.5 215.7 147.0 217.6 C146.4 219.5 145.2 221.2 144.1 221.9 C143.1 222.6 141.5 222.6 140.6 221.9 C139.7 221.2 138.9 219.5 138.5 217.6 C138.1 215.7 138.2 213.2 138.2 210.6 C138.3 208.0 138.6 204.9 138.8 202.1 C138.9 199.3 139.1 196.2 139.2 193.6 C139.3 191.0 139.7 188.9 139.6 186.6 C139.5 184.2 139.1 181.6 138.5 179.5 C137.8 177.4 136.8 175.5 135.7 173.8 C134.5 172.2 133.1 171.0 131.4 169.6 C129.8 168.2 127.7 166.8 125.8 165.4 C123.9 164.0 122.0 162.3 120.1 161.1 C118.2 160.0 116.4 159.4 114.5 158.3 C112.6 157.3 110.5 156.0 108.8 154.8 C107.2 153.6 104.6 151.2 104.6 151.2 L104.6 128.6Z" fill="#079607"/><path d="M204.2 161.1 C204.4 159.5 204.8 157.1 205.6 155.5 C206.4 153.8 207.6 152.3 209.1 151.2 C210.6 150.2 213.1 149.6 214.8 149.1 C216.4 148.7 217.9 148.1 219.0 148.4 C220.1 148.8 220.9 149.8 221.1 151.2 C221.3 152.7 220.8 155.0 220.4 156.9 C220.1 158.8 219.0 160.9 219.0 162.5 C219.0 164.2 219.5 166.2 220.4 166.8 C221.3 167.4 223.2 165.8 224.6 166.1 C226.1 166.3 227.8 166.9 228.9 168.2 C229.9 169.5 230.5 171.7 231.0 173.8 C231.5 176.0 231.8 178.6 231.7 180.9 C231.6 183.3 231.2 186.0 230.3 188.0 C229.4 190.0 227.5 191.5 226.1 192.9 C224.6 194.3 223.2 195.7 221.8 196.4 C220.4 197.2 218.9 197.6 217.6 197.2 C216.3 196.7 215.1 195.2 214.1 193.6 C213.0 192.1 211.9 189.9 211.2 188.0 C210.5 186.1 210.3 184.2 209.8 182.3 C209.3 180.4 209.1 178.6 208.4 176.7 C207.7 174.8 206.3 172.9 205.6 171.0 C204.9 169.1 204.4 167.0 204.2 165.4 C203.9 163.7 203.9 162.8 204.2 161.1Z" fill="#079607"/><path d="M192.4 171.0 C192.6 169.4 193.5 168.7 194.3 168.9 C195.1 169.1 196.4 170.9 197.1 172.4 C197.8 174.0 198.6 176.6 198.5 178.1 C198.4 179.6 197.2 181.5 196.4 181.6 C195.6 181.7 194.2 180.6 193.6 178.8 C192.9 177.0 192.3 172.7 192.4 171.0Z" fill="#079607"/><path d="M175.9 190.8 C176.2 189.9 178.2 188.3 179.4 188.3 C180.7 188.3 182.9 189.9 183.4 190.8 C183.9 191.7 183.2 193.2 182.3 193.6 C181.4 194.1 179.1 194.1 178.0 193.6 C177.0 193.2 175.7 191.7 175.9 190.8Z" fill="#079607"/><path d="M145.5 233.2 C145.7 231.3 147.2 229.4 148.4 227.5 C149.5 225.6 151.4 223.8 152.6 221.9 C153.8 220.0 154.0 217.9 155.4 216.2 C156.8 214.6 159.0 213.2 161.1 212.0 C163.2 210.8 166.0 209.9 168.1 209.2 C170.3 208.5 171.9 208.2 173.8 207.7 C175.7 207.3 177.6 206.6 179.4 206.3 C181.3 206.1 183.4 206.1 185.1 206.3 C186.7 206.6 187.9 208.2 189.3 207.7 C190.7 207.3 191.9 204.9 193.6 203.5 C195.2 202.1 197.3 200.2 199.2 199.3 C201.1 198.3 203.3 197.4 204.9 197.9 C206.4 198.3 207.6 200.2 208.4 202.1 C209.2 204.0 209.6 206.6 209.8 209.2 C210.0 211.7 210.0 215.0 209.8 217.6 C209.6 220.2 209.1 222.3 208.4 224.7 C207.7 227.0 206.6 229.6 205.6 231.8 C204.5 233.9 203.3 235.8 202.0 237.4 C200.8 239.1 199.2 240.7 197.8 241.6 C196.4 242.6 195.2 243.3 193.6 243.1 C191.9 242.8 189.8 241.2 187.9 240.2 C186.0 239.3 184.2 238.1 182.3 237.4 C180.4 236.7 178.3 236.0 176.6 236.0 C175.0 236.0 174.0 236.7 172.4 237.4 C170.7 238.1 168.9 239.5 166.7 240.2 C164.6 240.9 162.0 241.4 159.7 241.6 C157.3 241.9 154.6 242.1 152.6 241.6 C150.6 241.2 148.8 240.2 147.7 238.8 C146.5 237.4 145.4 235.1 145.5 233.2Z" fill="#079607"/><path d="M204.2 247.3 C204.5 246.1 207.3 244.7 209.1 243.8 C210.9 242.8 213.1 241.8 214.8 241.6 C216.4 241.5 217.6 242.1 219.0 243.1 C220.4 244.0 221.6 245.6 223.2 247.3 C224.9 248.9 227.0 251.1 228.9 252.9 C230.8 254.8 233.6 256.3 234.5 258.2 C235.5 260.1 234.5 264.2 234.5 264.2 L213.3 264.2 C213.3 264.2 211.6 258.0 210.5 255.8 C209.5 253.5 208.0 252.2 207.0 250.8 C205.9 249.4 203.8 248.5 204.2 247.3Z" fill="#079607"/><path d="M117.3 121.6 C117.3 121.6 118.8 124.3 120.1 125.1 C121.4 125.9 123.8 126.6 125.1 126.5 C126.4 126.4 127.5 125.2 127.9 124.4 C128.2 123.6 127.2 121.6 127.2 121.6 L117.3 121.6Z" fill="#1c67d2"/><path d="M148.1 132.6 L149.8 132.6 L149.8 134.0 L148.1 134.0Z" fill="#1c67d2"/><path d="M104.6 134.3 C104.6 134.3 108.4 139.6 110.2 141.4 C112.1 143.1 113.8 143.8 115.9 144.9 C118.0 146.0 120.9 146.7 122.9 147.7 C125.0 148.8 126.4 149.7 127.9 151.2 C129.4 152.8 130.7 155.0 132.1 156.9 C133.5 158.8 135.2 160.9 136.4 162.5 C137.5 164.2 139.0 165.8 139.2 166.8 C139.4 167.7 138.8 168.4 137.8 168.2 C136.7 168.0 134.6 166.4 132.8 165.4 C131.1 164.3 129.1 163.0 127.2 161.8 C125.3 160.7 123.4 159.5 121.5 158.3 C119.7 157.1 117.8 156.1 115.9 154.8 C114.0 153.5 112.1 152.1 110.2 150.5 C108.4 149.0 104.6 145.6 104.6 145.6 L104.6 134.3Z" fill="#1c67d2"/><path d="M142.0 193.6 C142.2 191.9 142.7 191.1 143.4 190.8 C144.1 190.4 145.6 190.6 146.3 191.5 C146.9 192.4 147.4 194.9 147.2 196.4 C147.1 198.0 146.3 199.9 145.5 200.7 C144.7 201.5 143.0 202.6 142.4 201.4 C141.9 200.2 141.9 195.4 142.0 193.6Z" fill="#1c67d2"/><path d="M142.0 210.6 L143.0 210.3 L143.0 215.5 L142.0 215.5Z" fill="#1c67d2"/><path d="M207.7 159.7 C208.2 158.1 208.8 156.3 209.8 155.5 C210.9 154.7 212.9 154.5 214.1 154.8 C215.2 155.0 216.5 155.6 216.9 156.9 C217.2 158.2 216.4 160.7 216.2 162.5 C215.9 164.4 215.0 166.8 215.5 168.2 C215.9 169.6 217.7 170.1 219.0 171.0 C220.3 172.0 221.9 172.6 223.2 173.8 C224.5 175.1 225.9 176.9 226.8 178.8 C227.6 180.7 228.3 183.3 228.2 185.1 C228.1 187.0 227.1 188.7 226.1 190.1 C225.0 191.5 223.1 193.3 221.8 193.6 C220.5 194.0 219.3 193.4 218.3 192.2 C217.2 191.0 216.3 188.4 215.5 186.6 C214.6 184.7 214.1 182.8 213.3 180.9 C212.6 179.0 212.0 176.9 211.2 175.3 C210.4 173.6 209.1 172.7 208.4 171.0 C207.7 169.4 207.1 167.3 207.0 165.4 C206.9 163.5 207.2 161.4 207.7 159.7Z" fill="#1c67d2"/><path d="M168.1 220.5 C167.9 219.0 169.1 217.8 170.3 216.9 C171.4 216.1 173.7 215.5 175.2 215.5 C176.7 215.5 178.4 216.1 179.4 216.9 C180.5 217.8 181.3 219.2 181.6 220.5 C181.8 221.8 181.7 223.6 180.9 224.7 C180.0 225.8 178.2 226.7 176.6 226.8 C175.1 226.9 173.1 226.5 171.7 225.4 C170.3 224.3 168.4 221.9 168.1 220.5Z" fill="#1c67d2"/><path d="M192.9 210.6 C193.2 208.9 194.4 207.5 195.7 206.3 C197.0 205.2 199.1 203.9 200.6 203.5 C202.2 203.2 203.8 203.3 204.9 204.2 C205.9 205.2 206.6 207.2 207.0 209.2 C207.3 211.2 207.1 214.1 207.0 216.2 C206.9 218.3 206.9 219.9 206.3 221.9 C205.7 223.9 204.6 227.5 203.5 228.2 C202.3 228.9 200.5 227.2 199.2 226.1 C197.9 225.0 196.6 223.5 195.7 221.9 C194.7 220.2 194.0 218.1 193.6 216.2 C193.1 214.3 192.5 212.2 192.9 210.6Z" fill="#1c67d2"/></g><clipPath id="c2_5"><rect x="239.0" y="128.0" width="122.0" height="127.0"/></clipPath><g clip-path="url(#c2_5)"><path d="M247.2 142.1 C247.5 140.8 249.5 139.6 250.7 139.2 C251.9 138.9 253.2 140.4 254.2 139.9 C255.3 139.5 256.1 138.1 257.1 136.4 C258.0 134.8 259.0 132.5 259.9 130.1 C260.8 127.6 262.7 121.6 262.7 121.6 L274.0 121.6 C274.0 121.6 277.2 125.1 278.3 127.2 C279.3 129.4 280.0 131.7 280.4 134.3 C280.7 136.9 280.7 140.2 280.4 142.8 C280.0 145.4 279.1 147.5 278.3 149.8 C277.4 152.2 276.6 154.7 275.4 156.9 C274.3 159.1 272.8 162.0 271.2 163.3 C269.5 164.5 267.4 164.8 265.5 164.7 C263.7 164.5 261.8 163.8 259.9 162.5 C258.0 161.3 255.9 158.8 254.2 156.9 C252.6 155.0 251.0 152.9 250.0 151.2 C249.1 149.6 249.1 148.5 248.6 147.0 C248.1 145.5 246.8 143.4 247.2 142.1Z" fill="#fffa2a"/><path d="M259.9 173.1 C260.3 171.7 261.3 169.7 262.7 168.9 C264.1 168.1 266.5 168.6 268.4 168.2 C270.3 167.8 272.1 167.4 274.0 166.8 C275.9 166.1 277.8 164.6 279.7 164.2 C281.6 163.9 283.8 164.0 285.3 164.7 C286.9 165.3 288.0 166.4 288.9 168.2 C289.7 170.0 289.7 173.4 290.3 175.3 C290.9 177.1 291.1 178.4 292.4 179.5 C293.7 180.6 296.8 180.7 298.0 181.6 C299.3 182.6 299.7 183.9 299.7 185.1 C299.7 186.4 299.0 188.4 298.0 189.4 C297.0 190.3 295.4 190.8 293.8 190.8 C292.1 190.8 290.3 189.7 288.1 189.4 C286.0 189.0 283.4 188.8 281.1 188.7 C278.7 188.6 276.1 189.3 274.0 188.7 C271.9 188.1 270.1 186.4 268.4 185.1 C266.6 183.9 264.7 182.2 263.4 180.9 C262.1 179.6 261.2 178.7 260.6 177.4 C260.0 176.1 259.5 174.6 259.9 173.1Z" fill="#fffa2a"/><path d="M311.5 220.5 C311.6 219.4 312.0 217.6 312.9 216.9 C313.7 216.2 315.4 215.7 316.4 216.2 C317.4 216.7 318.7 218.3 318.9 219.8 C319.2 221.2 318.6 223.7 317.8 224.7 C317.0 225.7 315.3 226.0 314.3 225.8 C313.3 225.6 312.3 224.5 311.9 223.6 C311.4 222.7 311.3 221.6 311.5 220.5Z" fill="#fffa2a"/><path d="M302.3 226.8 C302.3 225.9 302.9 224.9 303.7 224.4 C304.5 223.9 306.3 223.6 307.2 224.0 C308.1 224.4 309.1 225.9 309.1 226.8 C309.1 227.8 308.1 229.2 307.2 229.6 C306.3 230.1 304.5 230.1 303.7 229.6 C302.9 229.2 302.3 227.7 302.3 226.8Z" fill="#fffa2a"/><path d="M224.6 216.2 C224.6 216.2 229.3 215.3 231.6 214.8 C234.0 214.3 236.9 213.1 238.7 213.1 C240.5 213.1 241.3 213.6 242.2 214.8 C243.2 216.0 243.5 218.8 244.4 220.5 C245.2 222.1 245.8 223.4 247.2 224.7 C248.6 226.0 251.1 227.0 252.8 228.2 C254.6 229.4 256.6 230.5 257.8 231.8 C259.0 233.1 258.8 234.3 259.9 236.0 C261.0 237.6 262.5 240.1 264.1 241.6 C265.8 243.2 267.9 244.2 269.8 245.2 C271.7 246.1 273.3 246.8 275.4 247.3 C277.6 247.8 280.1 247.5 282.5 248.0 C284.9 248.5 287.4 249.3 289.6 250.1 C291.7 250.9 293.8 251.6 295.2 252.9 C296.6 254.3 297.6 256.3 298.0 258.2 C298.5 260.1 298.0 264.2 298.0 264.2 L224.6 264.2 L224.6 216.2Z" fill="#fffa2a"/><path d="M307.9 258.2 C308.2 256.5 308.6 255.2 309.3 254.4 C310.0 253.5 311.2 252.8 312.2 252.9 C313.1 253.1 314.2 254.2 315.0 255.1 C315.8 255.9 316.7 256.6 317.1 258.2 C317.5 259.7 317.1 264.2 317.1 264.2 L307.9 264.2 C307.9 264.2 307.7 259.8 307.9 258.2Z" fill="#fffa2a"/><path d="M230.2 233.2 C230.4 231.8 231.2 230.1 232.4 228.9 C233.5 227.8 235.7 226.6 237.3 226.4 C238.9 226.2 240.6 226.7 242.2 227.5 C243.9 228.3 246.1 229.8 247.2 231.1 C248.2 232.3 248.8 233.8 248.6 235.3 C248.4 236.8 247.2 238.9 245.8 240.2 C244.4 241.5 241.9 242.9 240.1 243.1 C238.4 243.2 236.6 241.9 235.2 240.9 C233.8 240.0 232.5 238.7 231.6 237.4 C230.8 236.1 230.1 234.6 230.2 233.2Z" fill="#ffffff"/><path d="M224.6 250.1 C224.6 250.1 227.4 251.2 228.8 252.2 C230.2 253.3 232.1 255.5 233.1 256.5 C234.0 257.5 234.2 256.9 234.5 258.2 C234.7 259.5 234.5 264.2 234.5 264.2 L224.6 264.2 L224.6 250.1Z" fill="#079607"/></g><clipPath id="c2_6"><rect x="0.0" y="255.0" width="113.0" height="134.0"/></clipPath><g clip-path="url(#c2_6)"><path d="M-5.4 260.8 C-5.4 260.8 0.5 260.9 3.1 261.5 C5.7 262.1 7.3 263.6 10.1 264.3 C12.9 265.0 16.5 265.0 20.0 265.4 C23.5 265.9 27.8 266.6 31.3 267.1 C34.8 267.6 37.7 268.3 41.2 268.5 C44.7 268.8 48.7 268.8 52.5 268.8 C56.3 268.8 60.3 268.5 63.8 268.5 C67.3 268.6 71.3 268.3 73.7 269.2 C76.0 270.2 76.7 272.2 77.9 274.2 C79.1 276.2 80.0 278.7 80.7 281.2 C81.5 283.8 82.2 286.9 82.2 289.7 C82.2 292.5 81.7 296.0 80.7 298.2 C79.8 300.4 78.2 301.8 76.5 303.1 C74.9 304.4 73.2 305.4 70.9 306.0 C68.5 306.6 65.4 306.2 62.4 306.7 C59.3 307.1 55.6 308.2 52.5 308.8 C49.4 309.4 46.6 309.9 44.0 310.2 C41.4 310.5 39.3 311.0 37.0 310.6 C34.6 310.3 32.0 308.9 29.9 308.1 C27.8 307.3 26.4 306.1 24.2 306.0 C22.1 305.8 19.5 307.1 17.2 307.4 C14.8 307.6 12.0 308.0 10.1 307.4 C8.2 306.8 7.1 305.0 5.9 303.8 C4.7 302.7 4.9 301.0 3.1 300.3 C1.2 299.6 -5.4 299.6 -5.4 299.6 L-5.4 260.8Z" fill="#fffa2a"/><path d="M106.2 274.2 C106.3 271.8 106.6 269.1 107.6 267.1 C108.5 265.1 110.2 263.2 111.8 262.2 C113.5 261.1 115.7 260.7 117.5 260.8 C119.2 260.9 121.2 261.6 122.4 262.9 C123.6 264.2 124.2 266.2 124.5 268.5 C124.9 270.9 124.8 274.2 124.5 277.0 C124.3 279.8 123.5 282.4 123.1 285.5 C122.8 288.5 122.6 292.1 122.4 295.4 C122.2 298.7 121.9 302.0 121.7 305.3 C121.5 308.6 121.2 312.1 121.0 315.1 C120.8 318.2 120.4 320.8 120.3 323.6 C120.2 326.4 119.9 329.3 120.3 332.1 C120.6 334.9 121.5 338.2 122.4 340.6 C123.4 342.9 124.4 344.3 125.9 346.2 C127.5 348.1 129.7 350.2 131.6 351.9 C133.5 353.5 137.2 356.1 137.2 356.1 L137.2 367.4 C137.2 367.4 132.5 368.1 130.2 368.1 C127.8 368.1 125.5 368.1 123.1 367.4 C120.8 366.7 118.4 365.3 116.1 363.9 C113.7 362.5 111.1 360.7 109.0 358.9 C106.9 357.2 104.9 355.4 103.3 353.3 C101.8 351.2 100.6 348.8 99.8 346.2 C99.0 343.6 98.5 340.6 98.4 337.7 C98.3 334.9 98.6 332.1 99.1 329.3 C99.6 326.4 100.4 323.6 101.2 320.8 C102.0 318.0 103.0 315.1 104.1 312.3 C105.1 309.5 106.5 306.4 107.6 303.8 C108.6 301.3 109.7 299.0 110.4 296.8 C111.1 294.5 112.1 292.1 111.8 290.4 C111.6 288.8 109.8 288.4 109.0 286.9 C108.2 285.4 107.3 283.4 106.9 281.2 C106.4 279.1 106.1 276.5 106.2 274.2Z" fill="#fffa2a"/><path d="M49.0 379.4 C49.3 378.5 51.2 377.3 52.5 376.6 C53.8 375.9 55.4 375.1 56.7 375.2 C58.0 375.3 59.4 376.5 60.3 377.3 C61.1 378.1 61.9 379.1 61.7 380.1 C61.4 381.1 60.1 382.6 58.9 383.2 C57.6 383.8 55.3 383.9 53.9 383.6 C52.5 383.4 51.2 382.5 50.4 381.8 C49.6 381.1 48.6 380.3 49.0 379.4Z" fill="#fffa2a"/><path d="M23.1 282.7 C23.2 281.4 23.6 279.4 25.0 278.4 C26.3 277.5 28.6 277.2 31.3 277.0 C34.0 276.8 37.9 276.8 41.2 277.0 C44.5 277.2 48.3 277.7 51.1 278.1 C53.9 278.6 56.5 279.0 58.1 279.8 C59.8 280.7 60.6 282.0 61.0 283.4 C61.3 284.8 61.2 286.8 60.3 288.3 C59.3 289.8 57.3 291.3 55.3 292.5 C53.3 293.8 50.6 295.1 48.3 296.1 C45.9 297.1 43.3 298.1 41.2 298.5 C39.1 298.8 37.2 298.8 35.5 298.2 C33.9 297.6 32.7 296.1 31.3 294.7 C29.9 293.3 28.3 291.1 27.1 289.7 C25.9 288.3 24.9 287.4 24.2 286.2 C23.6 285.0 23.0 284.0 23.1 282.7Z" fill="#079607"/><path d="M114.6 274.2 C114.5 273.2 115.5 271.5 116.1 271.4 C116.6 271.2 118.1 272.5 118.2 273.5 C118.3 274.4 117.4 276.9 116.8 277.0 C116.2 277.1 114.8 275.1 114.6 274.2Z" fill="#079607"/><path d="M107.6 319.4 C108.5 317.0 109.3 314.9 110.4 313.7 C111.5 312.6 112.9 311.9 113.9 312.3 C115.0 312.8 116.2 314.7 116.8 316.6 C117.4 318.4 117.5 321.0 117.5 323.6 C117.5 326.2 116.8 329.3 116.8 332.1 C116.8 334.9 116.9 337.7 117.5 340.6 C118.1 343.4 119.4 346.7 120.3 349.0 C121.2 351.4 122.9 353.3 123.1 354.7 C123.4 356.1 122.6 357.3 121.7 357.5 C120.8 357.8 119.1 357.0 117.5 356.1 C115.8 355.2 113.6 353.8 111.8 351.9 C110.1 350.0 108.1 347.4 106.9 344.8 C105.7 342.2 105.1 339.2 104.8 336.3 C104.4 333.5 104.3 330.7 104.8 327.9 C105.2 325.0 106.6 321.7 107.6 319.4Z" fill="#079607"/><path d="M108.3 332.1 C108.5 330.6 109.8 330.0 110.4 330.0 C111.0 330.0 111.7 330.8 112.1 332.1 C112.5 333.4 112.3 336.1 112.5 337.7 C112.7 339.4 113.5 341.0 113.2 342.0 C113.0 342.9 111.8 343.9 111.1 343.4 C110.4 342.9 109.5 341.0 109.0 339.2 C108.5 337.3 108.1 333.6 108.3 332.1Z" fill="#1c67d2"/></g><clipPath id="c2_7"><rect x="113.0" y="255.0" width="126.0" height="134.0"/></clipPath><g clip-path="url(#c2_7)"><path d="M106.0 274.2 C106.7 273.0 107.6 269.1 108.8 267.1 C110.0 265.1 111.4 263.2 113.1 262.2 C114.7 261.1 117.1 260.5 118.7 260.8 C120.4 261.0 122.0 262.3 122.9 263.6 C123.9 264.9 124.2 266.1 124.4 268.5 C124.5 271.0 124.3 275.1 124.1 278.4 C123.8 281.7 123.3 284.8 122.9 288.3 C122.6 291.8 122.5 296.1 122.2 299.6 C122.0 303.1 121.8 306.2 121.5 309.5 C121.3 312.8 121.1 316.1 120.8 319.4 C120.6 322.7 120.0 326.2 120.1 329.3 C120.2 332.3 120.8 335.2 121.5 337.7 C122.2 340.3 122.9 342.7 124.4 344.8 C125.8 346.9 128.1 348.6 130.0 350.5 C131.9 352.3 134.2 354.2 135.7 356.1 C137.1 358.0 138.7 360.1 138.5 361.8 C138.3 363.4 135.9 364.9 134.2 366.0 C132.6 367.1 130.7 367.9 128.6 368.1 C126.5 368.3 123.9 368.1 121.5 367.4 C119.2 366.7 116.6 365.3 114.5 363.9 C112.4 362.5 110.5 360.5 108.8 358.9 C107.2 357.4 104.6 354.7 104.6 354.7 L104.6 274.2 C104.6 274.2 105.3 275.4 106.0 274.2Z" fill="#fffa2a"/><path d="M170.3 251.6 C170.3 251.6 171.1 254.8 172.4 255.8 C173.7 256.9 175.9 257.6 178.0 257.9 C180.2 258.3 183.1 258.4 185.1 257.9 C187.1 257.5 189.1 256.2 190.0 255.1 C191.0 254.1 190.7 251.6 190.7 251.6 L170.3 251.6Z" fill="#fffa2a"/><path d="M189.3 260.1 C190.0 262.4 192.9 263.8 195.0 265.7 C197.1 267.6 200.0 269.2 202.0 271.4 C204.0 273.5 205.9 276.3 207.0 278.4 C208.0 280.5 208.8 282.5 208.4 284.1 C208.0 285.6 206.6 286.4 204.9 287.6 C203.1 288.8 200.2 289.8 197.8 291.1 C195.5 292.4 193.1 293.8 190.7 295.4 C188.4 296.9 185.8 298.8 183.7 300.3 C181.6 301.8 179.4 303.5 178.0 304.6 C176.6 305.6 176.3 307.0 175.2 306.7 C174.1 306.3 172.9 303.8 171.7 302.4 C170.5 301.0 169.3 298.8 168.1 298.2 C167.0 297.6 165.8 298.0 164.6 298.9 C163.4 299.8 162.0 301.6 161.1 303.8 C160.1 306.1 159.6 309.5 159.0 312.3 C158.4 315.1 158.1 318.0 157.6 320.8 C157.0 323.6 156.1 326.4 155.4 329.3 C154.7 332.1 153.8 334.9 153.3 337.7 C152.8 340.6 152.3 343.6 152.6 346.2 C153.0 348.8 154.1 351.4 155.4 353.3 C156.7 355.2 158.7 356.7 160.4 357.5 C162.0 358.3 163.8 358.6 165.3 358.2 C166.9 357.9 168.6 356.9 169.6 355.4 C170.5 353.9 170.7 351.5 171.0 349.0 C171.3 346.6 171.1 343.4 171.3 340.6 C171.4 337.7 171.4 334.9 171.7 332.1 C172.0 329.3 172.4 326.2 173.1 323.6 C173.8 321.0 174.6 317.3 175.9 316.6 C177.2 315.9 178.9 318.0 180.9 319.4 C182.9 320.8 185.3 322.9 187.9 325.0 C190.5 327.2 193.8 330.0 196.4 332.1 C199.0 334.2 201.3 335.9 203.5 337.7 C205.6 339.6 207.2 341.3 209.1 343.4 C211.0 345.5 212.9 348.2 214.8 350.5 C216.6 352.7 218.3 355.3 220.4 356.8 C222.5 358.3 224.9 359.3 227.5 359.6 C230.1 360.0 233.4 359.5 235.9 358.9 C238.5 358.3 241.1 357.3 243.0 356.1 C244.9 354.9 247.2 351.9 247.2 351.9 L247.2 251.6 L190.7 251.6 C190.7 251.6 188.6 257.7 189.3 260.1Z" fill="#fffa2a"/><path d="M219.0 303.1 C219.1 302.4 220.1 301.3 221.1 301.0 C222.2 300.8 224.1 300.9 225.4 301.7 C226.6 302.6 228.5 304.9 228.9 306.0 C229.2 307.1 228.4 308.1 227.5 308.4 C226.5 308.6 224.4 307.8 223.2 307.4 C222.1 306.9 221.1 306.2 220.4 305.5 C219.7 304.8 218.9 303.9 219.0 303.1Z" fill="#ffffff"/><path d="M231.0 336.3 C231.1 335.0 231.9 333.6 233.1 332.8 C234.3 332.0 236.3 331.3 238.1 331.4 C239.8 331.5 242.2 332.4 243.7 333.5 C245.2 334.6 247.2 337.7 247.2 337.7 L247.2 346.2 C247.2 346.2 243.5 346.0 241.6 345.5 C239.7 345.0 237.5 344.2 235.9 343.4 C234.4 342.6 233.2 341.7 232.4 340.6 C231.6 339.4 230.9 337.6 231.0 336.3Z" fill="#ffffff"/><path d="M114.2 274.2 C114.0 273.2 115.2 271.5 115.9 271.4 C116.6 271.2 118.2 272.5 118.4 273.5 C118.6 274.5 117.7 277.2 117.0 277.3 C116.3 277.4 114.4 275.2 114.2 274.2Z" fill="#079607"/><path d="M107.4 319.4 C108.4 317.7 109.2 314.7 110.2 313.7 C111.3 312.8 112.8 312.8 113.8 313.7 C114.7 314.7 115.5 317.0 115.9 319.4 C116.2 321.7 115.8 324.8 115.9 327.9 C116.0 330.9 116.0 334.7 116.6 337.7 C117.2 340.8 118.4 343.9 119.4 346.2 C120.5 348.6 122.6 350.2 122.9 351.9 C123.3 353.5 122.5 355.6 121.5 356.1 C120.6 356.6 118.9 355.6 117.3 354.7 C115.7 353.8 113.3 352.1 111.6 350.5 C110.0 348.8 108.6 346.5 107.4 344.8 C106.2 343.2 104.6 340.6 104.6 340.6 L104.6 323.6 C104.6 323.6 106.5 321.0 107.4 319.4Z" fill="#079607"/><path d="M211.9 251.6 C211.9 251.6 215.0 256.3 216.2 258.6 C217.3 261.0 217.8 263.6 219.0 265.7 C220.2 267.8 221.6 269.5 223.2 271.4 C224.9 273.2 227.2 275.1 228.9 277.0 C230.5 278.9 231.9 280.5 233.1 282.7 C234.3 284.8 235.0 287.1 235.9 289.7 C236.9 292.3 237.8 295.4 238.8 298.2 C239.7 301.0 240.7 304.3 241.6 306.7 C242.5 309.0 243.5 310.9 244.4 312.3 C245.4 313.7 247.2 315.1 247.2 315.1 L247.2 251.6 L211.9 251.6Z" fill="#079607"/><path d="M195.0 317.3 C195.1 315.6 195.9 313.7 197.1 312.3 C198.3 310.9 200.3 309.5 202.0 308.8 C203.8 308.1 205.6 307.7 207.7 308.1 C209.8 308.4 212.6 309.6 214.8 310.9 C216.9 312.2 218.8 314.1 220.4 315.9 C222.1 317.6 223.9 319.7 224.6 321.5 C225.4 323.3 225.4 325.0 224.6 326.4 C223.9 327.9 222.3 329.2 220.4 330.0 C218.5 330.7 215.7 331.0 213.3 331.0 C211.0 331.0 208.4 330.7 206.3 330.0 C204.2 329.2 202.3 327.7 200.6 326.4 C199.0 325.2 197.3 323.7 196.4 322.2 C195.5 320.7 194.9 318.9 195.0 317.3Z" fill="#079607"/><path d="M160.4 338.5 L161.4 338.5 L161.4 344.8 L160.4 344.8Z" fill="#079607"/><path d="M108.8 332.1 C109.1 330.3 110.4 330.3 110.9 330.4 C111.5 330.5 112.0 331.1 112.4 332.8 C112.7 334.5 112.9 338.8 112.8 340.6 C112.6 342.3 111.9 343.3 111.4 343.4 C110.8 343.5 110.0 343.2 109.5 341.3 C109.1 339.4 108.6 333.9 108.8 332.1Z" fill="#1c67d2"/><path d="M202.0 320.8 C201.9 319.9 203.1 318.6 204.2 318.0 C205.2 317.4 206.9 317.0 208.4 317.3 C209.9 317.5 212.0 318.6 213.3 319.4 C214.6 320.2 216.1 321.3 216.2 322.2 C216.3 323.1 215.2 324.3 214.1 324.8 C212.9 325.2 210.6 325.2 209.1 325.0 C207.6 324.8 206.0 324.3 204.9 323.6 C203.7 322.9 202.2 321.7 202.0 320.8Z" fill="#1c67d2"/></g><clipPath id="c2_8"><rect x="239.0" y="255.0" width="122.0" height="134.0"/></clipPath><g clip-path="url(#c2_8)"><path d="M224.6 251.6 L296.6 251.6 C296.6 251.6 298.1 255.4 298.0 257.2 C298.0 259.1 296.1 261.1 296.3 262.9 C296.6 264.7 298.1 267.5 299.4 268.3 C300.8 269.0 303.0 268.3 304.4 267.1 C305.8 266.0 307.1 263.4 307.9 261.5 C308.7 259.6 308.9 257.5 309.1 255.8 C309.2 254.2 308.6 251.6 308.6 251.6 L310.7 251.6 C310.7 251.6 314.5 254.3 316.4 255.8 C318.3 257.4 319.7 259.6 322.0 260.8 C324.4 261.9 327.7 262.2 330.5 262.9 C333.3 263.6 336.2 264.1 339.0 265.0 C341.8 265.9 344.9 267.2 347.5 268.5 C350.1 269.8 351.2 271.6 354.5 272.8 C357.8 274.0 367.2 275.6 367.2 275.6 L367.2 319.4 C367.2 319.4 356.9 317.7 353.1 316.6 C349.4 315.4 347.5 313.6 344.6 312.3 C341.8 311.0 339.0 309.9 336.2 308.8 C333.3 307.7 330.3 307.0 327.7 306.0 C325.1 304.9 323.0 303.5 320.6 302.4 C318.3 301.4 315.5 299.7 313.6 299.6 C311.7 299.5 310.6 300.3 309.3 301.7 C308.0 303.1 306.7 305.6 305.8 308.1 C304.9 310.6 303.8 314.0 303.7 316.6 C303.6 319.1 304.2 321.7 305.1 323.6 C306.0 325.5 308.4 326.2 309.3 327.9 C310.3 329.5 311.0 331.6 310.7 333.5 C310.5 335.4 309.3 337.6 307.9 339.2 C306.5 340.7 304.6 342.0 302.3 342.7 C299.9 343.4 296.6 343.3 293.8 343.4 C291.0 343.5 287.9 343.9 285.3 343.4 C282.7 342.9 280.6 341.7 278.3 340.6 C275.9 339.4 273.6 337.5 271.2 336.3 C268.8 335.2 266.1 333.7 264.1 333.5 C262.1 333.3 260.1 334.0 259.2 334.9 C258.3 335.9 258.3 337.5 258.5 339.2 C258.7 340.8 260.6 343.5 260.6 344.8 C260.6 346.1 259.8 346.7 258.5 346.9 C257.2 347.2 254.5 345.9 252.8 346.2 C251.2 346.6 249.5 347.9 248.6 349.0 C247.7 350.2 248.1 351.8 247.2 353.3 C246.2 354.8 244.6 357.2 242.9 358.2 C241.3 359.3 240.4 359.4 237.3 359.6 C234.2 359.9 224.6 359.6 224.6 359.6 L224.6 251.6Z" fill="#fffa2a"/><path d="M274.0 355.4 C274.0 354.0 276.1 352.6 277.6 351.9 C279.0 351.1 280.8 350.6 282.5 350.7 C284.1 350.9 286.4 351.7 287.4 352.6 C288.5 353.5 289.1 354.8 288.9 356.1 C288.6 357.4 287.2 359.4 286.0 360.3 C284.9 361.3 283.2 362.0 281.8 362.0 C280.4 362.0 278.8 361.5 277.6 360.3 C276.3 359.2 274.0 356.8 274.0 355.4Z" fill="#fffa2a"/><path d="M307.9 269.2 C308.2 268.1 309.3 266.5 310.7 265.7 C312.2 264.9 314.3 264.2 316.4 264.3 C318.5 264.4 321.1 265.5 323.5 266.4 C325.8 267.4 328.4 268.7 330.5 269.9 C332.6 271.2 334.8 272.9 336.2 274.2 C337.6 275.5 339.1 276.4 339.0 277.7 C338.9 279.0 337.1 281.0 335.5 282.0 C333.8 282.9 331.3 283.2 329.1 283.4 C326.9 283.5 324.2 283.5 322.0 282.9 C319.9 282.4 318.0 281.1 316.4 279.8 C314.7 278.6 313.3 276.8 312.2 275.6 C311.0 274.4 310.0 273.8 309.3 272.8 C308.6 271.7 307.7 270.4 307.9 269.2Z" fill="#ffffff"/><path d="M342.9 282.0 C343.1 281.3 343.8 280.4 344.6 280.1 C345.5 279.9 347.5 280.1 348.2 280.5 C348.9 281.0 349.2 282.4 348.9 282.9 C348.5 283.5 347.0 283.9 346.1 284.1 C345.2 284.2 344.0 284.1 343.5 283.8 C343.0 283.4 342.8 282.6 342.9 282.0Z" fill="#ffffff"/><path d="M230.9 336.3 C231.1 335.2 231.9 333.6 233.1 332.8 C234.2 332.0 236.5 331.2 238.0 331.4 C239.5 331.6 240.9 332.9 242.2 334.2 C243.5 335.5 244.8 337.5 245.8 339.2 C246.7 340.8 247.9 342.8 247.9 344.1 C247.9 345.4 247.0 346.6 245.8 346.9 C244.6 347.3 242.5 346.8 240.8 346.2 C239.2 345.6 237.3 344.5 235.9 343.4 C234.5 342.3 233.2 341.0 232.4 339.9 C231.5 338.7 230.8 337.5 230.9 336.3Z" fill="#ffffff"/><path d="M224.6 251.6 C224.6 251.6 229.3 254.5 231.6 255.8 C234.0 257.1 236.6 258.1 238.7 259.4 C240.8 260.7 242.5 261.6 244.4 263.6 C246.2 265.6 247.9 269.2 250.0 271.4 C252.1 273.5 254.5 275.0 257.1 276.3 C259.7 277.6 262.7 278.0 265.5 279.1 C268.4 280.3 271.4 281.8 274.0 283.4 C276.6 284.9 279.1 286.3 281.1 288.3 C283.1 290.3 284.9 293.0 286.0 295.4 C287.2 297.7 287.9 299.8 288.1 302.4 C288.4 305.0 287.9 308.1 287.4 310.9 C287.0 313.7 286.3 317.1 285.3 319.4 C284.4 321.6 283.4 323.2 281.8 324.3 C280.1 325.5 277.9 326.3 275.4 326.4 C273.0 326.6 269.8 325.9 267.0 325.0 C264.1 324.2 261.3 322.8 258.5 321.5 C255.7 320.2 252.4 319.0 250.0 317.3 C247.7 315.5 246.0 313.6 244.4 310.9 C242.7 308.2 241.5 304.3 240.1 301.0 C238.7 297.7 237.3 294.2 235.9 291.1 C234.5 288.1 233.3 285.0 231.6 282.7 C230.0 280.3 227.2 278.2 226.0 277.0 C224.8 275.8 224.6 275.6 224.6 275.6 L224.6 251.6Z" fill="#079607"/><path d="M248.6 283.4 C248.8 282.1 250.6 282.0 252.1 282.0 C253.7 282.0 256.0 282.4 257.8 283.4 C259.5 284.3 261.4 286.0 262.7 287.6 C264.0 289.3 264.5 291.6 265.5 293.3 C266.6 294.9 268.4 295.3 269.1 297.5 C269.8 299.7 269.8 303.6 269.8 306.7 C269.8 309.7 269.8 314.4 269.1 315.9 C268.4 317.3 267.1 315.7 265.5 315.1 C264.0 314.6 261.8 313.3 259.9 312.3 C258.0 311.4 255.7 310.9 254.2 309.5 C252.8 308.1 252.2 306.0 251.4 303.8 C250.6 301.7 249.4 299.1 249.3 296.8 C249.2 294.4 250.8 292.0 250.7 289.7 C250.6 287.5 248.4 284.7 248.6 283.4Z" fill="#1c67d2"/></g>
</g>
<g clip-path="url(#clip)"><use href="#coast"/></g>
<rect x="0.5" y="0.4" width="359.5" height="387.4" fill="none" stroke="#000" stroke-width="1.3"/>
<use href="#axes"/><use href="#cbar"/><use href="#cbl"/>
</g>
<g transform="translate(19,557.5)">
<text x="-18.7" y="-9.1" font-size="19.4" textLength="97.1" lengthAdjust="spacingAndGlyphs">Precipitacao</text><text x="89.3" y="-9.1" font-size="19.4" textLength="85.4" lengthAdjust="spacingAndGlyphs">acumulada</text><text x="185.4" y="-9.1" font-size="19.4" textLength="22.8" lengthAdjust="spacingAndGlyphs">em</text><text x="219.3" y="-9.1" font-size="19.4" textLength="18.8" lengthAdjust="spacingAndGlyphs">24</text><text x="249.9" y="-9.1" font-size="19.4" textLength="22.9" lengthAdjust="spacingAndGlyphs">hrs</text><text x="283.9" y="-9.1" font-size="19.4" textLength="9.7" lengthAdjust="spacingAndGlyphs">&gt;</text><text x="307.1" y="-9.1" font-size="19.4" textLength="30.9" lengthAdjust="spacingAndGlyphs">10.0</text><text x="350.5" y="-9.1" font-size="19.4" textLength="28.7" lengthAdjust="spacingAndGlyphs">mm</text>
<g clip-path="url(#clip)" shape-rendering="crispEdges">
<clipPath id="c3_0"><rect x="-4.0" y="-2.5" width="117.0" height="125.0"/></clipPath><g clip-path="url(#c3_0)"><path d="M35.4 0.9 C35.8 1.9 36.9 4.1 38.1 5.0 C39.3 5.9 41.3 6.6 42.9 6.3 C44.4 6.1 46.1 3.8 47.6 3.6 C49.1 3.4 50.3 4.1 51.7 5.0 C53.0 5.9 54.2 8.0 55.8 9.0 C57.3 10.1 59.6 11.2 61.2 11.1 C62.8 11.0 64.4 9.5 65.3 8.4 C66.2 7.2 66.4 5.9 66.6 4.3 C66.8 2.7 71.8 -0.2 66.6 -1.1 C61.4 -2.0 40.6 -1.5 35.4 -1.1 C30.2 -0.8 34.9 -0.1 35.4 0.9Z" fill="#fffa2a"/><path d="M32.0 14.5 C32.3 13.0 33.0 10.7 34.0 9.7 C35.0 8.7 36.9 8.0 38.1 8.4 C39.3 8.7 40.9 10.2 41.5 11.8 C42.1 13.3 42.5 15.7 41.9 17.9 C41.3 20.0 39.3 23.9 38.1 24.7 C36.9 25.5 35.7 23.6 34.7 22.6 C33.8 21.6 32.9 19.9 32.4 18.6 C31.9 17.2 31.7 15.9 32.0 14.5Z" fill="#fffa2a"/><path d="M76.1 -1.1 C72.4 -0.8 75.5 -0.2 76.1 0.9 C76.8 2.0 78.4 4.4 80.2 5.6 C82.0 6.9 85.0 7.9 87.0 8.4 C89.0 8.9 90.7 9.3 92.4 8.6 C94.1 8.0 96.2 5.6 97.2 4.3 C98.2 3.0 98.3 1.8 98.5 0.9 C98.8 -0.0 102.3 -0.8 98.5 -1.1 C94.8 -1.5 79.9 -1.5 76.1 -1.1Z" fill="#fffa2a"/><path d="M-2.6 33.9 C0.5 29.5 11.4 34.2 16.4 33.9 C21.4 33.6 24.5 33.1 27.2 32.1 C30.0 31.2 30.0 28.8 32.7 28.1 C35.4 27.3 39.7 27.4 43.5 27.7 C47.4 27.9 52.6 29.3 55.8 29.4 C58.9 29.5 60.7 29.0 62.5 28.1 C64.4 27.2 65.0 24.9 66.6 24.0 C68.2 23.1 70.2 22.4 72.1 22.6 C73.9 22.9 75.5 24.4 77.5 25.3 C79.5 26.2 82.2 27.7 84.3 28.1 C86.3 28.4 87.7 27.4 89.7 27.7 C91.7 27.9 94.7 28.8 96.5 29.4 C98.3 30.1 99.4 32.2 100.6 31.5 C101.7 30.7 102.6 26.5 103.3 24.7 C104.0 22.9 103.5 21.7 104.7 20.6 C105.8 19.5 107.5 18.6 110.1 17.9 C112.6 17.2 117.7 16.7 120.0 16.5 C122.3 16.3 123.1 -2.5 123.7 16.5 C124.3 35.5 123.7 130.6 123.7 130.6 L91.1 130.6 C91.1 130.6 90.8 129.3 90.4 127.5 C89.9 125.7 89.1 122.2 88.4 119.7 C87.6 117.3 86.3 115.2 85.6 112.9 C85.0 110.7 84.5 108.6 84.3 106.2 C84.1 103.7 84.2 100.5 84.3 98.0 C84.4 95.5 84.6 93.5 85.0 91.2 C85.3 88.9 85.8 86.7 86.3 84.4 C86.9 82.2 87.8 79.8 88.4 77.6 C88.9 75.5 89.3 73.1 89.7 71.5 C90.2 69.9 91.7 69.0 91.1 68.1 C90.4 67.2 87.4 66.8 85.6 66.1 C83.8 65.4 82.5 64.8 80.2 64.0 C77.9 63.3 75.2 61.8 72.1 61.3 C68.9 60.9 64.8 61.1 61.2 61.3 C57.6 61.6 53.5 62.2 50.3 62.7 C47.2 63.1 44.4 64.0 42.2 64.0 C39.9 64.0 39.2 63.3 36.7 62.7 C34.3 62.1 30.6 61.1 27.2 60.7 C23.8 60.2 21.4 60.0 16.4 60.0 C11.4 59.9 0.5 64.6 -2.6 60.2 C-5.8 55.9 -5.8 38.3 -2.6 33.9Z" fill="#fffa2a"/><path d="M104.7 28.1 C105.0 27.0 106.2 25.7 107.4 25.3 C108.5 25.0 110.6 25.2 111.4 26.0 C112.2 26.8 112.6 29.0 112.1 30.1 C111.7 31.2 109.9 32.3 108.7 32.5 C107.6 32.8 106.0 32.2 105.3 31.5 C104.7 30.7 104.3 29.1 104.7 28.1Z" fill="#ffffff"/><path d="M-2.6 39.9 C0.5 37.8 11.8 40.1 16.4 39.9 C20.9 39.6 21.8 39.0 24.5 38.2 C27.2 37.5 30.0 35.9 32.7 35.3 C35.4 34.6 37.9 34.4 40.8 34.4 C43.8 34.5 47.2 35.4 50.3 35.8 C53.5 36.2 57.1 36.8 59.8 36.9 C62.5 37.0 64.6 36.7 66.6 36.2 C68.7 35.8 70.5 35.0 72.1 34.2 C73.6 33.4 74.3 32.1 76.1 31.5 C77.9 30.8 80.9 30.0 82.9 30.1 C85.0 30.2 86.5 31.5 88.4 32.1 C90.2 32.8 92.0 33.4 93.8 34.2 C95.6 35.0 97.4 36.2 99.2 36.9 C101.0 37.6 102.6 37.8 104.7 38.2 C106.7 38.7 108.3 38.8 111.4 39.6 C114.6 40.4 121.6 27.8 123.7 43.0 C125.7 58.2 123.7 130.6 123.7 130.6 L91.1 130.6 C91.1 130.6 90.2 122.7 89.7 119.7 C89.3 116.8 88.6 115.2 88.4 112.9 C88.1 110.7 88.1 108.4 88.1 106.2 C88.1 103.9 88.1 101.9 88.4 99.4 C88.6 96.9 89.3 93.7 89.7 91.2 C90.2 88.7 90.5 86.7 91.1 84.4 C91.6 82.2 92.5 79.8 93.1 77.6 C93.7 75.5 94.0 73.6 94.5 71.5 C94.9 69.5 95.4 67.6 95.8 65.4 C96.3 63.3 97.1 60.9 97.2 58.6 C97.3 56.4 97.0 53.6 96.5 51.8 C96.0 50.0 95.3 48.0 94.5 47.8 C93.7 47.5 92.5 49.3 91.7 50.5 C91.0 51.6 90.5 53.4 89.7 54.5 C88.9 55.7 88.1 56.6 87.0 57.3 C85.9 57.9 84.5 58.6 82.9 58.6 C81.3 58.6 79.3 57.8 77.5 57.3 C75.7 56.7 74.3 55.6 72.1 55.2 C69.8 54.9 66.6 54.9 63.9 55.2 C61.2 55.6 58.0 56.9 55.8 57.3 C53.5 57.6 52.6 57.7 50.3 57.3 C48.1 56.8 45.1 55.1 42.2 54.5 C39.2 54.0 35.6 54.0 32.7 53.9 C29.7 53.7 27.2 53.7 24.5 53.5 C21.8 53.2 20.9 52.7 16.4 52.5 C11.8 52.3 0.5 54.6 -2.6 52.5 C-5.8 50.4 -5.8 42.0 -2.6 39.9Z" fill="#079607"/><path d="M123.7 49.8 C122.5 48.4 118.8 51.5 116.9 53.2 C115.0 54.9 113.5 57.7 112.1 60.0 C110.8 62.2 109.9 64.6 108.7 66.8 C107.6 68.9 106.1 71.1 105.3 72.9 C104.6 74.7 104.2 76.7 104.4 77.6 C104.5 78.6 105.4 79.2 106.3 78.7 C107.1 78.3 108.2 76.5 109.4 74.9 C110.6 73.4 112.0 71.2 113.5 69.5 C115.0 67.8 116.5 66.1 118.2 64.7 C119.9 63.4 122.8 63.8 123.7 61.3 C124.6 58.8 124.8 51.1 123.7 49.8Z" fill="#fffa2a"/><path d="M98.5 93.2 C99.2 92.6 100.4 91.8 101.3 92.6 C102.2 93.4 103.1 95.7 104.0 98.0 C104.9 100.3 105.7 103.4 106.7 106.2 C107.7 108.9 108.8 111.6 109.8 114.3 C110.8 117.0 111.8 119.7 112.5 122.4 C113.3 125.2 114.2 130.6 114.2 130.6 L106.7 130.6 C106.7 130.6 104.4 121.8 103.3 118.4 C102.2 115.0 100.8 112.9 99.9 110.2 C98.9 107.5 98.0 104.3 97.6 102.1 C97.1 99.8 97.0 98.1 97.2 96.6 C97.3 95.2 97.9 93.9 98.5 93.2Z" fill="#fffa2a"/><path d="M25.9 46.4 C25.7 45.0 29.0 43.5 31.3 42.3 C33.6 41.2 36.5 39.9 39.5 39.6 C42.4 39.3 46.0 40.1 49.0 40.7 C51.9 41.3 54.3 42.0 57.1 43.0 C59.9 44.0 65.9 45.5 65.9 46.7 C65.9 47.9 59.9 49.2 57.1 50.2 C54.3 51.2 51.7 52.5 49.0 52.9 C46.3 53.4 43.5 53.3 40.8 52.9 C38.1 52.5 35.2 51.6 32.7 50.5 C30.2 49.4 26.1 47.8 25.9 46.4Z" fill="#1c67d2"/><path d="M73.7 47.8 C73.9 46.5 74.9 44.7 76.1 43.7 C77.3 42.7 79.4 41.6 80.9 41.6 C82.4 41.6 84.1 42.4 85.0 43.7 C85.8 44.9 86.2 47.5 85.9 49.1 C85.6 50.7 84.2 52.7 82.9 53.5 C81.6 54.2 79.5 54.2 78.2 53.9 C76.8 53.5 75.5 52.2 74.8 51.1 C74.0 50.1 73.5 49.0 73.7 47.8Z" fill="#1c67d2"/><path d="M96.5 41.0 C97.2 39.5 99.1 39.1 100.6 38.9 C102.0 38.7 104.0 39.0 105.3 39.9 C106.7 40.8 107.7 42.5 108.7 44.4 C109.8 46.2 111.7 49.0 111.7 51.1 C111.7 53.3 109.7 55.1 108.7 57.3 C107.7 59.4 106.6 61.8 105.7 64.0 C104.8 66.3 104.2 68.9 103.3 70.8 C102.4 72.8 101.6 75.1 100.6 75.6 C99.6 76.0 98.3 74.6 97.2 73.6 C96.0 72.5 94.1 71.3 93.8 69.5 C93.4 67.7 94.7 65.2 95.1 62.7 C95.6 60.2 96.3 57.0 96.5 54.5 C96.7 52.1 96.2 50.0 96.2 47.8 C96.2 45.5 95.8 42.4 96.5 41.0Z" fill="#1c67d2"/><path d="M91.1 77.6 C91.6 76.0 92.7 73.9 93.8 73.6 C94.9 73.2 96.9 74.5 97.6 75.6 C98.3 76.7 98.3 78.4 98.1 80.3 C98.0 82.3 97.2 85.3 96.5 87.1 C95.8 88.9 94.7 90.8 93.8 91.2 C92.9 91.7 91.6 91.2 91.1 89.9 C90.5 88.5 90.4 85.1 90.4 83.1 C90.4 81.0 90.5 79.2 91.1 77.6Z" fill="#1c67d2"/><path d="M123.7 71.5 C122.4 69.9 118.2 74.8 116.2 76.3 C114.2 77.7 113.0 79.0 111.4 80.3 C109.9 81.7 107.8 83.0 106.7 84.4 C105.6 85.8 104.7 87.4 104.7 88.8 C104.6 90.2 105.6 91.9 106.3 92.8 C107.0 93.8 107.9 94.8 109.0 94.6 C110.1 94.4 111.4 92.6 112.8 91.5 C114.2 90.4 115.7 88.8 117.6 87.8 C119.4 86.9 122.6 88.5 123.7 85.8 C124.7 83.1 124.9 73.1 123.7 71.5Z" fill="#1c67d2"/><path d="M93.1 106.2 C93.7 104.7 94.9 103.9 95.8 104.1 C96.7 104.3 97.7 105.6 98.5 107.5 C99.3 109.4 99.8 112.3 100.6 115.7 C101.4 119.0 102.6 125.0 103.3 127.5 C104.0 130.0 104.7 130.6 104.7 130.6 L95.1 130.6 C95.1 130.6 93.6 122.7 93.1 119.7 C92.6 116.8 92.2 115.2 92.2 112.9 C92.2 110.7 92.5 107.6 93.1 106.2Z" fill="#1c67d2"/><path d="M101.3 48.4 L102.6 48.4 L103.0 62.7 L101.7 62.7Z" fill="#2e1fa8"/></g><clipPath id="c3_1"><rect x="113.0" y="-2.5" width="126.0" height="125.0"/></clipPath><g clip-path="url(#c3_1)"><path d="M104.6 17.3 C104.6 17.3 111.4 16.6 114.5 16.6 C117.5 16.6 120.4 16.9 122.9 17.3 C125.5 17.6 127.4 18.2 130.0 18.7 C132.6 19.2 135.9 19.0 138.5 20.1 C141.1 21.2 144.6 23.2 145.5 25.0 C146.5 26.9 144.1 29.2 144.1 31.4 C144.1 33.6 144.4 36.8 145.5 38.5 C146.7 40.1 149.3 41.0 151.2 41.3 C153.1 41.5 155.4 41.0 156.8 39.9 C158.3 38.7 158.8 36.0 159.7 34.2 C160.5 32.5 160.8 30.6 161.8 29.3 C162.7 28.0 164.0 26.8 165.3 26.5 C166.6 26.1 168.1 26.9 169.6 27.2 C171.0 27.4 172.7 28.6 173.8 27.9 C174.9 27.2 175.4 25.2 175.9 22.9 C176.4 20.7 176.0 17.0 176.6 14.4 C177.2 11.9 178.3 8.8 179.4 7.4 C180.6 6.0 182.3 5.9 183.7 6.0 C185.1 6.1 186.5 8.3 187.9 8.1 C189.3 7.9 191.0 5.6 192.2 4.6 C193.3 3.5 192.4 2.3 195.0 1.7 C197.6 1.1 203.0 1.0 207.7 1.0 C212.4 1.0 221.0 0.9 223.2 1.7 C225.5 2.6 222.8 5.0 221.1 6.0 C219.5 6.9 215.8 6.6 213.3 7.4 C210.9 8.2 207.9 9.5 206.3 10.9 C204.6 12.3 204.0 14.1 203.5 15.9 C202.9 17.6 202.5 19.7 202.8 21.5 C203.0 23.3 203.6 25.1 204.9 26.5 C206.2 27.8 208.2 29.3 210.5 29.7 C212.9 30.1 216.2 29.2 219.0 28.9 C221.8 28.5 224.6 27.6 227.5 27.4 C230.3 27.3 232.6 28.0 235.9 27.9 C239.2 27.7 247.2 26.5 247.2 26.5 L247.2 115.4 C247.2 115.4 241.6 115.1 238.8 114.7 C235.9 114.4 232.6 113.3 230.3 113.3 C227.9 113.3 226.5 115.2 224.6 114.7 C222.8 114.3 221.1 112.3 219.0 110.5 C216.9 108.7 213.8 105.8 211.9 104.1 C210.0 102.5 209.1 101.9 207.7 100.6 C206.3 99.3 204.8 97.8 203.5 96.4 C202.2 95.0 201.1 93.5 199.9 92.1 C198.7 90.7 197.7 89.5 196.4 87.9 C195.1 86.2 193.6 84.1 192.2 82.2 C190.7 80.4 189.3 77.8 187.9 76.6 C186.5 75.4 185.1 74.5 183.7 74.9 C182.3 75.3 180.5 77.3 179.4 78.7 C178.4 80.2 177.3 82.1 177.3 83.7 C177.3 85.2 179.2 86.0 179.4 87.9 C179.7 89.8 179.2 92.6 178.7 95.0 C178.3 97.3 177.4 99.7 176.6 102.0 C175.8 104.4 174.5 107.0 173.8 109.1 C173.1 111.2 173.3 113.1 172.4 114.7 C171.4 116.4 169.6 117.6 168.1 119.0 C166.7 120.4 164.7 120.6 163.9 123.2 C163.1 125.8 163.2 134.5 163.2 134.5 L104.6 134.5 L104.6 17.3Z" fill="#fffa2a"/><path d="M143.4 90.7 C143.9 89.0 145.9 89.2 147.0 89.3 C148.0 89.4 149.3 90.0 149.8 91.4 C150.3 92.8 150.4 96.1 150.1 97.8 C149.7 99.4 148.7 101.0 147.7 101.3 C146.7 101.7 144.8 101.7 144.1 99.9 C143.4 98.1 143.0 92.5 143.4 90.7Z" fill="#ffffff"/><path d="M104.6 38.5 C104.6 38.5 109.5 38.6 111.6 39.2 C113.8 39.7 115.4 40.7 117.3 41.6 C119.2 42.4 121.1 43.5 122.9 44.1 C124.8 44.8 126.7 45.3 128.6 45.5 C130.5 45.8 132.1 45.1 134.2 45.5 C136.4 46.0 139.2 47.5 141.3 48.3 C143.4 49.2 145.1 49.9 147.0 50.5 C148.8 51.1 151.4 50.3 152.6 51.9 C153.8 53.4 154.3 57.1 154.0 59.6 C153.7 62.2 151.9 65.9 150.9 67.4 C150.0 68.9 149.5 68.0 148.4 68.8 C147.2 69.7 145.5 71.4 144.1 72.4 C142.7 73.3 141.5 74.5 139.9 74.5 C138.3 74.5 135.7 73.3 134.2 72.4 C132.8 71.4 132.6 69.3 131.4 68.8 C130.2 68.4 128.1 68.5 127.2 69.5 C126.2 70.6 125.9 73.3 125.8 75.2 C125.7 77.1 127.0 78.7 126.5 80.8 C126.0 83.0 124.2 85.5 122.9 87.9 C121.7 90.2 119.9 93.1 118.7 95.0 C117.5 96.8 116.6 97.5 115.9 99.2 C115.2 100.8 114.2 102.7 114.5 104.8 C114.7 107.0 116.1 109.6 117.3 111.9 C118.5 114.3 119.9 116.9 121.5 119.0 C123.2 121.1 126.1 123.1 127.2 124.6 C128.2 126.1 128.6 127.4 127.9 128.1 C127.2 128.9 124.7 129.4 122.9 128.9 C121.2 128.3 119.2 126.3 117.3 124.6 C115.4 123.0 113.1 120.6 111.6 119.0 C110.2 117.3 109.8 116.1 108.8 114.7 C107.9 113.3 106.7 111.2 106.0 110.5 C105.3 109.8 104.6 110.5 104.6 110.5 L104.6 38.5Z" fill="#079607"/><path d="M124.4 27.9 C124.7 26.8 125.9 25.5 127.2 25.0 C128.5 24.6 130.7 24.7 132.1 25.0 C133.5 25.4 135.5 26.2 135.7 27.2 C135.8 28.1 134.1 29.8 132.8 30.7 C131.5 31.6 129.2 32.7 127.9 32.8 C126.6 32.9 125.7 32.2 125.1 31.4 C124.5 30.6 124.0 28.9 124.4 27.9Z" fill="#079607"/><path d="M131.1 94.3 C131.4 93.8 132.7 93.6 133.5 93.5 C134.3 93.5 135.6 93.6 135.9 94.0 C136.3 94.3 136.3 95.3 135.7 95.7 C135.0 96.0 132.9 96.3 132.1 96.1 C131.4 95.9 130.9 94.7 131.1 94.3Z" fill="#079607"/><path d="M132.8 46.9 C132.2 46.1 128.7 47.2 127.2 47.6 C125.7 48.1 125.4 48.6 123.7 49.5 C121.9 50.4 118.8 51.4 116.9 53.1 C114.9 54.9 113.4 57.7 112.1 59.9 C110.7 62.2 109.9 64.4 108.7 66.7 C107.4 69.0 104.6 73.8 104.6 73.8 L104.6 80.8 C104.6 80.8 107.9 76.8 109.4 74.9 C110.9 73.0 112.0 71.2 113.5 69.5 C114.9 67.8 116.5 66.1 118.1 64.7 C119.8 63.4 122.0 62.5 123.7 61.3 C125.3 60.1 126.7 59.0 127.9 57.5 C129.1 56.1 129.9 54.4 130.7 52.6 C131.5 50.8 133.4 47.8 132.8 46.9Z" fill="#fffa2a"/><path d="M134.2 63.9 C134.2 62.6 135.4 60.8 136.4 60.4 C137.3 59.9 138.8 60.2 139.9 61.1 C141.0 61.9 142.9 64.0 143.0 65.3 C143.1 66.6 141.7 68.4 140.6 68.8 C139.5 69.3 137.4 68.9 136.4 68.1 C135.3 67.3 134.2 65.2 134.2 63.9Z" fill="#fffa2a"/><path d="M104.6 42.7 C104.6 42.7 107.6 43.4 108.8 44.8 C110.0 46.2 111.5 48.9 111.6 51.2 C111.8 53.4 110.5 56.1 109.5 58.2 C108.6 60.4 106.8 62.7 106.0 63.9 C105.2 65.1 104.6 65.3 104.6 65.3 L104.6 42.7Z" fill="#1c67d2"/><path d="M127.9 59.6 C128.2 60.4 127.8 63.4 127.2 65.3 C126.6 67.2 125.5 68.8 124.4 70.9 C123.2 73.1 121.5 75.7 120.1 78.0 C118.7 80.4 117.3 83.0 115.9 85.1 C114.5 87.2 113.1 89.1 111.6 90.7 C110.2 92.4 108.6 94.1 107.4 95.0 C106.2 95.8 104.6 95.7 104.6 95.7 L104.6 80.8 C104.6 80.8 107.4 78.0 108.8 76.6 C110.2 75.2 111.6 73.8 113.1 72.4 C114.5 70.9 115.9 69.5 117.3 68.1 C118.7 66.7 120.2 65.1 121.5 63.9 C122.8 62.7 124.0 61.8 125.1 61.1 C126.1 60.4 127.5 58.9 127.9 59.6Z" fill="#1c67d2"/></g><clipPath id="c3_2"><rect x="151.0" y="32.5" width="88.0" height="90.0"/></clipPath><g clip-path="url(#c3_2)"><rect x="150.0" y="31.5" width="90.0" height="92.0" fill="#fff"/><path d="M150.0 31.5 L252.3 31.5 L252.3 133.8 L150.0 133.8Z" fill="#fffa2a"/><path d="M177.3 84.2 C177.4 82.7 178.2 81.5 178.9 80.1 C179.5 78.8 180.6 77.0 181.4 76.1 C182.2 75.1 183.1 74.5 183.9 74.5 C184.8 74.6 185.4 75.6 186.5 76.6 C187.5 77.5 188.8 78.9 190.0 80.1 C191.2 81.4 192.6 83.1 193.6 84.2 C194.5 85.3 194.7 86.0 195.6 86.7 C196.4 87.4 197.6 87.1 198.6 88.2 C199.6 89.3 200.6 91.6 201.7 93.3 C202.7 95.0 203.3 96.8 204.7 98.4 C206.0 99.9 208.2 101.2 209.8 102.4 C211.3 103.6 212.5 104.3 213.8 105.4 C215.2 106.6 216.5 108.3 217.9 109.5 C219.2 110.7 220.2 111.6 221.9 112.5 C223.6 113.5 225.8 114.5 228.0 115.1 C230.2 115.7 232.7 115.9 235.1 116.1 C237.5 116.3 239.3 115.8 242.2 116.1 C245.1 116.3 252.3 117.6 252.3 117.6 L252.3 133.8 L162.7 133.8 C162.7 133.8 162.6 131.3 162.7 129.5 C162.7 127.6 162.6 124.3 163.2 122.7 C163.7 121.0 165.0 120.6 166.2 119.6 C167.4 118.6 169.2 117.9 170.3 116.6 C171.3 115.2 172.0 113.7 172.8 111.5 C173.5 109.3 174.1 106.1 174.8 103.4 C175.5 100.7 176.2 97.7 176.8 95.3 C177.4 93.0 178.3 91.1 178.4 89.2 C178.4 87.4 177.3 85.7 177.3 84.2Z" fill="#ffffff"/><path d="M209.8 74.5 C209.9 74.0 210.9 73.1 211.8 72.8 C212.6 72.6 214.2 72.7 214.8 73.0 C215.5 73.4 216.0 74.5 215.8 75.1 C215.7 75.6 214.7 76.4 213.8 76.6 C213.0 76.8 211.5 76.6 210.8 76.3 C210.1 75.9 209.6 75.1 209.8 74.5Z" fill="#ffffff"/><path d="M231.0 85.2 C231.2 84.6 232.1 83.8 233.1 83.7 C234.1 83.5 235.6 83.7 237.1 84.2 C238.6 84.6 240.5 85.5 242.2 86.2 C243.9 86.9 245.6 87.5 247.3 88.2 C248.9 88.9 252.3 90.3 252.3 90.3 L252.3 93.3 C252.3 93.3 248.3 91.9 246.2 91.3 C244.2 90.6 242.0 89.8 240.2 89.2 C238.3 88.6 236.4 88.1 235.1 87.7 C233.7 87.3 232.7 87.4 232.1 87.0 C231.4 86.6 230.9 85.7 231.0 85.2Z" fill="#ffffff"/><path d="M150.0 52.3 C150.0 52.3 153.7 50.8 155.1 49.7 C156.4 48.6 157.1 46.7 158.1 45.7 C159.1 44.7 159.8 44.1 161.1 43.6 C162.5 43.2 164.5 42.9 166.2 43.1 C167.9 43.4 170.0 44.2 171.3 45.2 C172.5 46.1 173.3 47.4 173.8 48.7 C174.3 50.1 174.2 52.0 174.5 53.3 C174.8 54.5 175.0 55.7 175.8 56.3 C176.6 56.9 178.1 57.2 179.4 56.8 C180.6 56.5 182.1 55.0 183.4 54.3 C184.8 53.6 186.1 53.3 187.5 52.8 C188.8 52.3 190.2 51.3 191.5 51.2 C192.9 51.2 194.4 51.5 195.6 52.3 C196.8 53.0 197.7 54.5 198.6 55.8 C199.5 57.1 200.8 58.6 201.2 59.9 C201.5 61.1 201.2 62.5 200.6 63.4 C200.1 64.3 198.6 65.0 197.6 65.4 C196.6 65.9 195.6 66.4 194.6 65.9 C193.6 65.5 192.5 63.6 191.5 62.9 C190.5 62.2 189.7 62.1 188.5 61.9 C187.3 61.7 185.8 61.6 184.4 61.7 C183.1 61.8 181.6 62.2 180.4 62.4 C179.2 62.6 178.0 62.2 177.3 62.9 C176.7 63.6 176.8 65.4 176.3 66.4 C175.9 67.5 175.1 67.9 174.8 69.0 C174.5 70.1 174.5 71.7 174.3 73.0 C174.1 74.4 174.3 76.2 173.8 77.1 C173.3 77.9 171.9 77.6 171.3 78.1 C170.6 78.6 170.3 80.1 169.7 80.1 C169.2 80.1 168.8 79.3 168.2 78.1 C167.6 76.9 166.5 74.4 166.2 73.0 C165.9 71.7 165.9 71.0 166.2 70.0 C166.5 69.0 166.9 68.0 167.7 66.9 C168.6 65.9 170.0 64.8 171.3 63.9 C172.5 63.0 174.9 62.3 175.3 61.4 C175.7 60.4 174.5 58.9 173.8 58.3 C173.1 57.7 172.4 57.8 171.3 57.8 C170.2 57.8 168.6 58.3 167.2 58.3 C165.9 58.3 164.3 57.6 163.2 57.8 C162.0 58.1 161.1 58.8 160.1 59.9 C159.1 60.9 158.1 62.7 157.1 63.9 C156.1 65.1 155.2 66.4 154.0 66.9 C152.9 67.5 150.0 67.5 150.0 67.5 L150.0 52.3Z" fill="#079607"/><path d="M195.6 52.8 C194.7 51.4 194.2 50.9 194.6 49.7 C194.9 48.5 196.4 46.9 197.6 45.7 C198.8 44.4 200.0 42.8 201.7 42.1 C203.3 41.4 204.4 41.6 207.7 41.6 C211.1 41.6 217.5 42.2 221.9 42.1 C226.3 42.0 230.7 41.1 234.1 41.1 C237.5 41.1 239.1 41.7 242.2 42.1 C245.2 42.5 252.3 43.6 252.3 43.6 L252.3 79.6 C252.3 79.6 247.4 78.9 245.2 78.1 C243.0 77.3 241.0 76.1 239.1 75.1 C237.3 74.0 235.9 73.0 234.1 72.0 C232.2 71.0 230.0 70.0 228.0 69.0 C226.0 68.0 223.8 67.0 221.9 65.9 C220.1 64.8 218.2 63.6 216.9 62.4 C215.5 61.2 214.8 60.0 213.8 58.8 C212.8 57.7 211.8 56.2 210.8 55.3 C209.8 54.4 208.8 53.6 207.7 53.3 C206.7 52.9 205.5 52.8 204.7 53.3 C203.9 53.7 203.2 54.7 202.7 55.8 C202.2 56.9 202.2 59.5 201.7 59.9 C201.2 60.2 200.6 59.0 199.6 57.8 C198.6 56.6 196.4 54.1 195.6 52.8Z" fill="#079607"/><path d="M209.3 87.7 C209.3 86.4 210.7 85.2 211.8 84.7 C212.9 84.1 214.5 84.0 215.8 84.4 C217.2 84.8 218.5 86.2 219.9 87.2 C221.2 88.2 222.9 89.2 223.9 90.3 C225.0 91.3 226.1 92.3 226.5 93.3 C226.8 94.3 226.6 95.3 226.0 96.3 C225.4 97.3 223.9 98.9 222.9 99.4 C221.9 99.8 221.1 99.4 219.9 98.9 C218.7 98.4 217.2 97.3 215.8 96.3 C214.5 95.3 212.9 94.2 211.8 92.8 C210.7 91.3 209.3 89.1 209.3 87.7Z" fill="#079607"/><path d="M231.5 97.8 L232.9 97.3 L233.1 103.4 L231.9 103.4Z" fill="#079607"/><path d="M159.6 49.7 C159.7 49.0 160.5 47.8 161.1 47.7 C161.8 47.6 163.1 48.6 163.7 49.2 C164.3 49.8 164.8 50.7 164.7 51.2 C164.5 51.8 163.3 52.6 162.7 52.8 C162.0 52.9 161.1 52.8 160.6 52.3 C160.1 51.8 159.5 50.5 159.6 49.7Z" fill="#1c67d2"/><path d="M215.8 52.8 C216.1 51.6 217.4 50.7 218.9 50.2 C220.4 49.7 222.8 49.6 225.0 49.7 C227.2 49.9 229.5 50.7 232.1 51.2 C234.6 51.8 236.8 52.1 240.2 52.8 C243.5 53.4 252.3 55.3 252.3 55.3 L252.3 71.5 C252.3 71.5 248.3 71.4 246.2 71.0 C244.2 70.6 242.2 69.7 240.2 69.0 C238.1 68.2 236.1 67.3 234.1 66.4 C232.1 65.6 230.0 64.8 228.0 63.9 C226.0 63.0 223.7 62.0 221.9 60.9 C220.1 59.8 218.4 58.7 217.4 57.3 C216.3 56.0 215.6 53.9 215.8 52.8Z" fill="#1c67d2"/></g><clipPath id="c3_3"><rect x="239.0" y="-2.5" width="122.0" height="125.0"/></clipPath><g clip-path="url(#c3_3)"><path d="M224.6 29.3 C224.6 29.3 231.4 29.0 234.5 28.6 C237.5 28.1 240.1 26.8 242.9 26.5 C245.8 26.1 248.8 25.6 251.4 26.5 C254.0 27.3 256.4 31.5 258.5 31.4 C260.6 31.3 262.3 27.2 264.1 25.7 C266.0 24.3 267.9 22.8 269.8 22.6 C271.7 22.5 273.3 23.3 275.4 25.0 C277.6 26.7 280.1 30.6 282.5 32.8 C284.9 35.0 287.2 36.6 289.6 38.5 C291.9 40.3 294.0 42.9 296.6 44.1 C299.2 45.3 302.3 45.5 305.1 45.5 C307.9 45.5 310.7 44.6 313.6 44.1 C316.4 43.6 319.2 43.5 322.0 42.7 C324.9 41.9 327.7 40.1 330.5 39.2 C333.3 38.2 336.4 37.4 339.0 37.0 C341.6 36.7 343.7 37.4 346.1 37.0 C348.4 36.7 351.2 35.9 353.1 34.9 C355.0 34.0 355.7 32.2 357.4 31.4 C359.0 30.6 362.1 23.4 363.0 30.0 C363.9 36.6 364.7 64.2 363.0 70.9 C361.4 77.7 355.9 70.2 353.1 70.2 C350.3 70.2 348.4 70.8 346.1 70.9 C343.7 71.1 341.6 70.7 339.0 70.9 C336.4 71.2 333.3 72.1 330.5 72.4 C327.7 72.6 324.9 72.4 322.0 72.4 C319.2 72.4 316.4 71.7 313.6 72.4 C310.7 73.1 307.9 75.4 305.1 76.6 C302.3 77.8 299.2 78.7 296.6 79.4 C294.0 80.1 291.4 79.9 289.6 80.8 C287.7 81.8 286.3 83.4 285.3 85.1 C284.4 86.7 284.3 88.6 283.9 90.7 C283.6 92.8 283.9 96.4 283.2 97.8 C282.5 99.2 281.7 98.7 279.7 99.2 C277.7 99.7 273.3 99.7 271.2 100.6 C269.1 101.5 268.1 103.4 267.0 104.8 C265.8 106.3 265.1 107.4 264.1 109.1 C263.2 110.7 263.0 113.6 261.3 114.7 C259.7 115.9 256.6 116.1 254.2 116.1 C251.9 116.1 249.5 115.0 247.2 114.7 C244.8 114.5 242.5 114.6 240.1 114.7 C237.8 114.8 235.7 115.4 233.1 115.4 C230.5 115.4 224.6 114.7 224.6 114.7 L224.6 29.3Z" fill="#fffa2a"/><path d="M231.6 84.4 C232.2 83.8 234.0 83.1 235.9 83.4 C237.8 83.6 240.6 84.9 242.9 85.8 C245.3 86.6 248.4 87.8 250.0 88.6 C251.7 89.4 252.8 90.2 252.8 90.7 C252.8 91.3 251.7 92.0 250.0 91.9 C248.4 91.7 245.3 90.7 242.9 90.0 C240.6 89.4 237.7 88.5 235.9 87.9 C234.1 87.3 233.1 87.1 232.4 86.5 C231.6 85.9 231.1 84.9 231.6 84.4Z" fill="#ffffff"/><path d="M224.6 42.0 C224.6 42.0 231.4 40.6 234.5 40.6 C237.5 40.6 239.7 41.6 242.9 42.0 C246.2 42.4 250.5 42.8 254.2 43.0 C258.0 43.1 262.0 43.0 265.5 43.0 C269.1 43.0 272.6 42.4 275.4 43.0 C278.3 43.5 280.1 45.1 282.5 46.2 C284.9 47.4 287.2 48.6 289.6 49.8 C291.9 50.9 294.3 52.2 296.6 53.3 C299.0 54.4 301.3 55.6 303.7 56.1 C306.0 56.6 308.4 56.5 310.7 56.1 C313.1 55.8 315.5 54.9 317.8 54.0 C320.2 53.1 322.8 51.8 324.9 50.5 C327.0 49.2 328.6 47.3 330.5 46.2 C332.4 45.2 334.1 44.6 336.2 44.1 C338.3 43.6 340.9 43.3 343.2 43.4 C345.6 43.5 347.9 44.0 350.3 44.8 C352.6 45.6 355.2 47.4 357.4 48.3 C359.5 49.3 362.1 48.0 363.0 50.5 C363.9 52.9 364.2 60.9 363.0 63.2 C361.8 65.4 358.5 63.5 355.9 63.9 C353.4 64.2 350.3 65.2 347.5 65.3 C344.6 65.4 341.8 64.6 339.0 64.6 C336.2 64.6 333.3 65.5 330.5 65.3 C327.7 65.1 324.9 63.9 322.0 63.2 C319.2 62.5 315.9 61.3 313.6 61.1 C311.2 60.8 309.8 61.1 307.9 61.8 C306.0 62.5 304.6 64.2 302.3 65.3 C299.9 66.4 296.6 67.2 293.8 68.1 C291.0 69.1 288.1 70.0 285.3 70.9 C282.5 71.9 279.2 72.8 276.8 73.8 C274.5 74.7 273.6 75.7 271.2 76.6 C268.8 77.5 265.5 78.8 262.7 79.4 C259.9 80.0 257.1 80.4 254.2 80.1 C251.4 79.9 248.6 79.0 245.8 78.0 C242.9 77.1 239.9 75.7 237.3 74.5 C234.7 73.3 232.4 71.9 230.2 70.9 C228.1 70.0 224.6 68.8 224.6 68.8 L224.6 42.0Z" fill="#079607"/><path d="M231.6 97.1 L233.1 97.1 L233.1 103.4 L231.9 103.4Z" fill="#079607"/><path d="M224.6 50.5 C224.6 50.5 229.1 50.7 231.6 51.2 C234.2 51.6 237.3 52.8 240.1 53.3 C242.9 53.8 245.8 53.8 248.6 54.0 C251.4 54.2 254.8 54.2 257.1 54.7 C259.3 55.2 261.0 55.9 262.0 56.8 C263.0 57.8 263.2 58.9 263.0 60.4 C262.8 61.8 262.1 63.8 260.6 65.3 C259.1 66.8 256.5 68.6 254.2 69.5 C252.0 70.5 249.5 70.7 247.2 70.9 C244.8 71.2 242.5 71.4 240.1 70.9 C237.8 70.5 235.4 69.1 233.1 68.1 C230.7 67.2 227.4 65.8 226.0 65.3 C224.6 64.8 224.6 65.0 224.6 65.0 L224.6 50.5Z" fill="#1c67d2"/><path d="M329.1 56.1 C329.1 54.9 330.5 53.2 331.9 51.9 C333.3 50.6 335.5 49.1 337.6 48.3 C339.7 47.6 342.4 47.0 344.6 47.2 C346.9 47.4 349.2 48.3 351.0 49.5 C352.8 50.6 354.5 52.5 355.2 54.0 C355.9 55.5 355.8 57.1 355.2 58.2 C354.6 59.4 353.5 60.7 351.7 61.1 C349.9 61.4 347.0 60.7 344.6 60.4 C342.3 60.0 339.7 59.2 337.6 58.9 C335.5 58.7 333.3 59.4 331.9 58.9 C330.5 58.5 329.1 57.3 329.1 56.1Z" fill="#1c67d2"/></g><clipPath id="c3_4"><rect x="-4.0" y="122.5" width="117.0" height="120.0"/></clipPath><g clip-path="url(#c3_4)"><path d="M86.4 113.1 C86.4 113.1 88.0 119.7 89.2 123.0 C90.4 126.3 92.0 129.6 93.5 132.9 C94.9 136.2 96.4 139.7 97.7 142.7 C99.0 145.8 99.6 148.9 101.2 151.2 C102.9 153.6 105.6 155.1 107.6 156.9 C109.6 158.6 111.3 160.3 113.2 161.8 C115.1 163.3 117.1 164.4 118.9 166.1 C120.6 167.7 122.5 171.1 123.8 171.7 C125.1 172.3 124.4 168.8 126.6 169.6 C128.9 170.4 137.2 176.6 137.2 176.6 L137.2 113.1 L86.4 113.1Z" fill="#fffa2a"/><path d="M90.6 113.1 C90.6 113.1 92.4 119.7 93.5 123.0 C94.5 126.3 95.7 129.6 97.0 132.9 C98.3 136.2 99.7 139.9 101.2 142.7 C102.8 145.6 104.2 147.8 106.2 149.8 C108.2 151.8 111.1 153.2 113.2 154.8 C115.4 156.3 117.0 157.5 118.9 159.0 C120.8 160.5 122.9 162.5 124.5 163.9 C126.2 165.3 126.6 166.3 128.8 167.5 C130.9 168.6 137.2 171.0 137.2 171.0 L137.2 155.5 C137.2 155.5 134.4 153.8 133.0 152.6 C131.6 151.5 130.4 149.7 128.8 148.4 C127.1 147.1 125.0 145.8 123.1 144.9 C121.2 143.9 119.4 143.8 117.5 142.7 C115.6 141.7 113.2 140.2 111.8 138.5 C110.4 136.9 110.1 135.5 109.0 132.9 C107.9 130.3 106.4 126.3 105.5 123.0 C104.5 119.7 103.3 113.1 103.3 113.1 L90.6 113.1Z" fill="#079607"/><path d="M109.0 113.1 C109.0 113.1 110.6 116.9 111.8 118.7 C113.0 120.6 114.4 122.7 116.1 124.4 C117.7 126.0 119.8 128.0 121.7 128.6 C123.6 129.2 126.3 128.6 127.4 127.9 C128.4 127.2 128.8 125.7 128.1 124.4 C127.4 123.1 124.9 121.6 123.1 120.1 C121.4 118.7 118.9 117.1 117.5 115.9 C116.1 114.7 114.6 113.1 114.6 113.1 L109.0 113.1Z" fill="#079607"/><path d="M93.5 113.1 C93.5 113.1 95.5 119.7 96.6 123.0 C97.6 126.3 98.6 129.6 99.8 132.9 C101.1 136.2 102.5 140.2 104.1 142.7 C105.6 145.3 107.0 146.8 109.0 148.4 C111.0 150.0 113.7 151.2 116.1 152.6 C118.4 154.0 121.0 155.2 123.1 156.9 C125.2 158.5 127.4 161.6 128.8 162.5 C130.2 163.5 131.0 163.0 131.6 162.5 C132.2 162.1 132.8 161.1 132.3 159.7 C131.8 158.3 130.3 155.7 128.8 154.0 C127.2 152.4 125.0 150.9 123.1 149.8 C121.2 148.8 119.6 148.6 117.5 147.7 C115.4 146.8 112.2 146.2 110.4 144.2 C108.6 142.2 108.1 138.7 106.9 135.7 C105.7 132.6 104.4 129.6 103.3 125.8 C102.3 122.0 100.5 113.1 100.5 113.1 L93.5 113.1Z" fill="#1c67d2"/></g><clipPath id="c3_5"><rect x="113.0" y="122.5" width="126.0" height="120.0"/></clipPath><g clip-path="url(#c3_5)"><path d="M104.6 113.1 L247.2 113.1 L247.2 255.7 L104.6 255.7Z" fill="#fffa2a"/><path d="M171.0 113.1 L247.2 113.1 L247.2 251.5 L237.4 251.5 C237.4 251.5 235.7 249.0 234.5 248.0 C233.4 246.9 231.9 246.2 230.3 245.1 C228.6 244.1 226.5 243.1 224.6 241.6 C222.8 240.1 220.9 237.3 219.0 236.0 C217.1 234.7 214.9 234.6 213.3 233.9 C211.8 233.1 210.3 233.3 209.8 231.7 C209.3 230.2 210.3 227.3 210.5 224.7 C210.8 222.1 211.0 218.8 211.2 216.2 C211.5 213.6 211.3 211.0 211.9 209.1 C212.5 207.2 213.6 206.1 214.8 204.9 C215.9 203.7 217.6 203.0 219.0 202.1 C220.4 201.1 221.8 200.2 223.2 199.2 C224.6 198.3 226.3 197.4 227.5 196.4 C228.6 195.5 228.9 194.8 230.3 193.6 C231.7 192.4 234.6 191.2 235.9 189.4 C237.2 187.5 237.5 184.7 238.1 182.3 C238.7 179.9 239.4 177.6 239.5 175.2 C239.6 172.9 238.8 170.5 238.8 168.2 C238.8 165.8 239.5 163.3 239.5 161.1 C239.5 158.9 239.8 156.3 238.8 154.8 C237.7 153.2 235.0 152.6 233.1 151.9 C231.3 151.2 228.7 151.3 227.8 150.5 C226.8 149.7 228.2 148.3 227.5 147.0 C226.7 145.7 224.6 143.3 223.2 142.7 C221.8 142.2 220.6 143.1 219.0 143.5 C217.3 143.8 215.2 144.0 213.3 144.9 C211.5 145.7 209.3 147.1 207.7 148.4 C206.0 149.7 204.9 151.2 203.5 152.6 C202.0 154.0 200.4 155.5 199.2 156.9 C198.0 158.3 197.6 160.4 196.4 161.1 C195.2 161.8 193.1 160.4 192.2 161.1 C191.2 161.8 191.5 163.9 190.7 165.3 C190.0 166.8 188.4 168.2 187.9 169.6 C187.5 171.0 188.4 172.6 187.9 173.8 C187.5 175.0 186.5 175.9 185.1 176.6 C183.7 177.4 181.1 177.4 179.4 178.1 C177.8 178.8 176.3 179.7 175.2 180.9 C174.1 182.1 173.4 183.0 173.1 185.1 C172.7 187.2 173.2 191.2 173.1 193.6 C173.0 196.0 173.2 198.1 172.4 199.2 C171.6 200.4 169.8 200.7 168.1 200.7 C166.5 200.7 164.1 200.0 162.5 199.2 C160.8 198.5 159.4 197.8 158.3 196.4 C157.1 195.0 155.9 193.1 155.4 190.8 C155.0 188.4 155.7 184.4 155.4 182.3 C155.2 180.2 154.1 179.9 154.0 178.1 C153.9 176.2 154.3 173.6 154.7 171.0 C155.2 168.4 156.0 164.6 156.8 162.5 C157.7 160.4 158.5 159.2 159.7 158.3 C160.8 157.3 162.5 157.3 163.9 156.9 C165.3 156.4 167.0 156.4 168.1 155.5 C169.3 154.5 170.6 152.9 171.0 151.2 C171.3 149.6 171.0 147.5 170.3 145.6 C169.6 143.7 167.7 142.0 166.7 139.9 C165.8 137.8 165.3 135.2 164.6 132.9 C163.9 130.5 162.6 127.7 162.5 125.8 C162.4 123.9 163.0 122.7 163.9 121.6 C164.9 120.4 167.0 120.1 168.1 118.7 C169.3 117.3 171.0 113.1 171.0 113.1Z" fill="#ffffff"/><path d="M104.6 158.3 C104.6 158.3 111.4 162.1 114.5 163.9 C117.5 165.8 120.8 168.8 122.9 169.6 C125.1 170.4 125.9 168.2 127.2 168.9 C128.5 169.6 129.5 171.8 130.7 173.8 C131.9 175.8 133.4 178.3 134.2 180.9 C135.1 183.5 135.6 186.8 135.9 189.4 C136.3 191.9 136.3 192.4 136.4 196.4 C136.4 200.4 136.4 209.1 136.4 213.4 C136.4 217.6 136.0 219.5 136.4 221.8 C136.7 224.2 137.7 225.6 138.5 227.5 C139.3 229.4 140.8 231.3 141.3 233.1 C141.8 235.0 140.8 236.9 141.3 238.8 C141.8 240.7 143.0 242.9 144.1 244.4 C145.3 246.0 147.2 246.8 148.4 248.0 C149.5 249.2 151.2 251.5 151.2 251.5 L104.6 251.5 L104.6 158.3Z" fill="#ffffff"/><path d="M132.1 142.0 C132.4 141.2 134.0 139.9 135.0 139.6 C135.9 139.4 136.7 139.6 137.8 140.6 C138.8 141.6 140.1 143.8 141.3 145.6 C142.5 147.3 143.7 149.3 144.8 151.2 C146.0 153.1 148.1 155.4 148.4 156.9 C148.6 158.3 147.1 159.7 146.3 160.0 C145.4 160.2 144.1 159.4 143.0 158.3 C141.9 157.2 141.0 155.0 139.9 153.3 C138.8 151.7 137.4 149.8 136.4 148.4 C135.3 147.0 134.2 145.9 133.5 144.9 C132.8 143.8 131.9 142.9 132.1 142.0Z" fill="#ffffff"/><path d="M119.4 137.1 C119.7 136.6 121.5 136.0 122.9 136.0 C124.4 136.0 127.2 136.6 127.9 137.1 C128.6 137.6 128.2 138.9 127.2 139.2 C126.1 139.6 122.8 139.6 121.5 139.2 C120.2 138.9 119.2 137.6 119.4 137.1Z" fill="#ffffff"/><path d="M153.3 199.2 C153.6 197.7 154.8 197.1 155.4 197.1 C156.0 197.1 156.7 198.0 156.8 199.2 C157.0 200.5 156.6 203.7 156.1 204.9 C155.7 206.1 154.5 207.2 154.0 206.3 C153.6 205.4 153.1 200.8 153.3 199.2Z" fill="#ffffff"/><path d="M202.3 182.3 C202.8 181.4 204.0 180.6 204.9 180.6 C205.7 180.6 207.1 181.2 207.4 182.3 C207.8 183.4 207.5 186.2 207.0 187.2 C206.4 188.3 204.9 188.9 204.2 188.7 C203.4 188.4 202.6 186.9 202.3 185.8 C202.0 184.8 201.9 183.2 202.3 182.3Z" fill="#ffffff"/><path d="M110.2 113.1 C110.2 113.1 111.9 116.9 113.1 118.7 C114.2 120.6 115.7 122.7 117.3 124.4 C118.9 126.0 121.3 128.0 122.9 128.6 C124.6 129.2 126.4 128.6 127.2 127.9 C128.0 127.2 128.4 125.7 127.9 124.4 C127.4 123.1 125.7 121.6 124.4 120.1 C123.1 118.7 121.3 117.1 120.1 115.9 C118.9 114.7 117.3 113.1 117.3 113.1 L110.2 113.1Z" fill="#079607"/><path d="M104.6 147.0 C104.6 147.0 108.4 149.1 110.2 150.5 C112.1 151.9 114.0 153.7 115.9 155.5 C117.8 157.2 119.7 159.5 121.5 161.1 C123.4 162.8 125.3 164.1 127.2 165.3 C129.1 166.6 131.1 167.8 132.8 168.9 C134.6 169.9 136.6 171.4 137.8 171.7 C139.0 172.1 139.5 171.8 139.9 171.0 C140.3 170.2 140.3 168.4 139.9 166.8 C139.5 165.1 138.7 163.0 137.8 161.1 C136.8 159.2 135.4 157.1 134.2 155.5 C133.1 153.8 131.9 152.5 130.7 151.2 C129.5 149.9 128.5 148.8 127.2 147.7 C125.9 146.6 124.6 145.7 122.9 144.9 C121.3 144.0 119.2 143.6 117.3 142.7 C115.4 141.9 113.3 141.1 111.6 139.9 C110.0 138.7 108.6 137.1 107.4 135.7 C106.2 134.3 104.6 131.4 104.6 131.4 L104.6 147.0Z" fill="#079607"/><path d="M140.6 191.5 C141.1 189.5 141.8 188.2 142.7 187.2 C143.7 186.3 145.3 185.5 146.3 185.8 C147.2 186.2 148.0 187.4 148.4 189.4 C148.7 191.4 148.5 195.0 148.4 197.8 C148.3 200.7 148.0 203.5 147.7 206.3 C147.3 209.1 147.0 212.5 146.3 214.8 C145.5 217.0 144.3 219.5 143.4 219.7 C142.6 220.0 141.8 218.2 141.3 216.2 C140.8 214.2 140.8 210.5 140.6 207.7 C140.4 204.9 139.9 202.0 139.9 199.2 C139.9 196.5 140.1 193.5 140.6 191.5Z" fill="#079607"/><path d="M205.6 161.1 C205.9 159.2 206.6 157.0 207.7 155.5 C208.8 153.9 210.3 152.6 211.9 151.9 C213.6 151.3 216.1 151.3 217.6 151.5 C219.1 151.7 220.6 152.4 221.1 153.3 C221.6 154.2 221.0 155.3 220.4 156.9 C219.8 158.4 217.8 160.6 217.6 162.5 C217.3 164.4 217.8 166.9 219.0 168.2 C220.2 169.5 222.9 169.6 224.6 170.3 C226.4 171.0 228.6 170.9 229.6 172.4 C230.5 173.9 229.9 177.4 230.3 179.5 C230.6 181.6 231.7 183.2 231.7 185.1 C231.7 187.0 231.2 189.4 230.3 190.8 C229.4 192.2 227.5 192.7 226.1 193.6 C224.6 194.5 223.2 196.0 221.8 196.4 C220.4 196.9 218.8 197.4 217.6 196.4 C216.4 195.5 215.7 192.9 214.8 190.8 C213.8 188.7 212.8 186.1 211.9 183.7 C211.1 181.4 210.5 178.8 209.8 176.6 C209.1 174.5 208.4 172.6 207.7 171.0 C207.0 169.3 205.9 168.4 205.6 166.8 C205.2 165.1 205.2 163.0 205.6 161.1Z" fill="#079607"/><path d="M192.2 212.0 C192.3 210.0 192.6 208.2 193.6 206.3 C194.5 204.4 196.2 202.0 197.8 200.7 C199.5 199.4 201.9 198.5 203.5 198.5 C205.0 198.5 206.2 199.4 207.0 200.7 C207.8 202.0 208.2 204.2 208.4 206.3 C208.6 208.4 208.6 211.0 208.4 213.4 C208.2 215.7 207.6 218.3 207.0 220.4 C206.4 222.6 205.9 225.0 204.9 226.1 C203.8 227.1 202.0 227.3 200.6 226.8 C199.2 226.3 197.7 224.7 196.4 223.3 C195.1 221.8 193.6 220.2 192.9 218.3 C192.2 216.4 192.0 214.0 192.2 212.0Z" fill="#079607"/><path d="M164.6 219.0 C164.6 217.5 165.0 215.8 166.0 214.8 C167.1 213.7 169.2 213.0 171.0 212.7 C172.7 212.3 175.0 212.2 176.6 212.7 C178.3 213.1 179.8 214.2 180.9 215.5 C181.9 216.8 182.5 218.7 183.0 220.4 C183.4 222.2 183.8 224.4 183.7 226.1 C183.6 227.7 183.2 229.4 182.3 230.3 C181.3 231.3 179.4 231.6 178.0 231.7 C176.6 231.8 175.2 231.7 173.8 231.0 C172.4 230.3 170.9 228.7 169.6 227.5 C168.3 226.3 166.9 225.4 166.0 224.0 C165.2 222.6 164.6 220.5 164.6 219.0Z" fill="#079607"/><path d="M149.1 236.0 C148.8 234.7 149.5 232.9 150.5 231.7 C151.4 230.6 153.3 229.6 154.7 228.9 C156.1 228.2 157.9 227.4 159.0 227.5 C160.1 227.6 161.1 228.4 161.4 229.6 C161.6 230.8 161.1 233.1 160.4 234.6 C159.6 236.0 158.3 237.3 156.8 238.1 C155.4 238.9 153.2 239.9 151.9 239.5 C150.6 239.1 149.3 237.3 149.1 236.0Z" fill="#079607"/><path d="M104.6 135.7 C104.6 135.7 107.2 139.8 108.8 141.3 C110.5 142.9 112.6 143.9 114.5 144.9 C116.4 145.8 118.2 146.0 120.1 147.0 C122.0 147.9 124.1 149.3 125.8 150.5 C127.4 151.7 129.0 152.8 130.0 154.0 C131.1 155.3 131.8 157.0 132.1 158.3 C132.5 159.6 132.6 161.0 132.1 161.8 C131.7 162.6 130.4 163.6 129.3 163.2 C128.2 162.9 127.3 161.0 125.8 159.7 C124.2 158.4 122.0 156.6 120.1 155.5 C118.2 154.3 116.4 153.7 114.5 152.6 C112.6 151.6 110.5 150.2 108.8 149.1 C107.2 148.0 104.6 146.3 104.6 146.3 L104.6 135.7Z" fill="#1c67d2"/><path d="M143.0 195.0 C143.2 194.5 144.2 194.3 144.8 194.3 C145.5 194.3 146.7 194.5 147.0 195.0 C147.3 195.5 147.2 196.7 146.7 197.1 C146.2 197.6 144.5 197.9 143.9 197.6 C143.2 197.2 142.8 195.5 143.0 195.0Z" fill="#1c67d2"/><path d="M209.1 162.5 C209.3 161.1 209.7 159.2 210.5 158.3 C211.3 157.3 213.0 156.9 214.1 156.9 C215.1 156.9 216.5 157.1 216.9 158.3 C217.2 159.5 216.5 162.2 216.2 163.9 C215.8 165.7 215.6 167.9 214.8 168.9 C213.9 169.8 212.2 169.9 211.2 169.6 C210.3 169.2 209.5 167.9 209.1 166.8 C208.8 165.6 208.9 163.9 209.1 162.5Z" fill="#1c67d2"/><path d="M217.6 185.1 C217.8 183.5 219.2 182.3 220.4 181.6 C221.6 180.9 223.6 180.4 224.6 180.9 C225.7 181.4 226.5 183.0 226.8 184.4 C227.0 185.8 226.8 188.1 226.1 189.4 C225.4 190.7 223.7 191.8 222.5 192.2 C221.3 192.5 219.8 192.7 219.0 191.5 C218.2 190.3 217.3 186.8 217.6 185.1Z" fill="#1c67d2"/><path d="M195.7 212.0 C195.7 210.2 196.3 208.3 197.1 207.0 C197.9 205.7 199.3 204.8 200.6 204.2 C201.9 203.6 203.9 203.0 204.9 203.5 C205.8 204.0 206.2 205.4 206.3 207.0 C206.4 208.7 206.0 211.4 205.6 213.4 C205.1 215.4 204.4 217.8 203.5 219.0 C202.5 220.2 201.0 220.7 199.9 220.4 C198.9 220.2 197.8 219.0 197.1 217.6 C196.4 216.2 195.7 213.7 195.7 212.0Z" fill="#1c67d2"/></g><clipPath id="c3_6"><rect x="239.0" y="122.5" width="122.0" height="120.0"/></clipPath><g clip-path="url(#c3_6)"><path d="M264.8 132.9 C264.8 132.2 266.3 131.4 267.0 131.4 C267.7 131.5 269.0 132.5 269.1 133.1 C269.1 133.8 267.9 135.5 267.2 135.4 C266.5 135.4 264.9 133.5 264.8 132.9Z" fill="#fffa2a"/></g><clipPath id="c3_7"><rect x="-4.0" y="242.5" width="117.0" height="146.0"/></clipPath><g clip-path="url(#c3_7)"><path d="M44.0 299.6 C44.1 298.4 44.0 296.5 45.4 295.4 C46.8 294.4 50.6 294.8 52.5 293.3 C54.4 291.8 54.9 287.4 56.7 286.2 C58.6 285.1 61.4 285.9 63.8 286.2 C66.2 286.6 69.3 287.2 70.9 288.3 C72.4 289.5 73.0 291.6 73.0 293.3 C73.0 294.9 72.4 296.9 70.9 298.2 C69.3 299.5 66.2 300.2 63.8 301.1 C61.4 301.9 59.1 302.6 56.7 303.2 C54.4 303.8 51.7 304.6 49.7 304.6 C47.7 304.6 45.7 304.0 44.7 303.2 C43.8 302.4 43.9 300.9 44.0 299.6Z" fill="#fffa2a"/></g><clipPath id="c3_8"><rect x="113.0" y="242.5" width="126.0" height="146.0"/></clipPath><g clip-path="url(#c3_8)"><path d="M141.3 236.1 C141.3 236.1 141.3 240.1 142.0 241.7 C142.7 243.4 143.8 244.9 145.5 246.0 C147.3 247.0 149.8 247.5 152.6 248.1 C155.4 248.7 159.4 249.0 162.5 249.5 C165.6 250.0 169.1 250.1 171.0 250.9 C172.9 251.7 172.1 253.4 173.8 254.4 C175.4 255.5 178.7 256.7 180.9 257.3 C183.0 257.9 184.9 257.7 186.5 258.0 C188.2 258.2 189.1 258.2 190.7 258.7 C192.4 259.2 194.0 259.7 196.4 260.8 C198.7 261.9 202.3 263.5 204.9 265.0 C207.5 266.6 209.8 268.2 211.9 270.0 C214.1 271.8 216.2 273.5 217.6 275.6 C219.0 277.8 219.5 280.3 220.4 282.7 C221.3 285.1 222.1 287.6 223.2 289.8 C224.4 291.9 225.8 293.5 227.5 295.4 C229.1 297.3 231.0 298.9 233.1 301.1 C235.2 303.2 237.8 306.0 240.2 308.1 C242.5 310.2 247.2 313.8 247.2 313.8 L247.2 250.9 C247.2 250.9 242.5 250.8 240.2 250.2 C237.8 249.6 235.5 248.3 233.1 247.4 C230.8 246.4 227.9 245.7 226.1 244.6 C224.2 243.4 223.0 241.7 221.8 240.3 C220.6 238.9 219.0 236.1 219.0 236.1 L141.3 236.1Z" fill="#fffa2a"/><path d="M114.5 272.8 C114.8 271.0 115.8 270.0 116.6 269.3 C117.4 268.6 118.7 267.7 119.4 268.6 C120.1 269.4 120.8 272.1 120.8 274.2 C120.8 276.3 120.1 279.5 119.4 281.3 C118.7 283.1 117.4 285.1 116.6 284.8 C115.8 284.6 115.1 281.9 114.8 279.9 C114.4 277.9 114.2 274.6 114.5 272.8Z" fill="#fffa2a"/><path d="M199.2 316.6 C199.2 315.2 201.5 313.3 202.8 313.1 C204.0 312.8 206.0 314.1 207.0 315.2 C207.9 316.2 208.4 318.2 208.4 319.4 C208.4 320.6 207.9 321.9 207.0 322.2 C206.0 322.6 204.0 322.5 202.8 321.5 C201.5 320.6 199.2 318.0 199.2 316.6Z" fill="#fffa2a"/><path d="M215.5 321.5 C215.5 321.0 217.9 320.1 219.0 319.4 C220.1 318.8 221.5 317.3 222.1 317.7 C222.7 318.2 223.0 321.4 222.5 322.2 C222.0 323.1 220.2 323.1 219.0 323.0 C217.8 322.8 215.5 322.1 215.5 321.5Z" fill="#fffa2a"/><path d="M220.4 258.7 C220.4 257.7 221.8 256.8 223.2 256.6 C224.6 256.3 227.0 256.3 228.9 257.3 C230.8 258.2 232.6 260.5 234.5 262.2 C236.4 264.0 238.1 266.1 240.2 267.9 C242.3 269.6 247.2 272.8 247.2 272.8 L247.2 295.4 C247.2 295.4 244.4 293.1 243.0 291.2 C241.6 289.3 240.4 286.7 238.8 284.1 C237.1 281.5 235.0 278.5 233.1 275.6 C231.2 272.8 229.1 269.4 227.5 267.2 C225.8 264.9 224.4 263.6 223.2 262.2 C222.1 260.8 220.4 259.6 220.4 258.7Z" fill="#079607"/><path d="M148.4 236.1 C148.4 236.1 148.4 239.1 149.1 239.6 C149.8 240.1 151.6 239.7 152.6 239.2 C153.7 238.7 155.4 236.8 155.4 236.8 L155.4 236.1 L148.4 236.1Z" fill="#079607"/></g><clipPath id="c3_9"><rect x="239.0" y="242.5" width="122.0" height="146.0"/></clipPath><g clip-path="url(#c3_9)"><path d="M224.6 246.0 C224.6 246.0 229.3 245.2 231.6 246.0 C234.0 246.8 236.1 250.1 238.7 250.9 C241.3 251.7 244.1 250.1 247.2 250.9 C250.2 251.7 254.5 254.1 257.1 255.9 C259.7 257.6 260.1 259.9 262.7 261.5 C265.3 263.2 269.3 264.2 272.6 265.7 C275.9 267.3 279.7 269.2 282.5 270.7 C285.3 272.2 287.9 272.9 289.6 274.9 C291.2 276.9 291.9 279.0 292.4 282.7 C292.9 286.3 292.7 292.1 292.7 296.8 C292.6 301.5 293.1 307.7 292.1 310.9 C291.1 314.2 289.0 314.9 286.7 316.6 C284.4 318.2 281.3 320.1 278.3 320.8 C275.2 321.5 271.9 321.1 268.4 320.8 C264.8 320.6 260.6 320.5 257.1 319.4 C253.5 318.4 250.2 316.4 247.2 314.5 C244.1 312.6 241.5 310.5 238.7 308.1 C235.9 305.8 232.6 302.5 230.2 300.4 C227.9 298.2 224.6 295.4 224.6 295.4 L224.6 246.0Z" fill="#fffa2a"/><path d="M338.3 303.2 C338.5 302.0 341.2 301.0 343.2 300.4 C345.2 299.7 347.0 299.5 350.3 299.4 C353.6 299.2 360.9 297.8 363.0 299.6 C365.1 301.5 364.7 308.6 363.0 310.2 C361.4 311.8 355.9 309.5 353.1 309.3 C350.3 309.0 347.9 309.1 346.1 308.8 C344.2 308.5 343.1 308.4 341.8 307.4 C340.5 306.5 338.1 304.4 338.3 303.2Z" fill="#fffa2a"/><path d="M224.6 256.6 C224.6 256.6 228.4 257.4 230.2 258.7 C232.1 260.0 234.0 262.2 235.9 264.3 C237.8 266.5 239.4 269.0 241.5 271.4 C243.7 273.8 246.0 276.7 248.6 278.5 C251.2 280.2 254.0 280.9 257.1 282.0 C260.1 283.1 264.1 283.8 267.0 284.8 C269.8 285.9 272.2 286.8 274.0 288.3 C275.9 289.9 277.6 292.3 278.0 294.0 C278.3 295.7 277.5 297.6 276.1 298.5 C274.8 299.5 271.9 299.9 269.8 299.6 C267.7 299.4 265.5 297.4 263.4 296.8 C261.3 296.2 259.3 295.9 257.1 296.1 C254.8 296.4 252.1 298.6 250.0 298.2 C247.9 297.9 246.0 295.9 244.4 294.0 C242.7 292.1 241.8 289.5 240.1 286.9 C238.5 284.3 236.4 281.2 234.5 278.5 C232.6 275.8 230.5 272.6 228.8 270.7 C227.2 268.8 224.6 267.2 224.6 267.2 L224.6 256.6Z" fill="#079607"/></g>
</g>
<g clip-path="url(#clip)"><use href="#coast"/></g>
<rect x="0.5" y="0.4" width="359.5" height="387.4" fill="none" stroke="#000" stroke-width="1.3"/>
<use href="#axes"/><use href="#cbar"/><use href="#cbl"/>
</g>
<g transform="translate(565,557.5)">
<text x="-18.7" y="-9.1" font-size="19.4" textLength="97.1" lengthAdjust="spacingAndGlyphs">Precipitacao</text><text x="89.3" y="-9.1" font-size="19.4" textLength="85.4" lengthAdjust="spacingAndGlyphs">acumulada</text><text x="185.4" y="-9.1" font-size="19.4" textLength="22.8" lengthAdjust="spacingAndGlyphs">em</text><text x="219.3" y="-9.1" font-size="19.4" textLength="18.8" lengthAdjust="spacingAndGlyphs">24</text><text x="249.9" y="-9.1" font-size="19.4" textLength="22.9" lengthAdjust="spacingAndGlyphs">hrs</text><text x="283.9" y="-9.1" font-size="19.4" textLength="9.7" lengthAdjust="spacingAndGlyphs">&gt;</text><text x="307.1" y="-9.1" font-size="19.4" textLength="30.9" lengthAdjust="spacingAndGlyphs">20.0</text><text x="350.5" y="-9.1" font-size="19.4" textLength="28.7" lengthAdjust="spacingAndGlyphs">mm</text>
<g clip-path="url(#clip)" shape-rendering="crispEdges">
<clipPath id="c4_0"><rect x="0.0" y="0.0" width="360.0" height="388.0"/></clipPath><g clip-path="url(#c4_0)"><path d="M-0.1 37.6 C2.3 34.8 10.4 38.5 14.4 38.4 C18.5 38.3 21.2 37.6 24.1 36.8 C27.1 36.0 28.2 34.0 32.2 33.6 C36.3 33.1 42.5 33.7 48.4 33.9 C54.4 34.0 63.3 34.7 67.9 34.4 C72.5 34.0 73.0 32.5 76.0 31.9 C78.9 31.4 83.5 30.6 85.7 31.1 C87.8 31.7 87.8 34.2 88.9 35.2 C90.0 36.1 90.5 36.5 92.2 36.8 C93.8 37.1 96.5 36.1 98.6 36.8 C100.8 37.5 103.5 39.8 105.1 40.8 C106.7 41.9 106.9 43.9 108.4 43.3 C109.8 42.6 112.4 39.0 114.0 36.8 C115.6 34.6 116.3 32.4 118.1 30.3 C119.8 28.2 122.4 25.5 124.6 24.2 C126.7 22.9 129.2 22.2 131.0 22.5 C132.9 22.9 135.3 24.8 135.6 26.3 C135.8 27.7 134.2 29.4 132.7 31.1 C131.1 32.9 128.1 35.0 126.2 36.8 C124.3 38.5 122.0 39.9 121.3 41.6 C120.6 43.4 122.7 45.4 122.1 47.3 C121.6 49.2 119.8 51.2 118.1 53.0 C116.3 54.7 113.2 55.7 111.6 57.8 C110.0 60.0 110.0 63.2 108.4 65.9 C106.7 68.6 103.5 72.3 101.9 74.0 C100.3 75.8 99.6 75.1 98.6 76.5 C97.7 77.8 97.2 80.9 96.2 82.1 C95.3 83.4 94.2 84.4 93.0 83.8 C91.8 83.1 89.7 79.8 88.9 78.1 C88.1 76.3 87.8 74.7 88.1 73.2 C88.4 71.7 89.9 70.9 90.5 69.2 C91.2 67.4 92.2 65.1 92.2 62.7 C92.2 60.3 91.4 55.5 90.5 54.6 C89.7 53.7 88.5 56.0 87.3 57.0 C86.1 58.1 85.1 60.5 83.3 60.8 C81.4 61.0 78.8 59.1 76.0 58.7 C73.1 58.2 70.3 58.2 66.3 57.8 C62.2 57.4 55.5 56.2 51.7 56.2 C47.9 56.2 46.6 58.1 43.6 57.8 C40.6 57.6 37.9 55.3 33.9 54.6 C29.8 53.9 23.9 53.6 19.3 53.8 C14.7 54.0 9.6 55.6 6.3 55.9 C3.1 56.2 0.9 58.5 -0.1 55.4 C-1.2 52.4 -2.6 40.4 -0.1 37.6Z" fill="#fffa2a"/><path d="M93.5 86.7 C94.0 86.7 95.4 88.5 95.4 89.4 C95.5 90.3 94.3 92.2 93.8 92.2 C93.2 92.2 92.2 90.3 92.2 89.4 C92.1 88.5 92.9 86.7 93.5 86.7Z" fill="#fffa2a"/><path d="M100.3 88.6 C100.8 86.6 103.6 83.0 105.1 82.5 C106.6 81.9 108.4 83.9 109.2 85.4 C109.9 86.8 110.2 89.2 109.7 91.0 C109.1 92.9 107.2 95.8 105.9 96.4 C104.6 96.9 102.8 95.6 101.9 94.3 C100.9 93.0 99.7 90.6 100.3 88.6Z" fill="#fffa2a"/><path d="M88.1 108.0 C88.3 105.5 89.3 103.8 90.5 102.4 C91.8 101.0 93.8 99.8 95.4 99.6 C97.0 99.4 98.9 100.1 100.3 101.2 C101.6 102.4 102.4 103.9 103.5 106.4 C104.6 108.9 105.7 112.9 106.7 116.1 C107.8 119.4 109.2 122.6 110.0 125.9 C110.7 129.1 111.5 133.0 111.3 135.6 C111.0 138.1 109.7 140.3 108.4 141.2 C107.1 142.2 105.1 142.1 103.5 141.2 C101.9 140.4 100.3 138.8 98.6 136.4 C97.0 134.0 95.3 129.8 93.8 126.7 C92.3 123.6 90.7 120.9 89.7 117.8 C88.8 114.7 88.0 110.6 88.1 108.0Z" fill="#fffa2a"/><path d="M114.8 146.9 C115.0 144.8 117.3 142.9 118.9 142.1 C120.5 141.2 122.7 141.4 124.6 142.1 C126.4 142.7 128.6 144.1 130.2 146.1 C131.8 148.1 133.9 151.8 134.3 154.2 C134.7 156.6 133.7 159.2 132.7 160.7 C131.6 162.2 129.4 163.1 127.8 163.1 C126.2 163.1 124.6 162.0 122.9 160.7 C121.3 159.3 119.4 157.3 118.1 155.0 C116.7 152.7 114.7 149.1 114.8 146.9Z" fill="#fffa2a"/><path d="M155.2 49.7 C155.4 48.1 156.3 45.3 157.7 44.1 C159.0 42.8 161.5 41.9 163.3 42.1 C165.2 42.4 167.9 43.9 169.0 45.7 C170.1 47.5 170.4 51.0 169.8 53.0 C169.3 55.0 167.3 57.0 165.8 57.8 C164.3 58.7 162.4 58.5 160.9 57.8 C159.4 57.2 157.8 55.1 156.9 53.8 C155.9 52.4 155.1 51.4 155.2 49.7Z" fill="#fffa2a"/><path d="M164.1 73.2 C164.3 71.3 165.4 68.6 166.6 67.6 C167.8 66.5 170.1 66.1 171.4 66.8 C172.8 67.4 174.3 69.7 174.7 71.6 C175.1 73.5 174.8 76.4 173.9 78.1 C172.9 79.8 170.4 81.7 169.0 81.8 C167.6 81.9 166.3 80.3 165.4 78.9 C164.6 77.5 164.0 75.1 164.1 73.2Z" fill="#fffa2a"/><path d="M201.4 42.5 C201.7 40.2 203.0 37.6 204.6 36.0 C206.3 34.4 208.1 33.0 211.1 32.7 C214.1 32.5 219.2 33.8 222.4 34.4 C225.7 34.9 227.6 36.1 230.5 36.0 C233.5 35.8 237.0 34.0 240.3 33.6 C243.5 33.1 247.3 32.4 250.0 33.2 C252.7 34.0 254.0 37.1 256.5 38.4 C258.9 39.8 261.9 41.3 264.6 41.3 C267.3 41.4 270.0 38.1 272.7 38.7 C275.4 39.3 278.2 42.8 280.7 44.9 C283.3 47.0 286.4 49.1 288.0 51.4 C289.7 53.7 290.8 56.1 290.8 58.7 C290.8 61.2 289.7 64.6 288.0 66.8 C286.4 68.9 283.3 69.6 280.7 71.6 C278.2 73.6 275.4 77.8 272.7 78.6 C270.0 79.4 268.1 76.3 264.6 76.5 C261.0 76.7 255.6 79.6 251.6 79.7 C247.6 79.8 244.0 78.2 240.3 77.3 C236.5 76.3 232.4 75.8 228.9 74.0 C225.4 72.3 222.4 69.5 219.2 66.8 C216.0 64.1 212.2 60.7 209.5 57.8 C206.8 55.0 204.4 52.3 203.0 49.7 C201.7 47.2 201.1 44.8 201.4 42.5Z" fill="#fffa2a"/><path d="M298.4 66.7 C299.2 65.0 302.9 60.6 305.7 58.6 C308.5 56.6 311.9 56.5 315.4 54.6 C318.9 52.7 323.5 49.6 326.7 47.3 C330.0 45.0 332.1 42.3 334.8 40.8 C337.5 39.3 340.0 38.2 342.9 38.4 C345.9 38.5 349.4 40.7 352.7 41.6 C355.9 42.5 360.7 40.3 362.4 44.0 C364.0 47.8 364.5 60.2 362.4 64.3 C360.2 68.3 352.9 67.9 349.4 68.3 C345.9 68.7 344.8 67.4 341.3 66.7 C337.8 66.0 333.2 64.2 328.4 64.0 C323.5 63.7 316.8 64.3 312.2 65.1 C307.6 65.9 303.1 68.5 300.8 68.8 C298.5 69.1 297.6 68.4 298.4 66.7Z" fill="#fffa2a"/><path d="M208.4 157.1 C208.6 155.1 209.6 152.7 210.8 151.4 C212.0 150.1 214.2 149.2 215.6 149.3 C217.1 149.4 219.0 150.7 219.7 152.2 C220.4 153.8 219.8 156.3 219.7 158.7 C219.6 161.1 218.1 165.2 218.9 166.8 C219.7 168.4 222.9 168.7 224.6 168.4 C226.2 168.1 227.4 164.8 228.6 164.8 C229.8 164.8 231.4 166.2 231.8 168.4 C232.2 170.6 231.3 175.0 231.0 178.1 C230.8 181.2 231.3 184.3 230.2 187.0 C229.1 189.7 226.3 192.3 224.6 194.3 C222.8 196.3 221.3 198.2 219.7 199.2 C218.1 200.1 216.3 200.5 214.8 200.0 C213.4 199.5 211.9 198.0 210.8 195.9 C209.7 193.9 208.8 190.5 208.4 187.8 C208.0 185.1 208.2 182.4 208.4 179.7 C208.5 177.0 209.0 174.3 209.2 171.6 C209.3 169.0 209.3 166.0 209.2 163.6 C209.0 161.1 208.1 159.1 208.4 157.1Z" fill="#fffa2a"/><path d="M140.3 187.8 C140.7 185.3 142.4 183.3 143.6 182.2 C144.8 181.1 146.3 180.7 147.6 181.4 C149.0 182.0 151.0 183.8 151.7 186.2 C152.4 188.7 152.1 192.4 152.0 195.9 C151.9 199.5 151.3 203.5 150.9 207.3 C150.4 211.1 150.2 215.9 149.3 218.6 C148.3 221.3 146.6 222.7 145.2 223.5 C143.9 224.3 142.3 224.6 141.2 223.5 C140.0 222.4 138.5 219.7 138.4 217.0 C138.3 214.3 139.9 210.5 140.3 207.3 C140.8 204.0 141.2 200.8 141.2 197.6 C141.2 194.3 139.9 190.4 140.3 187.8Z" fill="#fffa2a"/><path d="M188.9 213.8 C188.9 211.1 189.5 208.1 190.5 205.7 C191.6 203.2 193.5 200.6 195.4 199.2 C197.3 197.8 199.7 197.2 201.9 197.2 C204.0 197.2 207.0 197.5 208.4 199.2 C209.8 200.9 210.0 204.6 210.3 207.3 C210.6 210.0 210.6 212.7 210.0 215.4 C209.4 218.1 208.4 221.3 206.7 223.5 C205.1 225.6 202.4 227.8 200.3 228.3 C198.1 228.9 195.4 227.8 193.8 226.7 C192.2 225.6 191.4 224.0 190.5 221.9 C189.7 219.7 188.9 216.5 188.9 213.8Z" fill="#fffa2a"/><path d="M148.4 239.7 C148.4 238.0 149.7 236.5 150.9 235.6 C152.1 234.8 154.6 235.4 155.7 234.5 C156.8 233.5 157.2 231.8 157.3 229.9 C157.5 228.1 156.3 226.2 156.5 223.5 C156.8 220.8 157.6 216.5 159.0 213.8 C160.3 211.1 162.3 208.5 164.6 207.3 C166.9 206.1 170.0 206.5 172.7 206.5 C175.4 206.5 178.8 206.6 180.8 207.3 C182.9 208.0 184.1 208.6 184.9 210.5 C185.7 212.4 185.0 216.7 185.7 218.6 C186.4 220.5 187.8 220.2 188.9 221.9 C190.0 223.5 191.4 225.9 192.2 228.3 C193.0 230.8 193.2 234.0 193.8 236.4 C194.3 238.9 194.1 242.1 195.4 242.9 C196.8 243.7 199.7 241.2 201.9 241.3 C204.0 241.4 206.2 242.4 208.4 243.7 C210.5 245.1 212.4 247.6 214.8 249.4 C217.3 251.1 220.0 253.4 222.9 254.2 C225.9 255.1 229.7 253.4 232.7 254.2 C235.6 255.1 238.0 257.6 240.7 259.1 C243.4 260.6 245.6 262.3 248.8 263.1 C252.1 264.0 256.8 263.5 260.3 264.4 C263.9 265.2 267.2 266.7 270.1 268.1 C272.9 269.5 276.3 271.5 277.3 272.9 C278.4 274.4 278.0 276.5 276.5 277.0 C275.1 277.5 271.4 276.2 268.4 276.2 C265.5 276.2 261.8 277.7 258.7 277.0 C255.6 276.3 251.8 272.8 249.8 272.1 C247.8 271.5 246.7 271.9 246.6 272.9 C246.4 274.0 247.5 276.7 249.0 278.6 C250.5 280.5 253.1 282.8 255.5 284.3 C257.9 285.8 261.0 287.1 263.6 287.5 C266.1 287.9 269.7 286.1 270.9 286.7 C272.1 287.3 271.5 290.3 270.9 291.2 C270.2 292.2 268.6 292.7 266.8 292.4 C265.1 292.0 262.8 289.3 260.3 289.1 C257.9 289.0 255.2 291.2 252.2 291.2 C249.3 291.2 245.8 290.3 242.5 289.1 C239.3 288.0 236.1 286.4 232.8 284.3 C229.6 282.1 222.3 276.1 223.1 276.2 C223.9 276.3 236.7 284.5 237.5 285.0 C238.3 285.5 231.0 281.5 227.8 279.3 C224.6 277.2 221.3 274.8 218.1 272.1 C214.8 269.4 211.2 265.8 208.4 263.1 C205.5 260.4 203.2 258.2 201.1 255.9 C198.9 253.6 197.2 251.0 195.4 249.4 C193.7 247.8 192.6 248.0 190.5 246.1 C188.5 244.3 186.0 239.9 183.3 238.0 C180.6 236.2 176.1 235.1 174.4 235.1 C172.6 235.1 174.1 237.6 172.7 238.0 C171.4 238.5 168.4 237.9 166.3 238.0 C164.1 238.2 161.5 237.6 159.8 238.9 C158.0 240.1 157.2 244.2 155.7 245.3 C154.2 246.5 152.1 246.8 150.9 245.8 C149.7 244.9 148.4 241.4 148.4 239.7Z" fill="#fffa2a"/><path d="M36.3 45.7 C36.7 44.8 38.9 42.6 40.3 42.5 C41.8 42.3 44.5 44.1 45.2 44.9 C45.9 45.7 45.6 46.8 44.4 47.3 C43.2 47.8 39.3 48.1 37.9 47.8 C36.6 47.5 35.9 46.6 36.3 45.7Z" fill="#079607"/><path d="M95.4 64.3 C95.1 62.3 96.1 58.2 97.0 56.2 C98.0 54.3 99.9 52.7 101.1 52.7 C102.2 52.7 103.5 54.6 103.8 56.2 C104.2 57.9 104.0 60.7 103.2 62.7 C102.3 64.7 99.9 68.1 98.6 68.4 C97.3 68.6 95.7 66.3 95.4 64.3Z" fill="#079607"/><path d="M92.2 109.7 C92.6 108.3 94.3 106.7 95.4 106.4 C96.5 106.2 97.6 106.4 98.6 108.0 C99.7 109.7 100.8 113.2 101.9 116.1 C103.0 119.1 104.6 123.3 105.1 125.9 C105.6 128.4 105.5 130.6 104.8 131.5 C104.1 132.5 102.5 133.0 101.1 131.5 C99.6 130.0 97.6 125.5 96.2 122.6 C94.9 119.8 93.7 116.7 93.0 114.5 C92.3 112.4 91.8 111.0 92.2 109.7Z" fill="#079607"/><path d="M122.9 151.4 L127.8 151.8 L127.8 153.1 L122.9 152.7Z" fill="#079607"/><path d="M223.3 50.6 C223.9 49.1 225.6 47.2 227.3 46.5 C229.1 45.8 231.4 45.7 233.8 46.5 C236.2 47.3 239.3 49.6 241.9 51.4 C244.4 53.1 248.0 55.3 249.2 57.0 C250.4 58.8 250.1 60.5 249.2 61.9 C248.2 63.3 246.1 64.9 243.5 65.6 C240.9 66.3 236.6 66.6 233.8 65.9 C231.0 65.3 228.3 63.6 226.5 61.9 C224.7 60.1 223.8 57.3 223.3 55.4 C222.7 53.5 222.6 52.0 223.3 50.6Z" fill="#079607"/><path d="M333.2 54.6 C332.8 53.2 334.4 50.9 335.6 49.7 C336.9 48.5 338.8 47.5 340.5 47.6 C342.3 47.7 344.7 49.2 346.2 50.5 C347.6 51.8 349.4 53.9 349.1 55.4 C348.8 56.8 346.4 58.7 344.6 59.1 C342.7 59.5 340.0 58.6 338.1 57.8 C336.2 57.0 333.6 55.9 333.2 54.6Z" fill="#079607"/><path d="M195.4 213.8 C195.3 212.3 196.2 210.7 197.0 209.7 C197.8 208.8 199.5 207.7 200.3 208.1 C201.1 208.5 201.9 210.7 201.9 212.1 C201.9 213.6 200.9 215.9 200.3 217.0 C199.6 218.1 198.6 219.2 197.8 218.6 C197.0 218.1 195.5 215.2 195.4 213.8Z" fill="#079607"/></g>
</g>
<g clip-path="url(#clip)"><use href="#coast"/></g>
<rect x="0.5" y="0.4" width="359.5" height="387.4" fill="none" stroke="#000" stroke-width="1.3"/>
<use href="#axes"/><use href="#cbar"/><use href="#cbl"/>
</g>
</svg></body></html>
